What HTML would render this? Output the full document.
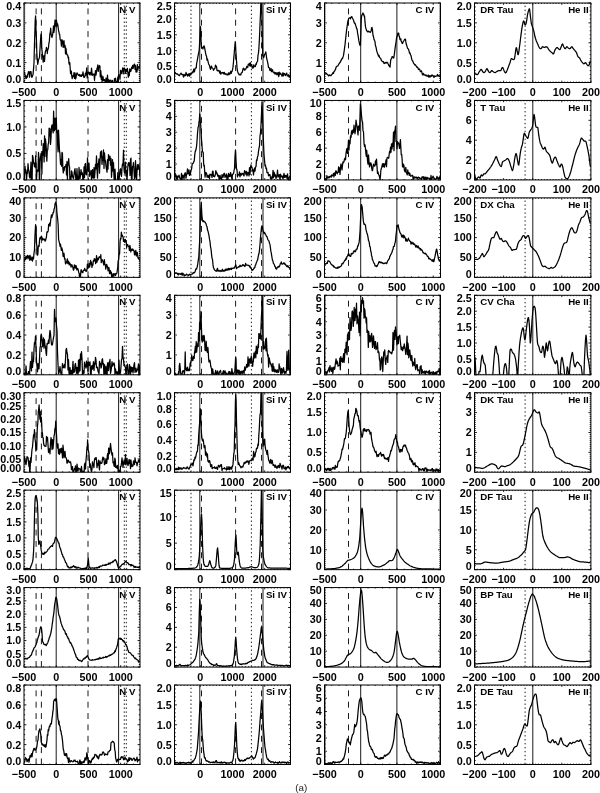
<!DOCTYPE html>
<html><head><meta charset="utf-8"><style>
html,body{margin:0;padding:0;background:#fff;width:600px;height:793px;overflow:hidden}
svg{display:block}
.t{font-family:"Liberation Sans",sans-serif;font-weight:bold;font-size:10.8px;fill:#000}
.n{font-family:"Liberation Sans",sans-serif;font-weight:bold;font-size:9.7px;fill:#000}
.a{font-family:"Liberation Sans",sans-serif;font-size:9.8px;fill:#222}
</style></head><body>
<svg width="600" height="793" viewBox="0 0 600 793">
<defs><filter id="bl" x="0" y="0" width="600" height="793" filterUnits="userSpaceOnUse"><feGaussianBlur stdDeviation="0.3"/></filter></defs>
<rect width="600" height="793" fill="#fff"/>
<g filter="url(#bl)">
<clipPath id="c00"><rect x="24.00" y="3.00" width="116.00" height="79.50"/></clipPath>
<line x1="36.10" y1="3.00" x2="36.10" y2="82.50" stroke="#000" stroke-width="0.9" stroke-dasharray="5.9 5.45" stroke-dashoffset="5.95"/>
<line x1="41.40" y1="3.00" x2="41.40" y2="82.50" stroke="#000" stroke-width="0.9" stroke-dasharray="5.9 5.45" stroke-dashoffset="5.95"/>
<line x1="88.00" y1="3.00" x2="88.00" y2="82.50" stroke="#000" stroke-width="0.9" stroke-dasharray="5.9 5.45" stroke-dashoffset="5.95"/>
<line x1="56.20" y1="3.00" x2="56.20" y2="82.50" stroke="#000" stroke-width="0.9"/>
<line x1="118.60" y1="3.00" x2="118.60" y2="82.50" stroke="#000" stroke-width="0.9"/>
<line x1="124.30" y1="3.00" x2="124.30" y2="82.50" stroke="#000" stroke-width="0.9" stroke-dasharray="1.4 2.55" stroke-dashoffset="1.25"/>
<line x1="126.30" y1="3.00" x2="126.30" y2="82.50" stroke="#000" stroke-width="0.9" stroke-dasharray="1.4 2.55" stroke-dashoffset="1.25"/>
<polyline clip-path="url(#c00)" fill="none" stroke="#000" stroke-width="1.25" stroke-linejoin="round" points="24.00,73.17 24.50,72.12 25.00,74.98 25.50,76.30 25.93,78.72 26.35,78.10 26.77,75.76 27.20,77.51 27.63,74.47 28.07,73.77 28.50,71.62 29.00,72.01 29.50,77.09 30.00,71.52 30.50,72.09 31.00,71.63 31.50,76.60 32.00,77.35 32.50,75.83 33.00,74.67 33.50,69.29 34.00,62.73 34.40,46.79 34.80,34.34 35.20,20.65 35.60,15.97 36.00,29.17 36.40,38.65 36.85,53.22 37.30,59.77 37.70,64.40 38.10,62.33 38.50,59.47 39.00,58.90 39.50,57.14 39.90,50.73 40.30,43.82 40.65,38.20 41.00,34.05 41.40,35.49 41.80,48.65 42.27,52.97 42.75,57.63 43.17,62.20 43.58,58.53 44.00,55.53 44.50,61.39 45.00,54.32 45.50,50.84 46.00,50.66 46.44,47.32 46.88,49.27 47.32,53.54 47.76,48.77 48.20,49.10 48.57,46.75 48.93,42.77 49.30,41.89 49.80,34.64 50.30,31.94 50.70,28.18 51.10,34.12 51.50,35.88 52.00,37.44 52.50,35.12 53.00,32.22 53.50,25.76 53.90,32.36 54.30,29.66 54.70,24.29 55.05,19.95 55.40,20.54 55.75,25.42 56.10,26.89 56.45,20.04 56.80,22.64 57.20,25.77 57.60,23.86 58.00,26.21 58.50,30.45 59.00,32.23 59.37,34.35 59.73,34.61 60.10,39.29 60.54,40.34 60.98,40.78 61.42,46.12 61.86,39.52 62.30,40.47 62.72,41.49 63.14,47.46 63.56,44.26 63.98,40.74 64.40,47.07 64.77,45.32 65.13,45.47 65.50,53.83 65.94,48.14 66.38,51.79 66.82,54.54 67.26,54.56 67.70,55.11 68.12,57.92 68.54,57.15 68.96,63.23 69.38,64.43 69.80,62.72 70.17,68.30 70.53,73.63 70.90,71.70 71.34,71.12 71.79,76.14 72.23,78.69 72.67,75.93 73.11,76.10 73.56,76.55 74.00,72.59 74.50,78.45 75.00,72.97 75.50,78.93 76.00,77.68 76.50,74.19 77.00,72.91 77.50,73.49 78.00,74.72 78.50,75.27 79.00,75.37 79.50,74.51 80.00,76.47 80.50,75.56 81.00,75.00 81.50,76.48 82.00,74.72 82.50,75.22 83.00,71.79 83.50,75.79 84.00,77.48 84.50,77.15 85.00,75.97 85.44,73.04 85.88,75.05 86.32,72.26 86.76,67.90 87.20,77.88 87.65,74.51 88.10,71.79 88.55,72.12 89.00,72.99 89.50,74.74 90.00,72.26 90.50,73.22 91.00,75.18 91.50,68.15 92.00,73.11 92.50,75.29 93.00,74.21 93.50,74.50 94.00,74.06 94.50,80.29 95.00,74.72 95.50,70.62 96.00,75.10 96.50,71.64 97.00,68.30 97.42,67.61 97.84,64.95 98.26,71.45 98.68,67.38 99.10,67.02 99.50,65.49 99.90,66.12 100.30,76.97 100.80,70.71 101.30,79.39 101.72,75.37 102.15,81.50 102.58,78.36 103.00,76.67 103.50,80.72 104.00,80.58 104.50,79.61 105.00,81.26 105.50,81.87 106.00,78.04 106.50,79.23 107.00,82.44 107.50,75.19 108.00,84.47 108.50,79.55 109.00,82.35 109.50,81.39 110.00,80.02 110.50,81.18 111.00,80.20 111.50,85.38 112.00,85.33 112.50,80.27 113.00,84.03 113.50,84.18 114.00,85.24 114.50,78.71 115.00,79.95 115.50,78.22 116.00,83.97 116.50,81.67 117.00,84.32 117.50,79.68 117.87,76.96 118.23,81.82 118.60,74.80 119.07,74.87 119.53,76.25 120.00,79.25 120.45,70.36 120.90,73.15 121.35,73.69 121.80,70.81 122.26,70.62 122.71,67.97 123.17,73.97 123.63,68.83 124.09,67.99 124.54,68.09 125.00,72.00 125.47,73.38 125.94,69.27 126.41,71.52 126.89,71.50 127.36,68.40 127.83,72.43 128.30,77.25 128.79,72.47 129.28,75.67 129.77,68.92 130.26,69.71 130.74,71.49 131.23,69.63 131.72,67.23 132.21,68.68 132.70,65.42 133.17,68.48 133.64,65.66 134.11,64.45 134.59,64.07 135.06,69.42 135.53,65.62 136.00,72.07 136.46,70.04 136.91,71.99 137.37,64.62 137.83,69.96 138.29,66.91 138.74,67.20 139.20,66.67 139.60,67.45 140.00,65.05"/>
<rect x="24.00" y="3.00" width="116.00" height="79.50" fill="none" stroke="#000" stroke-width="1.0"/>
<path d="M24.00,82.50h2.4M140.00,82.50h-2.4M24.00,62.62h2.4M140.00,62.62h-2.4M24.00,42.75h2.4M140.00,42.75h-2.4M24.00,22.87h2.4M140.00,22.87h-2.4M24.00,3.00h2.4M140.00,3.00h-2.4M24.00,80.51h1.2M140.00,80.51h-1.2M24.00,78.53h1.2M140.00,78.53h-1.2M24.00,76.54h1.2M140.00,76.54h-1.2M24.00,74.55h1.2M140.00,74.55h-1.2M24.00,72.56h1.2M140.00,72.56h-1.2M24.00,70.58h1.2M140.00,70.58h-1.2M24.00,68.59h1.2M140.00,68.59h-1.2M24.00,66.60h1.2M140.00,66.60h-1.2M24.00,64.61h1.2M140.00,64.61h-1.2M24.00,60.64h1.2M140.00,60.64h-1.2M24.00,58.65h1.2M140.00,58.65h-1.2M24.00,56.66h1.2M140.00,56.66h-1.2M24.00,54.67h1.2M140.00,54.67h-1.2M24.00,52.69h1.2M140.00,52.69h-1.2M24.00,50.70h1.2M140.00,50.70h-1.2M24.00,48.71h1.2M140.00,48.71h-1.2M24.00,46.73h1.2M140.00,46.73h-1.2M24.00,44.74h1.2M140.00,44.74h-1.2M24.00,40.76h1.2M140.00,40.76h-1.2M24.00,38.77h1.2M140.00,38.77h-1.2M24.00,36.79h1.2M140.00,36.79h-1.2M24.00,34.80h1.2M140.00,34.80h-1.2M24.00,32.81h1.2M140.00,32.81h-1.2M24.00,30.82h1.2M140.00,30.82h-1.2M24.00,28.84h1.2M140.00,28.84h-1.2M24.00,26.85h1.2M140.00,26.85h-1.2M24.00,24.86h1.2M140.00,24.86h-1.2M24.00,20.89h1.2M140.00,20.89h-1.2M24.00,18.90h1.2M140.00,18.90h-1.2M24.00,16.91h1.2M140.00,16.91h-1.2M24.00,14.92h1.2M140.00,14.92h-1.2M24.00,12.94h1.2M140.00,12.94h-1.2M24.00,10.95h1.2M140.00,10.95h-1.2M24.00,8.96h1.2M140.00,8.96h-1.2M24.00,6.98h1.2M140.00,6.98h-1.2M24.00,4.99h1.2M140.00,4.99h-1.2M24.00,82.50v-1.8M24.00,3.00v1.8M30.44,82.50v-0.9M30.44,3.00v0.9M36.89,82.50v-0.9M36.89,3.00v0.9M43.33,82.50v-0.9M43.33,3.00v0.9M49.78,82.50v-0.9M49.78,3.00v0.9M56.22,82.50v-1.8M56.22,3.00v1.8M62.67,82.50v-0.9M62.67,3.00v0.9M69.11,82.50v-0.9M69.11,3.00v0.9M75.56,82.50v-0.9M75.56,3.00v0.9M82.00,82.50v-0.9M82.00,3.00v0.9M88.44,82.50v-1.8M88.44,3.00v1.8M94.89,82.50v-0.9M94.89,3.00v0.9M101.33,82.50v-0.9M101.33,3.00v0.9M107.78,82.50v-0.9M107.78,3.00v0.9M114.22,82.50v-0.9M114.22,3.00v0.9M120.67,82.50v-1.8M120.67,3.00v1.8M127.11,82.50v-0.9M127.11,3.00v0.9M133.56,82.50v-0.9M133.56,3.00v0.9M140.00,82.50v-0.9M140.00,3.00v0.9" stroke="#000" stroke-width="0.9" fill="none"/>
<text x="21.15" y="82.70" text-anchor="end" class="t">0.0</text>
<text x="21.15" y="66.50" text-anchor="end" class="t">0.1</text>
<text x="21.15" y="46.63" text-anchor="end" class="t">0.2</text>
<text x="21.15" y="26.75" text-anchor="end" class="t">0.3</text>
<text x="21.15" y="9.80" text-anchor="end" class="t">0.4</text>
<text x="24.00" y="95.96" text-anchor="middle" class="t">−500</text>
<text x="56.22" y="95.96" text-anchor="middle" class="t">0</text>
<text x="88.44" y="95.96" text-anchor="middle" class="t">500</text>
<text x="120.67" y="95.96" text-anchor="middle" class="t">1000</text>
<text x="119.20" y="13.10" class="n">N V</text>
<clipPath id="c01"><rect x="174.50" y="3.00" width="116.00" height="79.50"/></clipPath>
<line x1="191.00" y1="3.00" x2="191.00" y2="82.50" stroke="#000" stroke-width="0.9" stroke-dasharray="1.4 2.55" stroke-dashoffset="1.25"/>
<line x1="251.40" y1="3.00" x2="251.40" y2="82.50" stroke="#000" stroke-width="0.9" stroke-dasharray="1.4 2.55" stroke-dashoffset="1.25"/>
<line x1="199.80" y1="3.00" x2="199.80" y2="82.50" stroke="#000" stroke-width="0.9"/>
<line x1="263.00" y1="3.00" x2="263.00" y2="82.50" stroke="#000" stroke-width="0.9"/>
<line x1="201.50" y1="3.00" x2="201.50" y2="82.50" stroke="#000" stroke-width="0.9" stroke-dasharray="5.9 5.45" stroke-dashoffset="5.95"/>
<line x1="235.60" y1="3.00" x2="235.60" y2="82.50" stroke="#000" stroke-width="0.9" stroke-dasharray="5.9 5.45" stroke-dashoffset="5.95"/>
<line x1="261.50" y1="3.00" x2="261.50" y2="82.50" stroke="#000" stroke-width="0.9" stroke-dasharray="5.9 5.45" stroke-dashoffset="5.95"/>
<polyline clip-path="url(#c01)" fill="none" stroke="#000" stroke-width="1.25" stroke-linejoin="round" points="174.50,74.19 175.00,72.13 175.50,73.51 176.00,73.49 176.50,73.93 177.00,74.18 177.50,73.90 178.00,74.55 178.50,75.21 179.00,75.37 179.50,75.62 180.00,74.23 180.50,73.98 181.00,73.03 181.50,74.24 182.00,74.58 182.50,74.34 183.00,75.12 183.50,77.05 184.00,74.29 184.50,75.82 185.00,75.18 185.50,75.64 186.00,72.49 186.50,74.13 187.00,74.75 187.50,76.15 188.00,74.05 188.50,75.67 189.00,73.53 189.50,76.04 190.00,74.53 190.42,73.25 190.83,74.74 191.25,73.38 191.75,73.00 192.25,71.88 192.75,72.87 193.25,71.20 193.75,69.21 194.25,71.96 194.75,70.46 195.25,68.17 195.75,68.23 196.25,67.82 196.67,63.12 197.08,61.46 197.50,59.02 197.92,56.63 198.33,54.39 198.75,52.98 199.25,49.35 199.75,40.53 200.12,33.16 200.50,26.67 200.88,33.89 201.25,45.46 201.62,48.12 202.00,47.25 202.50,47.82 203.00,49.00 203.50,46.40 204.00,45.80 204.50,47.12 205.00,49.83 205.50,52.70 206.00,55.10 206.50,56.06 207.00,60.06 207.50,59.04 208.00,61.37 208.50,63.47 209.00,64.87 209.50,65.28 210.00,67.94 210.50,69.33 211.00,66.98 211.50,66.15 212.00,67.97 212.50,68.04 213.00,68.66 213.50,70.25 214.00,69.34 214.50,68.89 215.00,68.20 215.50,65.16 216.00,65.95 216.50,66.67 217.00,70.45 217.44,70.82 217.88,70.44 218.31,70.82 218.75,70.46 219.25,71.00 219.75,73.19 220.25,71.10 220.75,74.24 221.25,73.01 221.75,72.62 222.25,73.00 222.75,72.44 223.25,72.90 223.75,73.90 224.22,72.29 224.69,73.36 225.16,74.47 225.62,73.78 226.09,74.13 226.56,74.00 227.03,75.06 227.50,74.37 227.97,74.71 228.44,72.92 228.91,74.75 229.38,73.00 229.84,74.12 230.31,72.66 230.78,71.14 231.25,73.33 231.69,71.71 232.12,71.36 232.56,69.44 233.00,67.14 233.42,62.71 233.83,57.40 234.25,53.01 234.75,46.76 235.25,41.65 235.62,47.71 236.00,53.31 236.50,60.83 237.00,67.65 237.50,71.18 238.00,72.40 238.42,73.86 238.83,73.81 239.25,74.98 239.75,74.26 240.25,74.29 240.75,75.02 241.25,73.12 241.75,72.53 242.25,72.39 242.75,70.25 243.25,68.26 243.75,68.40 244.25,69.35 244.75,70.23 245.25,69.04 245.75,69.20 246.25,68.04 246.75,66.45 247.25,66.93 247.75,67.51 248.25,64.15 248.75,64.95 249.25,63.69 249.75,65.86 250.25,62.59 250.75,66.20 251.25,64.88 251.75,64.49 252.25,68.19 252.75,66.88 253.25,68.01 253.75,64.94 254.17,65.65 254.58,66.63 255.00,66.70 255.44,66.27 255.88,63.99 256.31,64.38 256.75,62.43 257.17,61.71 257.58,60.86 258.00,55.30 258.38,53.65 258.75,50.42 259.25,42.29 259.75,31.30 260.12,21.68 260.50,13.75 261.00,-4.78 261.50,-2.76 262.00,21.20 262.38,41.12 262.75,55.80 263.25,55.85 263.75,57.59 264.25,55.56 264.75,54.12 265.25,53.95 265.75,51.84 266.17,54.42 266.58,57.98 267.00,59.57 267.50,61.63 268.00,64.09 268.50,67.35 269.00,67.35 269.50,68.49 270.00,70.54 270.50,70.32 271.00,68.45 271.50,71.64 272.00,70.61 272.50,69.72 273.00,72.03 273.50,72.02 274.00,73.09 274.50,72.20 275.00,74.15 275.47,72.64 275.94,73.98 276.41,72.93 276.88,74.98 277.34,74.44 277.81,72.54 278.28,72.94 278.75,76.55 279.22,72.24 279.69,74.64 280.16,73.12 280.62,73.12 281.09,74.41 281.56,74.74 282.03,76.34 282.50,74.10 282.97,72.75 283.44,75.77 283.91,73.46 284.38,73.83 284.84,73.63 285.31,75.59 285.78,74.66 286.25,74.31 286.75,73.03 287.25,75.79 287.75,75.62 288.25,76.07 288.75,74.68 289.19,77.24 289.62,76.09 290.06,77.31 290.50,76.48"/>
<rect x="174.50" y="3.00" width="116.00" height="79.50" fill="none" stroke="#000" stroke-width="1.0"/>
<path d="M174.50,82.50h2.4M290.50,82.50h-2.4M174.50,66.60h2.4M290.50,66.60h-2.4M174.50,50.70h2.4M290.50,50.70h-2.4M174.50,34.80h2.4M290.50,34.80h-2.4M174.50,18.90h2.4M290.50,18.90h-2.4M174.50,3.00h2.4M290.50,3.00h-2.4M174.50,79.32h1.2M290.50,79.32h-1.2M174.50,76.14h1.2M290.50,76.14h-1.2M174.50,72.96h1.2M290.50,72.96h-1.2M174.50,69.78h1.2M290.50,69.78h-1.2M174.50,63.42h1.2M290.50,63.42h-1.2M174.50,60.24h1.2M290.50,60.24h-1.2M174.50,57.06h1.2M290.50,57.06h-1.2M174.50,53.88h1.2M290.50,53.88h-1.2M174.50,47.52h1.2M290.50,47.52h-1.2M174.50,44.34h1.2M290.50,44.34h-1.2M174.50,41.16h1.2M290.50,41.16h-1.2M174.50,37.98h1.2M290.50,37.98h-1.2M174.50,31.62h1.2M290.50,31.62h-1.2M174.50,28.44h1.2M290.50,28.44h-1.2M174.50,25.26h1.2M290.50,25.26h-1.2M174.50,22.08h1.2M290.50,22.08h-1.2M174.50,15.72h1.2M290.50,15.72h-1.2M174.50,12.54h1.2M290.50,12.54h-1.2M174.50,9.36h1.2M290.50,9.36h-1.2M174.50,6.18h1.2M290.50,6.18h-1.2M174.50,82.50v-0.9M174.50,3.00v0.9M177.72,82.50v-0.9M177.72,3.00v0.9M180.94,82.50v-0.9M180.94,3.00v0.9M184.17,82.50v-0.9M184.17,3.00v0.9M187.39,82.50v-0.9M187.39,3.00v0.9M190.61,82.50v-0.9M190.61,3.00v0.9M193.83,82.50v-0.9M193.83,3.00v0.9M197.06,82.50v-0.9M197.06,3.00v0.9M200.28,82.50v-1.8M200.28,3.00v1.8M203.50,82.50v-0.9M203.50,3.00v0.9M206.72,82.50v-0.9M206.72,3.00v0.9M209.94,82.50v-0.9M209.94,3.00v0.9M213.17,82.50v-0.9M213.17,3.00v0.9M216.39,82.50v-0.9M216.39,3.00v0.9M219.61,82.50v-0.9M219.61,3.00v0.9M222.83,82.50v-0.9M222.83,3.00v0.9M226.06,82.50v-0.9M226.06,3.00v0.9M229.28,82.50v-0.9M229.28,3.00v0.9M232.50,82.50v-1.8M232.50,3.00v1.8M235.72,82.50v-0.9M235.72,3.00v0.9M238.94,82.50v-0.9M238.94,3.00v0.9M242.17,82.50v-0.9M242.17,3.00v0.9M245.39,82.50v-0.9M245.39,3.00v0.9M248.61,82.50v-0.9M248.61,3.00v0.9M251.83,82.50v-0.9M251.83,3.00v0.9M255.06,82.50v-0.9M255.06,3.00v0.9M258.28,82.50v-0.9M258.28,3.00v0.9M261.50,82.50v-0.9M261.50,3.00v0.9M264.72,82.50v-1.8M264.72,3.00v1.8M267.94,82.50v-0.9M267.94,3.00v0.9M271.17,82.50v-0.9M271.17,3.00v0.9M274.39,82.50v-0.9M274.39,3.00v0.9M277.61,82.50v-0.9M277.61,3.00v0.9M280.83,82.50v-0.9M280.83,3.00v0.9M284.06,82.50v-0.9M284.06,3.00v0.9M287.28,82.50v-0.9M287.28,3.00v0.9M290.50,82.50v-0.9M290.50,3.00v0.9" stroke="#000" stroke-width="0.9" fill="none"/>
<text x="171.65" y="82.70" text-anchor="end" class="t">0.0</text>
<text x="171.65" y="70.48" text-anchor="end" class="t">0.5</text>
<text x="171.65" y="54.58" text-anchor="end" class="t">1.0</text>
<text x="171.65" y="38.68" text-anchor="end" class="t">1.5</text>
<text x="171.65" y="22.78" text-anchor="end" class="t">2.0</text>
<text x="171.65" y="9.80" text-anchor="end" class="t">2.5</text>
<text x="200.28" y="95.96" text-anchor="middle" class="t">0</text>
<text x="232.50" y="95.96" text-anchor="middle" class="t">1000</text>
<text x="264.72" y="95.96" text-anchor="middle" class="t">2000</text>
<text x="286.90" y="13.10" text-anchor="end" class="n">Si IV</text>
<clipPath id="c02"><rect x="324.50" y="3.00" width="116.00" height="79.50"/></clipPath>
<line x1="360.70" y1="3.00" x2="360.70" y2="82.50" stroke="#000" stroke-width="0.9"/>
<line x1="396.90" y1="3.00" x2="396.90" y2="82.50" stroke="#000" stroke-width="0.9"/>
<line x1="348.50" y1="3.00" x2="348.50" y2="82.50" stroke="#000" stroke-width="0.9" stroke-dasharray="5.9 5.45" stroke-dashoffset="5.95"/>
<polyline clip-path="url(#c02)" fill="none" stroke="#000" stroke-width="1.25" stroke-linejoin="round" points="324.50,74.12 325.00,73.53 325.50,73.04 326.00,73.08 326.50,73.48 327.00,74.34 327.50,74.35 328.00,74.94 328.50,75.87 329.00,75.64 329.50,74.97 330.00,75.40 330.50,75.56 331.00,75.69 331.50,74.69 332.00,74.47 332.50,73.53 333.00,72.60 333.50,73.46 334.00,71.32 334.50,71.28 335.00,70.13 335.50,69.51 336.00,67.28 336.50,66.73 337.00,66.04 337.50,66.05 338.00,65.81 338.50,64.62 339.00,63.72 339.50,63.31 340.00,62.22 340.50,62.14 341.00,60.14 341.50,60.04 342.00,58.41 342.50,58.50 343.00,57.02 343.50,55.40 344.00,52.21 344.50,48.46 345.00,44.65 345.42,40.74 345.83,36.95 346.25,33.06 346.67,29.31 347.08,26.79 347.50,23.48 347.92,20.98 348.33,19.71 348.75,18.26 349.17,17.98 349.58,17.88 350.00,17.88 350.44,18.93 350.88,17.20 351.31,17.48 351.75,16.62 352.17,17.52 352.58,18.33 353.00,19.22 353.50,20.01 354.00,22.05 354.50,23.27 355.00,23.15 355.42,24.50 355.83,25.90 356.25,27.06 356.67,28.84 357.08,28.79 357.50,32.51 357.92,34.77 358.33,37.12 358.75,40.18 359.25,42.62 359.75,44.91 360.12,45.33 360.50,44.59 360.88,32.43 361.25,19.61 361.67,15.47 362.08,14.70 362.50,14.61 362.92,12.96 363.33,14.50 363.75,14.26 364.12,16.22 364.50,15.91 365.00,21.92 365.50,26.90 366.00,28.56 366.50,30.45 367.00,31.20 367.44,31.12 367.88,32.00 368.31,31.46 368.75,31.11 369.25,31.79 369.75,31.92 370.25,32.33 370.75,31.79 371.17,30.66 371.58,27.82 372.00,27.50 372.50,30.19 373.00,35.24 373.50,36.91 374.00,39.33 374.50,40.58 374.94,41.13 375.38,45.21 375.81,46.48 376.25,48.35 376.69,50.83 377.12,52.12 377.56,53.69 378.00,54.42 378.50,56.22 379.00,55.31 379.50,57.27 380.00,57.98 380.50,58.07 381.00,59.20 381.50,60.70 382.00,60.97 382.50,61.62 383.00,61.81 383.50,61.63 384.00,63.55 384.50,63.50 385.00,62.83 385.50,62.46 386.00,63.07 386.50,62.93 387.00,62.23 387.50,62.63 387.92,63.52 388.33,64.22 388.75,65.50 389.17,65.30 389.58,66.53 390.00,67.18 390.38,63.16 390.75,59.88 391.19,58.75 391.62,58.66 392.06,56.53 392.50,57.14 392.92,56.91 393.33,57.70 393.75,58.02 394.17,55.51 394.58,52.31 395.00,48.89 395.50,45.25 396.00,42.25 396.50,38.41 396.94,36.74 397.38,35.66 397.81,33.31 398.25,33.09 398.67,33.13 399.08,36.45 399.50,36.63 399.94,39.44 400.38,39.77 400.81,38.92 401.25,41.42 401.67,41.92 402.08,43.27 402.50,43.48 402.92,42.42 403.33,41.35 403.75,40.88 404.17,40.31 404.58,39.50 405.00,39.07 405.42,39.01 405.83,41.88 406.25,44.02 406.69,45.19 407.12,46.85 407.56,48.32 408.00,48.66 408.50,49.14 409.00,50.81 409.50,53.16 410.00,52.81 410.50,54.86 411.00,55.36 411.50,58.08 412.00,60.23 412.50,60.52 413.00,61.75 413.50,63.16 414.00,63.71 414.50,64.19 415.00,65.16 415.50,64.92 416.00,65.71 416.50,66.74 417.00,67.25 417.50,67.08 418.00,67.97 418.50,69.51 419.00,69.25 419.50,68.96 420.00,70.41 420.50,71.71 421.00,70.91 421.50,70.96 422.00,72.94 422.50,74.93 423.00,74.91 423.50,73.35 424.00,74.96 424.50,74.79 425.00,75.20 425.47,75.61 425.94,74.88 426.41,75.93 426.88,75.83 427.34,76.12 427.81,76.26 428.28,75.01 428.75,77.16 429.22,77.18 429.69,75.68 430.16,76.93 430.62,75.89 431.09,76.44 431.56,75.08 432.03,75.55 432.50,75.09 433.00,76.04 433.50,75.94 434.00,77.52 434.50,75.90 435.00,76.26 435.50,76.40 436.00,76.12 436.50,76.09 437.00,75.66 437.50,74.38 438.00,75.94 438.50,76.02 439.00,75.53 439.50,76.03 440.00,76.74 440.50,75.52"/>
<rect x="324.50" y="3.00" width="116.00" height="79.50" fill="none" stroke="#000" stroke-width="1.0"/>
<path d="M324.50,82.50h2.4M440.50,82.50h-2.4M324.50,62.62h2.4M440.50,62.62h-2.4M324.50,42.75h2.4M440.50,42.75h-2.4M324.50,22.88h2.4M440.50,22.88h-2.4M324.50,3.00h2.4M440.50,3.00h-2.4M324.50,80.51h1.2M440.50,80.51h-1.2M324.50,78.53h1.2M440.50,78.53h-1.2M324.50,76.54h1.2M440.50,76.54h-1.2M324.50,74.55h1.2M440.50,74.55h-1.2M324.50,72.56h1.2M440.50,72.56h-1.2M324.50,70.58h1.2M440.50,70.58h-1.2M324.50,68.59h1.2M440.50,68.59h-1.2M324.50,66.60h1.2M440.50,66.60h-1.2M324.50,64.61h1.2M440.50,64.61h-1.2M324.50,60.64h1.2M440.50,60.64h-1.2M324.50,58.65h1.2M440.50,58.65h-1.2M324.50,56.66h1.2M440.50,56.66h-1.2M324.50,54.67h1.2M440.50,54.67h-1.2M324.50,52.69h1.2M440.50,52.69h-1.2M324.50,50.70h1.2M440.50,50.70h-1.2M324.50,48.71h1.2M440.50,48.71h-1.2M324.50,46.73h1.2M440.50,46.73h-1.2M324.50,44.74h1.2M440.50,44.74h-1.2M324.50,40.76h1.2M440.50,40.76h-1.2M324.50,38.77h1.2M440.50,38.77h-1.2M324.50,36.79h1.2M440.50,36.79h-1.2M324.50,34.80h1.2M440.50,34.80h-1.2M324.50,32.81h1.2M440.50,32.81h-1.2M324.50,30.82h1.2M440.50,30.82h-1.2M324.50,28.84h1.2M440.50,28.84h-1.2M324.50,26.85h1.2M440.50,26.85h-1.2M324.50,24.86h1.2M440.50,24.86h-1.2M324.50,20.89h1.2M440.50,20.89h-1.2M324.50,18.90h1.2M440.50,18.90h-1.2M324.50,16.91h1.2M440.50,16.91h-1.2M324.50,14.92h1.2M440.50,14.92h-1.2M324.50,12.94h1.2M440.50,12.94h-1.2M324.50,10.95h1.2M440.50,10.95h-1.2M324.50,8.96h1.2M440.50,8.96h-1.2M324.50,6.98h1.2M440.50,6.98h-1.2M324.50,4.99h1.2M440.50,4.99h-1.2M324.50,82.50v-1.8M324.50,3.00v1.8M331.75,82.50v-0.9M331.75,3.00v0.9M339.00,82.50v-0.9M339.00,3.00v0.9M346.25,82.50v-0.9M346.25,3.00v0.9M353.50,82.50v-0.9M353.50,3.00v0.9M360.75,82.50v-1.8M360.75,3.00v1.8M368.00,82.50v-0.9M368.00,3.00v0.9M375.25,82.50v-0.9M375.25,3.00v0.9M382.50,82.50v-0.9M382.50,3.00v0.9M389.75,82.50v-0.9M389.75,3.00v0.9M397.00,82.50v-1.8M397.00,3.00v1.8M404.25,82.50v-0.9M404.25,3.00v0.9M411.50,82.50v-0.9M411.50,3.00v0.9M418.75,82.50v-0.9M418.75,3.00v0.9M426.00,82.50v-0.9M426.00,3.00v0.9M433.25,82.50v-1.8M433.25,3.00v1.8M440.50,82.50v-0.9M440.50,3.00v0.9" stroke="#000" stroke-width="0.9" fill="none"/>
<text x="321.65" y="82.70" text-anchor="end" class="t">0</text>
<text x="321.65" y="66.50" text-anchor="end" class="t">1</text>
<text x="321.65" y="46.63" text-anchor="end" class="t">2</text>
<text x="321.65" y="26.75" text-anchor="end" class="t">3</text>
<text x="321.65" y="9.80" text-anchor="end" class="t">4</text>
<text x="324.50" y="95.96" text-anchor="middle" class="t">−500</text>
<text x="360.75" y="95.96" text-anchor="middle" class="t">0</text>
<text x="397.00" y="95.96" text-anchor="middle" class="t">500</text>
<text x="433.25" y="95.96" text-anchor="middle" class="t">1000</text>
<text x="434.30" y="13.10" text-anchor="end" class="n">C IV</text>
<clipPath id="c03"><rect x="474.50" y="3.00" width="116.40" height="79.50"/></clipPath>
<line x1="532.80" y1="3.00" x2="532.80" y2="82.50" stroke="#000" stroke-width="0.9"/>
<line x1="525.10" y1="3.00" x2="525.10" y2="82.50" stroke="#000" stroke-width="0.9" stroke-dasharray="1.4 2.55" stroke-dashoffset="1.25"/>
<polyline clip-path="url(#c03)" fill="none" stroke="#000" stroke-width="1.25" stroke-linejoin="round" points="474.50,72.56 474.92,72.89 475.33,73.34 475.75,73.75 476.19,74.07 476.62,74.40 477.06,74.61 477.50,74.55 477.94,74.10 478.38,73.36 478.81,72.52 479.25,71.77 479.75,71.03 480.25,70.25 480.75,69.63 481.25,69.38 481.75,69.88 482.25,70.91 482.75,71.77 483.25,72.25 483.75,72.56 484.25,72.56 484.75,72.11 485.25,71.34 485.75,70.58 486.17,69.74 486.58,68.90 487.00,68.59 487.50,69.22 488.00,70.38 488.50,71.37 489.00,72.00 489.50,72.46 490.00,72.56 490.44,72.21 490.88,71.57 491.31,70.92 491.75,70.58 492.25,70.75 492.75,71.28 493.25,71.77 493.69,72.04 494.12,72.31 494.56,72.51 495.00,72.56 495.50,72.39 496.00,72.07 496.50,71.69 497.00,71.37 497.50,71.12 498.00,70.90 498.50,70.71 499.00,70.58 499.44,70.58 499.88,70.58 500.31,70.58 500.75,70.58 501.19,69.85 501.62,68.79 502.06,67.82 502.50,67.39 503.00,68.01 503.50,69.34 504.00,70.58 504.50,71.61 505.00,72.55 505.50,72.96 506.00,72.58 506.50,71.66 507.00,70.58 507.50,69.37 508.00,67.98 508.50,66.60 509.00,65.28 509.50,63.95 510.00,62.62 510.42,61.12 510.83,59.62 511.25,58.65 511.69,58.55 512.12,58.85 512.56,59.25 513.00,59.45 513.50,59.56 514.00,59.56 514.50,58.65 514.94,56.21 515.38,52.71 515.81,49.40 516.25,47.52 516.67,48.15 517.08,50.60 517.50,52.69 517.88,54.50 518.25,54.67 518.67,52.91 519.08,50.04 519.50,46.73 520.00,42.97 520.50,38.77 521.00,34.80 521.50,31.12 522.00,27.66 522.50,24.86 522.92,22.80 523.33,21.40 523.75,20.89 524.17,21.84 524.58,23.68 525.00,24.86 525.42,24.86 525.83,24.20 526.25,22.88 526.67,20.55 527.08,17.56 527.50,14.92 527.92,12.97 528.33,11.36 528.75,10.16 529.12,8.89 529.50,8.96 529.88,11.37 530.25,14.92 530.75,19.02 531.25,22.88 531.67,24.49 532.08,25.67 532.50,26.85 532.92,28.10 533.33,29.35 533.75,30.82 534.17,32.74 534.58,34.87 535.00,36.79 535.42,38.26 535.83,39.51 536.25,40.76 536.69,41.77 537.12,42.80 537.56,43.80 538.00,44.74 538.50,45.94 539.00,47.06 539.50,47.92 540.00,48.46 540.50,48.74 541.00,48.71 541.50,48.15 542.00,47.28 542.50,46.73 542.94,46.77 543.38,47.05 543.81,47.37 544.25,47.52 544.69,47.40 545.12,47.12 545.56,46.85 546.00,46.73 546.50,46.81 547.00,47.08 547.50,47.52 548.00,48.23 548.50,49.11 549.00,49.91 549.50,50.51 550.00,51.02 550.50,51.49 551.00,51.92 551.50,52.30 552.00,52.69 552.50,53.28 553.00,53.87 553.50,53.88 554.00,52.88 554.50,51.30 555.00,49.91 555.50,49.11 556.00,48.39 556.50,47.83 557.00,47.52 557.50,47.67 558.00,48.21 558.50,48.71 559.00,49.17 559.50,49.58 560.00,49.51 560.50,48.58 561.00,47.17 561.50,45.93 562.00,44.54 562.50,43.94 562.92,44.55 563.33,45.68 563.75,46.73 564.25,47.59 564.75,48.37 565.25,48.71 565.75,48.23 566.25,47.30 566.75,46.73 567.25,46.90 567.75,47.43 568.25,47.92 568.69,48.21 569.12,48.51 569.56,48.72 570.00,48.71 570.44,48.32 570.88,47.64 571.31,47.01 571.75,46.73 572.25,47.09 572.75,47.90 573.25,48.71 573.69,49.21 574.12,49.71 574.56,50.20 575.00,50.70 575.50,51.29 576.00,51.88 576.50,52.69 577.00,53.97 577.50,55.47 578.00,56.66 578.50,57.21 579.00,57.44 579.50,57.86 580.00,58.69 580.50,59.71 581.00,60.64 581.50,61.39 582.00,62.05 582.50,62.62 583.00,63.17 583.50,63.63 584.00,63.82 584.50,63.48 585.00,62.88 585.50,62.62 586.00,63.08 586.50,63.89 587.00,64.61 587.42,65.16 587.83,65.61 588.25,65.81 588.75,65.53 589.25,64.61 589.67,63.35 590.08,61.77 590.50,60.64"/>
<rect x="474.50" y="3.00" width="116.40" height="79.50" fill="none" stroke="#000" stroke-width="1.0"/>
<path d="M474.50,82.50h2.4M590.90,82.50h-2.4M474.50,62.62h2.4M590.90,62.62h-2.4M474.50,42.75h2.4M590.90,42.75h-2.4M474.50,22.88h2.4M590.90,22.88h-2.4M474.50,3.00h2.4M590.90,3.00h-2.4M474.50,78.53h1.2M590.90,78.53h-1.2M474.50,74.55h1.2M590.90,74.55h-1.2M474.50,70.58h1.2M590.90,70.58h-1.2M474.50,66.60h1.2M590.90,66.60h-1.2M474.50,58.65h1.2M590.90,58.65h-1.2M474.50,54.67h1.2M590.90,54.67h-1.2M474.50,50.70h1.2M590.90,50.70h-1.2M474.50,46.73h1.2M590.90,46.73h-1.2M474.50,38.77h1.2M590.90,38.77h-1.2M474.50,34.80h1.2M590.90,34.80h-1.2M474.50,30.82h1.2M590.90,30.82h-1.2M474.50,26.85h1.2M590.90,26.85h-1.2M474.50,18.90h1.2M590.90,18.90h-1.2M474.50,14.92h1.2M590.90,14.92h-1.2M474.50,10.95h1.2M590.90,10.95h-1.2M474.50,6.98h1.2M590.90,6.98h-1.2M474.50,82.50v-1.8M474.50,3.00v1.8M477.41,82.50v-0.9M477.41,3.00v0.9M480.32,82.50v-0.9M480.32,3.00v0.9M483.23,82.50v-0.9M483.23,3.00v0.9M486.14,82.50v-0.9M486.14,3.00v0.9M489.05,82.50v-0.9M489.05,3.00v0.9M491.96,82.50v-0.9M491.96,3.00v0.9M494.87,82.50v-0.9M494.87,3.00v0.9M497.78,82.50v-0.9M497.78,3.00v0.9M500.69,82.50v-0.9M500.69,3.00v0.9M503.60,82.50v-1.8M503.60,3.00v1.8M506.51,82.50v-0.9M506.51,3.00v0.9M509.42,82.50v-0.9M509.42,3.00v0.9M512.33,82.50v-0.9M512.33,3.00v0.9M515.24,82.50v-0.9M515.24,3.00v0.9M518.15,82.50v-0.9M518.15,3.00v0.9M521.06,82.50v-0.9M521.06,3.00v0.9M523.97,82.50v-0.9M523.97,3.00v0.9M526.88,82.50v-0.9M526.88,3.00v0.9M529.79,82.50v-0.9M529.79,3.00v0.9M532.70,82.50v-1.8M532.70,3.00v1.8M535.61,82.50v-0.9M535.61,3.00v0.9M538.52,82.50v-0.9M538.52,3.00v0.9M541.43,82.50v-0.9M541.43,3.00v0.9M544.34,82.50v-0.9M544.34,3.00v0.9M547.25,82.50v-0.9M547.25,3.00v0.9M550.16,82.50v-0.9M550.16,3.00v0.9M553.07,82.50v-0.9M553.07,3.00v0.9M555.98,82.50v-0.9M555.98,3.00v0.9M558.89,82.50v-0.9M558.89,3.00v0.9M561.80,82.50v-1.8M561.80,3.00v1.8M564.71,82.50v-0.9M564.71,3.00v0.9M567.62,82.50v-0.9M567.62,3.00v0.9M570.53,82.50v-0.9M570.53,3.00v0.9M573.44,82.50v-0.9M573.44,3.00v0.9M576.35,82.50v-0.9M576.35,3.00v0.9M579.26,82.50v-0.9M579.26,3.00v0.9M582.17,82.50v-0.9M582.17,3.00v0.9M585.08,82.50v-0.9M585.08,3.00v0.9M587.99,82.50v-0.9M587.99,3.00v0.9M590.90,82.50v-1.8M590.90,3.00v1.8" stroke="#000" stroke-width="0.9" fill="none"/>
<text x="471.65" y="82.70" text-anchor="end" class="t">0.0</text>
<text x="471.65" y="66.50" text-anchor="end" class="t">0.5</text>
<text x="471.65" y="46.63" text-anchor="end" class="t">1.0</text>
<text x="471.65" y="26.75" text-anchor="end" class="t">1.5</text>
<text x="471.65" y="9.80" text-anchor="end" class="t">2.0</text>
<text x="474.50" y="95.96" text-anchor="middle" class="t">−200</text>
<text x="503.60" y="95.96" text-anchor="middle" class="t">−100</text>
<text x="532.70" y="95.96" text-anchor="middle" class="t">0</text>
<text x="561.80" y="95.96" text-anchor="middle" class="t">100</text>
<text x="590.90" y="95.96" text-anchor="middle" class="t">200</text>
<text x="480.30" y="13.10" class="n">DR Tau</text>
<text x="588.60" y="13.10" text-anchor="end" class="n">He II</text>
<clipPath id="c10"><rect x="24.00" y="100.43" width="116.00" height="79.50"/></clipPath>
<line x1="36.10" y1="100.43" x2="36.10" y2="179.93" stroke="#000" stroke-width="0.9" stroke-dasharray="5.9 5.45" stroke-dashoffset="5.95"/>
<line x1="41.40" y1="100.43" x2="41.40" y2="179.93" stroke="#000" stroke-width="0.9" stroke-dasharray="5.9 5.45" stroke-dashoffset="5.95"/>
<line x1="88.00" y1="100.43" x2="88.00" y2="179.93" stroke="#000" stroke-width="0.9" stroke-dasharray="5.9 5.45" stroke-dashoffset="5.95"/>
<line x1="56.20" y1="100.43" x2="56.20" y2="179.93" stroke="#000" stroke-width="0.9"/>
<line x1="118.60" y1="100.43" x2="118.60" y2="179.93" stroke="#000" stroke-width="0.9"/>
<line x1="124.30" y1="100.43" x2="124.30" y2="179.93" stroke="#000" stroke-width="0.9" stroke-dasharray="1.4 2.55" stroke-dashoffset="1.25"/>
<line x1="126.30" y1="100.43" x2="126.30" y2="179.93" stroke="#000" stroke-width="0.9" stroke-dasharray="1.4 2.55" stroke-dashoffset="1.25"/>
<polyline clip-path="url(#c10)" fill="none" stroke="#000" stroke-width="1.25" stroke-linejoin="round" points="24.00,184.35 24.50,173.56 25.00,166.10 25.50,172.76 26.00,170.00 26.50,181.52 27.00,172.36 27.50,173.27 28.00,163.70 28.50,169.50 29.00,171.30 29.50,176.99 30.00,178.00 30.50,171.92 31.00,162.07 31.50,184.67 32.00,190.58 32.50,155.35 33.00,157.27 33.50,163.15 34.00,163.89 34.40,166.54 34.80,162.79 35.20,167.20 35.63,155.95 36.07,165.34 36.50,180.49 37.00,170.22 37.50,170.49 38.00,171.22 38.50,152.46 39.00,158.64 39.50,189.45 40.00,162.94 40.50,157.37 41.00,153.55 41.50,155.38 41.92,173.98 42.33,151.44 42.75,155.34 43.20,143.71 43.65,149.29 44.10,161.91 44.55,135.78 45.00,156.53 45.46,138.82 45.91,142.99 46.37,149.43 46.83,161.18 47.29,150.32 47.74,149.98 48.20,143.93 48.65,142.81 49.10,128.14 49.55,135.55 50.00,128.75 50.50,144.49 51.00,138.04 51.50,126.80 52.00,124.89 52.40,124.89 52.80,130.62 53.20,132.84 53.60,111.16 54.07,130.30 54.53,130.71 55.00,118.07 55.43,127.11 55.87,129.33 56.30,117.97 56.75,132.78 57.20,130.52 57.63,144.30 58.07,151.85 58.50,130.07 59.00,140.89 59.50,150.57 60.00,154.18 60.50,164.28 61.00,159.86 61.50,166.20 62.00,152.33 62.43,153.31 62.87,168.61 63.30,172.86 63.72,167.51 64.15,170.58 64.58,166.61 65.00,166.73 65.50,166.79 66.00,164.26 66.50,174.99 67.00,161.44 67.42,179.67 67.85,162.32 68.28,163.66 68.70,158.66 69.13,165.43 69.57,166.80 70.00,185.03 70.50,176.90 71.00,179.29 71.50,170.91 72.00,172.25 72.50,176.92 73.00,177.45 73.50,178.87 74.00,174.66 74.50,170.59 75.00,168.64 75.50,174.82 76.00,181.43 76.50,179.79 77.00,168.61 77.50,181.39 78.00,176.33 78.50,190.53 79.00,167.47 79.50,173.52 80.00,178.54 80.50,175.42 81.00,169.52 81.50,174.66 82.00,172.32 82.50,173.88 83.00,182.49 83.50,186.46 84.00,166.76 84.50,177.36 85.00,164.34 85.50,163.51 86.00,174.34 86.50,174.85 87.00,173.63 87.50,157.78 88.00,169.47 88.50,171.45 89.00,163.23 89.50,176.32 90.00,173.86 90.50,173.92 91.00,170.34 91.50,179.48 92.00,175.08 92.50,169.62 93.00,177.88 93.50,178.07 94.00,167.61 94.50,177.88 95.00,171.84 95.50,164.40 96.00,168.92 96.50,155.84 97.00,168.86 97.50,178.21 98.00,163.61 98.50,163.65 99.00,158.76 99.50,173.13 100.00,162.06 100.50,151.83 101.00,157.39 101.50,150.86 102.00,164.40 102.50,156.59 103.00,160.53 103.50,149.97 104.00,168.51 104.50,152.95 105.00,159.98 105.50,161.10 106.00,166.25 106.50,169.32 107.00,172.21 107.50,159.68 108.00,169.08 108.50,154.53 109.00,159.97 109.50,160.31 110.00,156.10 110.50,165.21 111.00,158.39 111.50,177.32 112.00,169.10 112.50,159.74 113.00,171.00 113.50,162.58 114.00,176.74 114.50,184.43 115.00,169.18 115.50,178.66 116.00,181.43 116.50,180.66 117.00,185.53 117.40,182.08 117.80,172.71 118.20,181.98 118.60,176.92 119.09,180.57 119.57,173.93 120.06,169.57 120.54,168.73 121.03,174.12 121.51,176.32 122.00,168.37 122.50,163.79 123.00,165.27 123.50,150.22 124.00,168.55 124.50,173.23 125.00,171.35 125.50,162.24 126.00,176.06 126.50,170.56 127.00,180.95 127.50,171.25 128.00,164.70 128.50,162.59 129.00,165.67 129.50,162.90 130.00,175.47 130.50,159.26 131.00,158.19 131.50,182.87 132.00,179.38 132.50,166.41 133.00,166.55 133.50,162.50 134.00,170.71 134.50,178.99 135.00,176.61 135.50,160.73 136.00,170.73 136.50,182.66 137.00,171.14 137.50,164.58 138.00,169.35 138.50,164.84 139.00,165.81 139.50,169.17 140.00,176.63"/>
<rect x="24.00" y="100.43" width="116.00" height="79.50" fill="none" stroke="#000" stroke-width="1.0"/>
<path d="M24.00,179.93h2.4M140.00,179.93h-2.4M24.00,153.43h2.4M140.00,153.43h-2.4M24.00,126.93h2.4M140.00,126.93h-2.4M24.00,100.43h2.4M140.00,100.43h-2.4M24.00,174.63h1.2M140.00,174.63h-1.2M24.00,169.33h1.2M140.00,169.33h-1.2M24.00,164.03h1.2M140.00,164.03h-1.2M24.00,158.73h1.2M140.00,158.73h-1.2M24.00,148.13h1.2M140.00,148.13h-1.2M24.00,142.83h1.2M140.00,142.83h-1.2M24.00,137.53h1.2M140.00,137.53h-1.2M24.00,132.23h1.2M140.00,132.23h-1.2M24.00,121.63h1.2M140.00,121.63h-1.2M24.00,116.33h1.2M140.00,116.33h-1.2M24.00,111.03h1.2M140.00,111.03h-1.2M24.00,105.73h1.2M140.00,105.73h-1.2M24.00,179.93v-1.8M24.00,100.43v1.8M30.44,179.93v-0.9M30.44,100.43v0.9M36.89,179.93v-0.9M36.89,100.43v0.9M43.33,179.93v-0.9M43.33,100.43v0.9M49.78,179.93v-0.9M49.78,100.43v0.9M56.22,179.93v-1.8M56.22,100.43v1.8M62.67,179.93v-0.9M62.67,100.43v0.9M69.11,179.93v-0.9M69.11,100.43v0.9M75.56,179.93v-0.9M75.56,100.43v0.9M82.00,179.93v-0.9M82.00,100.43v0.9M88.44,179.93v-1.8M88.44,100.43v1.8M94.89,179.93v-0.9M94.89,100.43v0.9M101.33,179.93v-0.9M101.33,100.43v0.9M107.78,179.93v-0.9M107.78,100.43v0.9M114.22,179.93v-0.9M114.22,100.43v0.9M120.67,179.93v-1.8M120.67,100.43v1.8M127.11,179.93v-0.9M127.11,100.43v0.9M133.56,179.93v-0.9M133.56,100.43v0.9M140.00,179.93v-0.9M140.00,100.43v0.9" stroke="#000" stroke-width="0.9" fill="none"/>
<text x="21.15" y="180.13" text-anchor="end" class="t">0.0</text>
<text x="21.15" y="157.31" text-anchor="end" class="t">0.5</text>
<text x="21.15" y="130.81" text-anchor="end" class="t">1.0</text>
<text x="21.15" y="107.23" text-anchor="end" class="t">1.5</text>
<text x="24.00" y="193.39" text-anchor="middle" class="t">−500</text>
<text x="56.22" y="193.39" text-anchor="middle" class="t">0</text>
<text x="88.44" y="193.39" text-anchor="middle" class="t">500</text>
<text x="120.67" y="193.39" text-anchor="middle" class="t">1000</text>
<text x="119.20" y="110.53" class="n">N V</text>
<clipPath id="c11"><rect x="174.50" y="100.43" width="116.00" height="79.50"/></clipPath>
<line x1="191.00" y1="100.43" x2="191.00" y2="179.93" stroke="#000" stroke-width="0.9" stroke-dasharray="1.4 2.55" stroke-dashoffset="1.25"/>
<line x1="251.40" y1="100.43" x2="251.40" y2="179.93" stroke="#000" stroke-width="0.9" stroke-dasharray="1.4 2.55" stroke-dashoffset="1.25"/>
<line x1="199.80" y1="100.43" x2="199.80" y2="179.93" stroke="#000" stroke-width="0.9"/>
<line x1="263.00" y1="100.43" x2="263.00" y2="179.93" stroke="#000" stroke-width="0.9"/>
<line x1="201.50" y1="100.43" x2="201.50" y2="179.93" stroke="#000" stroke-width="0.9" stroke-dasharray="5.9 5.45" stroke-dashoffset="5.95"/>
<line x1="235.60" y1="100.43" x2="235.60" y2="179.93" stroke="#000" stroke-width="0.9" stroke-dasharray="5.9 5.45" stroke-dashoffset="5.95"/>
<line x1="261.50" y1="100.43" x2="261.50" y2="179.93" stroke="#000" stroke-width="0.9" stroke-dasharray="5.9 5.45" stroke-dashoffset="5.95"/>
<polyline clip-path="url(#c11)" fill="none" stroke="#000" stroke-width="1.25" stroke-linejoin="round" points="174.50,174.68 175.00,173.24 175.50,176.77 176.00,174.97 176.50,178.66 177.00,176.19 177.50,178.72 178.00,176.25 178.50,176.77 179.00,175.12 179.50,177.39 180.00,178.46 180.50,178.40 181.00,179.97 181.50,173.40 182.00,180.36 182.50,176.45 183.00,175.01 183.50,176.68 184.00,178.99 184.50,175.21 185.00,172.99 185.50,172.97 186.00,178.26 186.50,174.79 187.00,173.13 187.50,168.85 188.00,173.86 188.50,173.07 189.00,169.97 189.50,175.47 189.94,172.49 190.38,174.59 190.82,170.29 191.26,169.86 191.70,168.24 192.12,164.36 192.54,163.61 192.96,163.05 193.38,163.10 193.80,161.55 194.27,160.91 194.74,154.92 195.21,151.61 195.69,150.62 196.16,148.73 196.63,145.69 197.10,139.67 197.60,132.26 198.10,127.12 198.60,126.45 198.97,122.18 199.33,120.47 199.70,113.93 200.00,115.60 200.30,121.83 200.67,123.94 201.03,131.58 201.40,138.11 201.77,142.22 202.13,147.88 202.50,151.80 202.87,152.08 203.23,152.63 203.60,162.88 203.97,166.22 204.33,165.22 204.70,171.96 205.05,177.21 205.40,174.14 205.75,172.40 206.20,172.74 206.65,173.69 207.10,177.24 207.55,175.29 208.00,177.15 208.50,177.38 209.00,175.13 209.50,178.52 210.00,174.02 210.50,174.79 211.00,174.48 211.50,174.96 212.00,177.40 212.50,171.25 213.00,171.17 213.50,176.26 214.00,175.92 214.50,176.75 215.00,175.99 215.50,173.40 215.87,170.62 216.23,172.68 216.60,172.17 216.97,174.02 217.33,173.69 217.70,176.08 218.18,175.25 218.66,175.36 219.13,179.54 219.61,178.07 220.09,175.39 220.57,178.31 221.04,178.11 221.52,180.34 222.00,174.61 222.50,175.79 223.00,177.42 223.50,175.02 224.00,173.46 224.50,173.36 225.00,177.38 225.50,176.62 226.00,175.62 226.50,173.98 227.00,180.33 227.50,175.85 228.00,179.32 228.50,173.43 229.00,176.34 229.50,174.48 230.00,176.67 230.50,172.50 231.00,174.17 231.50,177.09 232.00,179.27 232.50,174.34 233.00,173.88 233.50,173.92 234.00,170.99 234.50,168.54 235.00,156.19 235.50,149.86 236.00,160.04 236.50,168.89 237.00,169.90 237.50,176.96 238.00,174.82 238.50,174.68 239.00,175.17 239.50,171.86 240.00,176.83 240.50,173.55 241.00,174.51 241.50,175.04 242.00,173.25 242.50,173.93 243.00,173.41 243.50,175.20 244.00,176.01 244.50,170.71 245.00,171.14 245.50,172.59 246.00,174.57 246.50,171.26 247.00,175.91 247.50,173.40 248.00,172.47 248.50,173.15 249.00,175.91 249.50,167.71 250.00,174.48 250.50,167.61 251.00,164.95 251.50,167.32 252.00,167.22 252.50,170.87 253.00,169.91 253.50,174.82 254.00,170.69 254.50,168.08 255.00,171.25 255.50,167.01 256.00,166.67 256.50,160.00 257.00,160.46 257.50,156.96 258.00,155.62 258.50,151.29 259.00,148.14 259.50,145.93 260.00,135.81 260.50,132.85 261.00,124.93 261.50,113.45 262.00,102.08 262.50,114.04 263.00,129.94 263.50,143.27 264.00,154.37 264.50,160.13 265.00,165.99 265.50,165.05 266.00,168.72 266.50,168.20 267.00,172.74 267.50,172.78 268.00,172.46 268.50,175.76 269.00,174.71 269.50,175.22 270.00,174.70 270.50,178.58 271.00,178.23 271.50,178.98 272.00,176.40 272.50,178.10 273.00,170.28 273.50,177.64 274.00,172.15 274.50,173.67 275.00,176.48 275.50,174.91 276.00,178.70 276.50,176.48 277.00,175.53 277.50,170.22 278.00,177.22 278.50,176.56 279.00,174.63 279.50,174.79 280.00,180.41 280.50,174.20 281.00,176.28 281.50,176.75 282.00,175.89 282.50,177.59 283.00,178.98 283.50,175.85 284.00,173.38 284.50,177.46 285.00,175.30 285.50,177.16 286.00,175.45 286.50,175.73 287.00,178.29 287.50,173.88 288.00,178.05 288.50,181.01 289.00,177.81 289.50,177.14 290.00,176.35 290.50,177.17"/>
<rect x="174.50" y="100.43" width="116.00" height="79.50" fill="none" stroke="#000" stroke-width="1.0"/>
<path d="M174.50,179.93h2.4M290.50,179.93h-2.4M174.50,164.03h2.4M290.50,164.03h-2.4M174.50,148.13h2.4M290.50,148.13h-2.4M174.50,132.23h2.4M290.50,132.23h-2.4M174.50,116.33h2.4M290.50,116.33h-2.4M174.50,100.43h2.4M290.50,100.43h-2.4M174.50,178.34h1.2M290.50,178.34h-1.2M174.50,176.75h1.2M290.50,176.75h-1.2M174.50,175.16h1.2M290.50,175.16h-1.2M174.50,173.57h1.2M290.50,173.57h-1.2M174.50,171.98h1.2M290.50,171.98h-1.2M174.50,170.39h1.2M290.50,170.39h-1.2M174.50,168.80h1.2M290.50,168.80h-1.2M174.50,167.21h1.2M290.50,167.21h-1.2M174.50,165.62h1.2M290.50,165.62h-1.2M174.50,162.44h1.2M290.50,162.44h-1.2M174.50,160.85h1.2M290.50,160.85h-1.2M174.50,159.26h1.2M290.50,159.26h-1.2M174.50,157.67h1.2M290.50,157.67h-1.2M174.50,156.08h1.2M290.50,156.08h-1.2M174.50,154.49h1.2M290.50,154.49h-1.2M174.50,152.90h1.2M290.50,152.90h-1.2M174.50,151.31h1.2M290.50,151.31h-1.2M174.50,149.72h1.2M290.50,149.72h-1.2M174.50,146.54h1.2M290.50,146.54h-1.2M174.50,144.95h1.2M290.50,144.95h-1.2M174.50,143.36h1.2M290.50,143.36h-1.2M174.50,141.77h1.2M290.50,141.77h-1.2M174.50,140.18h1.2M290.50,140.18h-1.2M174.50,138.59h1.2M290.50,138.59h-1.2M174.50,137.00h1.2M290.50,137.00h-1.2M174.50,135.41h1.2M290.50,135.41h-1.2M174.50,133.82h1.2M290.50,133.82h-1.2M174.50,130.64h1.2M290.50,130.64h-1.2M174.50,129.05h1.2M290.50,129.05h-1.2M174.50,127.46h1.2M290.50,127.46h-1.2M174.50,125.87h1.2M290.50,125.87h-1.2M174.50,124.28h1.2M290.50,124.28h-1.2M174.50,122.69h1.2M290.50,122.69h-1.2M174.50,121.10h1.2M290.50,121.10h-1.2M174.50,119.51h1.2M290.50,119.51h-1.2M174.50,117.92h1.2M290.50,117.92h-1.2M174.50,114.74h1.2M290.50,114.74h-1.2M174.50,113.15h1.2M290.50,113.15h-1.2M174.50,111.56h1.2M290.50,111.56h-1.2M174.50,109.97h1.2M290.50,109.97h-1.2M174.50,108.38h1.2M290.50,108.38h-1.2M174.50,106.79h1.2M290.50,106.79h-1.2M174.50,105.20h1.2M290.50,105.20h-1.2M174.50,103.61h1.2M290.50,103.61h-1.2M174.50,102.02h1.2M290.50,102.02h-1.2M174.50,179.93v-0.9M174.50,100.43v0.9M177.72,179.93v-0.9M177.72,100.43v0.9M180.94,179.93v-0.9M180.94,100.43v0.9M184.17,179.93v-0.9M184.17,100.43v0.9M187.39,179.93v-0.9M187.39,100.43v0.9M190.61,179.93v-0.9M190.61,100.43v0.9M193.83,179.93v-0.9M193.83,100.43v0.9M197.06,179.93v-0.9M197.06,100.43v0.9M200.28,179.93v-1.8M200.28,100.43v1.8M203.50,179.93v-0.9M203.50,100.43v0.9M206.72,179.93v-0.9M206.72,100.43v0.9M209.94,179.93v-0.9M209.94,100.43v0.9M213.17,179.93v-0.9M213.17,100.43v0.9M216.39,179.93v-0.9M216.39,100.43v0.9M219.61,179.93v-0.9M219.61,100.43v0.9M222.83,179.93v-0.9M222.83,100.43v0.9M226.06,179.93v-0.9M226.06,100.43v0.9M229.28,179.93v-0.9M229.28,100.43v0.9M232.50,179.93v-1.8M232.50,100.43v1.8M235.72,179.93v-0.9M235.72,100.43v0.9M238.94,179.93v-0.9M238.94,100.43v0.9M242.17,179.93v-0.9M242.17,100.43v0.9M245.39,179.93v-0.9M245.39,100.43v0.9M248.61,179.93v-0.9M248.61,100.43v0.9M251.83,179.93v-0.9M251.83,100.43v0.9M255.06,179.93v-0.9M255.06,100.43v0.9M258.28,179.93v-0.9M258.28,100.43v0.9M261.50,179.93v-0.9M261.50,100.43v0.9M264.72,179.93v-1.8M264.72,100.43v1.8M267.94,179.93v-0.9M267.94,100.43v0.9M271.17,179.93v-0.9M271.17,100.43v0.9M274.39,179.93v-0.9M274.39,100.43v0.9M277.61,179.93v-0.9M277.61,100.43v0.9M280.83,179.93v-0.9M280.83,100.43v0.9M284.06,179.93v-0.9M284.06,100.43v0.9M287.28,179.93v-0.9M287.28,100.43v0.9M290.50,179.93v-0.9M290.50,100.43v0.9" stroke="#000" stroke-width="0.9" fill="none"/>
<text x="171.65" y="180.13" text-anchor="end" class="t">0</text>
<text x="171.65" y="167.91" text-anchor="end" class="t">1</text>
<text x="171.65" y="152.01" text-anchor="end" class="t">2</text>
<text x="171.65" y="136.11" text-anchor="end" class="t">3</text>
<text x="171.65" y="120.21" text-anchor="end" class="t">4</text>
<text x="171.65" y="107.23" text-anchor="end" class="t">5</text>
<text x="200.28" y="193.39" text-anchor="middle" class="t">0</text>
<text x="232.50" y="193.39" text-anchor="middle" class="t">1000</text>
<text x="264.72" y="193.39" text-anchor="middle" class="t">2000</text>
<text x="286.90" y="110.53" text-anchor="end" class="n">Si IV</text>
<clipPath id="c12"><rect x="324.50" y="100.43" width="116.00" height="79.50"/></clipPath>
<line x1="360.70" y1="100.43" x2="360.70" y2="179.93" stroke="#000" stroke-width="0.9"/>
<line x1="396.90" y1="100.43" x2="396.90" y2="179.93" stroke="#000" stroke-width="0.9"/>
<line x1="348.50" y1="100.43" x2="348.50" y2="179.93" stroke="#000" stroke-width="0.9" stroke-dasharray="5.9 5.45" stroke-dashoffset="5.95"/>
<polyline clip-path="url(#c12)" fill="none" stroke="#000" stroke-width="1.25" stroke-linejoin="round" points="324.50,179.17 324.97,179.98 325.44,179.50 325.92,178.33 326.39,180.93 326.86,175.74 327.33,178.05 327.81,177.20 328.28,177.73 328.75,176.72 329.22,177.80 329.69,176.45 330.16,176.27 330.62,176.23 331.09,177.31 331.56,174.93 332.03,176.08 332.50,175.45 332.97,175.11 333.44,173.50 333.91,176.85 334.38,172.82 334.84,173.53 335.31,175.36 335.78,170.87 336.25,171.03 336.72,172.25 337.19,173.83 337.66,172.31 338.12,172.36 338.59,166.89 339.06,171.99 339.53,167.88 340.00,174.34 340.50,167.60 341.00,163.92 341.50,166.63 342.00,169.87 342.50,165.20 343.00,161.89 343.50,162.65 344.00,161.43 344.50,159.17 345.00,158.04 345.50,159.89 346.00,153.48 346.50,149.97 347.00,148.44 347.50,153.38 348.00,148.13 348.50,140.15 349.00,149.94 349.50,140.93 350.00,143.81 350.50,135.94 351.00,137.77 351.50,131.45 352.00,130.51 352.50,134.02 353.00,129.99 353.50,132.27 354.00,125.21 354.50,129.58 355.00,133.77 355.50,130.03 356.00,120.03 356.50,123.62 357.00,125.79 357.50,129.90 358.00,134.96 358.50,126.08 359.00,126.35 359.50,130.22 360.00,116.62 360.38,103.84 360.75,106.15 361.25,112.83 361.75,118.07 362.17,121.33 362.58,122.13 363.00,130.64 363.50,131.75 364.00,143.06 364.50,146.34 365.00,144.78 365.42,148.26 365.83,152.85 366.25,156.27 366.69,150.21 367.12,154.95 367.56,161.18 368.00,164.23 368.50,154.94 369.00,161.27 369.50,166.96 370.00,165.61 370.44,162.76 370.88,162.97 371.31,164.39 371.75,168.14 372.17,170.70 372.58,170.36 373.00,167.05 373.50,164.18 374.00,165.80 374.50,166.15 375.00,165.51 375.50,160.94 376.00,164.58 376.50,159.16 377.00,166.64 377.50,173.41 378.00,171.75 378.50,174.27 379.00,175.30 379.50,176.66 380.00,180.24 380.42,176.69 380.83,170.46 381.25,168.79 381.69,167.40 382.12,165.33 382.56,163.74 383.00,166.96 383.50,163.65 384.00,166.32 384.50,167.12 385.00,163.47 385.50,164.47 386.00,159.79 386.50,166.64 387.00,158.05 387.44,157.36 387.88,157.59 388.31,157.93 388.75,158.22 389.19,154.11 389.62,151.46 390.06,152.95 390.50,147.18 391.00,152.16 391.50,143.77 392.00,148.97 392.50,143.23 393.00,146.35 393.50,132.13 394.00,150.72 394.50,130.87 395.00,130.95 395.50,126.13 396.00,141.53 396.50,140.94 397.00,148.81 397.50,141.68 398.00,142.90 398.50,142.98 399.00,145.06 399.50,148.47 400.00,143.96 400.42,139.73 400.83,147.36 401.25,154.64 401.67,154.41 402.08,158.47 402.50,166.57 403.00,167.12 403.50,164.07 404.00,166.07 404.50,171.02 404.94,169.74 405.38,172.01 405.81,167.43 406.25,171.89 406.75,173.21 407.25,174.98 407.75,169.84 408.25,173.49 408.75,172.61 409.25,175.48 409.75,173.22 410.25,175.18 410.75,176.37 411.25,175.77 411.72,175.70 412.19,175.26 412.66,175.49 413.12,179.75 413.59,176.81 414.06,178.54 414.53,176.99 415.00,176.79 415.50,177.53 416.00,178.06 416.50,177.12 417.00,177.69 417.50,179.12 418.00,177.25 418.50,177.18 419.00,177.86 419.50,177.72 420.00,178.69 420.50,178.63 421.00,178.29 421.50,179.49 422.00,176.87 422.50,177.71 423.00,176.64 423.50,178.76 424.00,176.96 424.50,180.47 425.00,178.51 425.50,177.12 426.00,178.40 426.50,179.42 427.00,177.24 427.50,178.57 428.00,177.87 428.50,178.27 429.00,178.53 429.50,178.25 430.00,181.00 430.50,180.54 431.00,175.47 431.50,179.63 432.00,178.34 432.50,177.66 433.00,176.10 433.50,177.28 434.00,177.93 434.50,178.27 435.00,179.63 435.50,180.60 436.00,178.72 436.50,178.42 437.00,176.41 437.50,177.90 438.00,178.69 438.50,179.19 439.00,177.47 439.50,178.43 440.00,176.68 440.50,176.10"/>
<rect x="324.50" y="100.43" width="116.00" height="79.50" fill="none" stroke="#000" stroke-width="1.0"/>
<path d="M324.50,179.93h2.4M440.50,179.93h-2.4M324.50,164.03h2.4M440.50,164.03h-2.4M324.50,148.13h2.4M440.50,148.13h-2.4M324.50,132.23h2.4M440.50,132.23h-2.4M324.50,116.33h2.4M440.50,116.33h-2.4M324.50,100.43h2.4M440.50,100.43h-2.4M324.50,175.96h1.2M440.50,175.96h-1.2M324.50,171.98h1.2M440.50,171.98h-1.2M324.50,168.00h1.2M440.50,168.00h-1.2M324.50,160.06h1.2M440.50,160.06h-1.2M324.50,156.08h1.2M440.50,156.08h-1.2M324.50,152.11h1.2M440.50,152.11h-1.2M324.50,144.16h1.2M440.50,144.16h-1.2M324.50,140.18h1.2M440.50,140.18h-1.2M324.50,136.21h1.2M440.50,136.21h-1.2M324.50,128.25h1.2M440.50,128.25h-1.2M324.50,124.28h1.2M440.50,124.28h-1.2M324.50,120.31h1.2M440.50,120.31h-1.2M324.50,112.36h1.2M440.50,112.36h-1.2M324.50,108.38h1.2M440.50,108.38h-1.2M324.50,104.41h1.2M440.50,104.41h-1.2M324.50,179.93v-1.8M324.50,100.43v1.8M331.75,179.93v-0.9M331.75,100.43v0.9M339.00,179.93v-0.9M339.00,100.43v0.9M346.25,179.93v-0.9M346.25,100.43v0.9M353.50,179.93v-0.9M353.50,100.43v0.9M360.75,179.93v-1.8M360.75,100.43v1.8M368.00,179.93v-0.9M368.00,100.43v0.9M375.25,179.93v-0.9M375.25,100.43v0.9M382.50,179.93v-0.9M382.50,100.43v0.9M389.75,179.93v-0.9M389.75,100.43v0.9M397.00,179.93v-1.8M397.00,100.43v1.8M404.25,179.93v-0.9M404.25,100.43v0.9M411.50,179.93v-0.9M411.50,100.43v0.9M418.75,179.93v-0.9M418.75,100.43v0.9M426.00,179.93v-0.9M426.00,100.43v0.9M433.25,179.93v-1.8M433.25,100.43v1.8M440.50,179.93v-0.9M440.50,100.43v0.9" stroke="#000" stroke-width="0.9" fill="none"/>
<text x="321.65" y="180.13" text-anchor="end" class="t">0</text>
<text x="321.65" y="167.91" text-anchor="end" class="t">2</text>
<text x="321.65" y="152.01" text-anchor="end" class="t">4</text>
<text x="321.65" y="136.11" text-anchor="end" class="t">6</text>
<text x="321.65" y="120.21" text-anchor="end" class="t">8</text>
<text x="321.65" y="107.23" text-anchor="end" class="t">10</text>
<text x="324.50" y="193.39" text-anchor="middle" class="t">−500</text>
<text x="360.75" y="193.39" text-anchor="middle" class="t">0</text>
<text x="397.00" y="193.39" text-anchor="middle" class="t">500</text>
<text x="433.25" y="193.39" text-anchor="middle" class="t">1000</text>
<text x="434.30" y="110.53" text-anchor="end" class="n">C IV</text>
<clipPath id="c13"><rect x="474.50" y="100.43" width="116.40" height="79.50"/></clipPath>
<line x1="532.80" y1="100.43" x2="532.80" y2="179.93" stroke="#000" stroke-width="0.9"/>
<line x1="525.10" y1="100.43" x2="525.10" y2="179.93" stroke="#000" stroke-width="0.9" stroke-dasharray="1.4 2.55" stroke-dashoffset="1.25"/>
<polyline clip-path="url(#c13)" fill="none" stroke="#000" stroke-width="1.25" stroke-linejoin="round" points="474.50,174.96 475.00,176.33 475.50,177.94 475.88,179.25 476.25,179.93 476.67,179.53 477.08,178.68 477.50,177.94 477.92,177.46 478.33,177.10 478.75,176.95 479.17,177.28 479.58,177.83 480.00,177.94 480.42,177.10 480.83,175.81 481.25,174.96 481.67,175.11 482.08,175.70 482.50,175.96 482.92,175.44 483.33,174.59 483.75,173.97 484.17,173.97 484.58,173.97 485.00,173.97 485.50,173.56 486.00,172.99 486.50,172.32 487.00,171.63 487.50,170.99 488.00,170.41 488.50,169.84 489.00,169.27 489.50,168.66 490.00,168.00 490.50,167.27 491.00,166.49 491.50,165.67 492.00,164.84 492.50,164.03 493.00,163.02 493.50,162.01 494.00,161.01 494.50,160.06 494.94,158.99 495.38,157.85 495.81,156.95 496.25,156.58 496.67,157.20 497.08,158.60 497.50,160.06 497.94,161.05 498.38,162.10 498.81,163.13 499.25,164.03 499.75,164.92 500.25,165.80 500.75,166.42 501.25,166.51 501.67,165.41 502.08,163.53 502.50,162.04 502.92,161.45 503.33,161.25 503.75,161.05 504.19,160.81 504.62,160.58 505.06,160.34 505.50,160.06 506.00,159.62 506.50,159.09 507.00,158.67 507.50,158.56 507.94,158.85 508.38,159.40 508.81,160.16 509.25,161.05 509.75,162.54 510.25,164.31 510.75,166.02 511.19,167.40 511.62,168.91 512.06,170.08 512.50,170.49 512.92,169.50 513.33,167.40 513.75,165.02 514.17,162.39 514.58,159.48 515.00,157.07 515.42,155.22 515.83,153.85 516.25,153.60 516.67,155.07 517.08,157.64 517.50,160.06 517.92,162.37 518.33,164.53 518.75,165.02 519.17,162.71 519.58,158.73 520.00,155.09 520.42,152.44 520.83,150.12 521.25,148.13 521.67,146.69 522.08,145.59 522.50,144.16 523.00,140.68 523.50,137.20 523.88,134.65 524.25,133.22 524.67,133.44 525.08,134.33 525.50,135.21 525.92,135.91 526.33,136.61 526.75,137.20 527.17,137.86 527.58,138.34 528.00,138.19 528.42,136.57 528.83,134.18 529.25,132.23 529.67,131.27 530.08,130.76 530.50,130.24 530.92,129.62 531.33,128.99 531.75,128.25 532.25,127.32 532.75,125.27 533.17,121.59 533.58,117.03 534.00,114.34 534.50,116.27 535.00,120.31 535.38,123.60 535.75,126.27 536.25,127.14 536.75,127.26 537.25,127.26 537.75,127.26 538.25,130.80 538.75,135.21 539.17,137.75 539.58,140.18 540.00,142.17 540.42,143.46 540.83,144.30 541.25,145.15 541.67,146.22 542.08,147.28 542.50,148.13 542.92,148.72 543.33,149.09 543.75,149.12 544.17,148.46 544.58,147.47 545.00,147.14 545.42,148.09 545.83,149.71 546.25,151.11 546.69,151.72 547.12,152.17 547.56,152.58 548.00,153.10 548.50,153.73 549.00,154.40 549.50,155.17 550.00,156.08 550.42,157.70 550.83,159.54 551.25,161.05 551.67,162.15 552.08,162.93 552.50,163.04 552.92,162.08 553.33,160.46 553.75,159.06 554.19,158.28 554.62,157.57 555.06,157.10 555.50,157.07 556.00,157.96 556.50,159.50 557.00,161.05 557.44,162.09 557.88,163.16 558.31,164.17 558.75,165.02 559.17,166.02 559.58,166.79 560.00,167.01 560.42,166.20 560.83,164.84 561.25,164.03 561.67,164.18 562.08,164.88 562.50,166.02 562.92,167.75 563.33,169.92 563.75,171.98 564.17,173.84 564.58,175.59 565.00,176.95 565.42,177.74 565.83,178.14 566.25,178.44 566.67,178.77 567.08,178.99 567.50,178.94 567.92,178.49 568.33,177.78 568.75,176.95 569.17,176.25 569.58,175.44 570.00,173.97 570.50,172.58 571.00,170.87 571.50,168.96 572.00,166.97 572.50,165.02 573.00,163.05 573.50,160.98 574.00,158.89 574.50,156.90 575.00,155.09 575.50,153.46 576.00,151.95 576.50,150.55 577.00,149.28 577.50,148.13 578.00,146.97 578.50,146.08 579.00,145.22 579.50,144.16 579.94,142.64 580.38,140.86 580.81,139.24 581.25,138.19 581.67,138.04 582.08,138.52 582.50,139.19 582.94,139.66 583.38,140.24 583.81,140.79 584.25,141.17 584.75,141.17 585.25,141.17 585.75,141.17 586.19,142.40 586.62,144.16 587.06,146.16 587.50,148.13 588.00,150.60 588.50,153.17 589.00,156.08 589.50,159.91 590.00,164.07 590.50,167.01"/>
<rect x="474.50" y="100.43" width="116.40" height="79.50" fill="none" stroke="#000" stroke-width="1.0"/>
<path d="M474.50,179.93h2.4M590.90,179.93h-2.4M474.50,160.06h2.4M590.90,160.06h-2.4M474.50,140.18h2.4M590.90,140.18h-2.4M474.50,120.31h2.4M590.90,120.31h-2.4M474.50,100.43h2.4M590.90,100.43h-2.4M474.50,174.96h1.2M590.90,174.96h-1.2M474.50,169.99h1.2M590.90,169.99h-1.2M474.50,165.02h1.2M590.90,165.02h-1.2M474.50,155.09h1.2M590.90,155.09h-1.2M474.50,150.12h1.2M590.90,150.12h-1.2M474.50,145.15h1.2M590.90,145.15h-1.2M474.50,135.21h1.2M590.90,135.21h-1.2M474.50,130.24h1.2M590.90,130.24h-1.2M474.50,125.27h1.2M590.90,125.27h-1.2M474.50,115.34h1.2M590.90,115.34h-1.2M474.50,110.37h1.2M590.90,110.37h-1.2M474.50,105.40h1.2M590.90,105.40h-1.2M474.50,179.93v-1.8M474.50,100.43v1.8M477.41,179.93v-0.9M477.41,100.43v0.9M480.32,179.93v-0.9M480.32,100.43v0.9M483.23,179.93v-0.9M483.23,100.43v0.9M486.14,179.93v-0.9M486.14,100.43v0.9M489.05,179.93v-0.9M489.05,100.43v0.9M491.96,179.93v-0.9M491.96,100.43v0.9M494.87,179.93v-0.9M494.87,100.43v0.9M497.78,179.93v-0.9M497.78,100.43v0.9M500.69,179.93v-0.9M500.69,100.43v0.9M503.60,179.93v-1.8M503.60,100.43v1.8M506.51,179.93v-0.9M506.51,100.43v0.9M509.42,179.93v-0.9M509.42,100.43v0.9M512.33,179.93v-0.9M512.33,100.43v0.9M515.24,179.93v-0.9M515.24,100.43v0.9M518.15,179.93v-0.9M518.15,100.43v0.9M521.06,179.93v-0.9M521.06,100.43v0.9M523.97,179.93v-0.9M523.97,100.43v0.9M526.88,179.93v-0.9M526.88,100.43v0.9M529.79,179.93v-0.9M529.79,100.43v0.9M532.70,179.93v-1.8M532.70,100.43v1.8M535.61,179.93v-0.9M535.61,100.43v0.9M538.52,179.93v-0.9M538.52,100.43v0.9M541.43,179.93v-0.9M541.43,100.43v0.9M544.34,179.93v-0.9M544.34,100.43v0.9M547.25,179.93v-0.9M547.25,100.43v0.9M550.16,179.93v-0.9M550.16,100.43v0.9M553.07,179.93v-0.9M553.07,100.43v0.9M555.98,179.93v-0.9M555.98,100.43v0.9M558.89,179.93v-0.9M558.89,100.43v0.9M561.80,179.93v-1.8M561.80,100.43v1.8M564.71,179.93v-0.9M564.71,100.43v0.9M567.62,179.93v-0.9M567.62,100.43v0.9M570.53,179.93v-0.9M570.53,100.43v0.9M573.44,179.93v-0.9M573.44,100.43v0.9M576.35,179.93v-0.9M576.35,100.43v0.9M579.26,179.93v-0.9M579.26,100.43v0.9M582.17,179.93v-0.9M582.17,100.43v0.9M585.08,179.93v-0.9M585.08,100.43v0.9M587.99,179.93v-0.9M587.99,100.43v0.9M590.90,179.93v-1.8M590.90,100.43v1.8" stroke="#000" stroke-width="0.9" fill="none"/>
<text x="471.65" y="180.13" text-anchor="end" class="t">0</text>
<text x="471.65" y="163.94" text-anchor="end" class="t">2</text>
<text x="471.65" y="144.06" text-anchor="end" class="t">4</text>
<text x="471.65" y="124.19" text-anchor="end" class="t">6</text>
<text x="471.65" y="107.23" text-anchor="end" class="t">8</text>
<text x="474.50" y="193.39" text-anchor="middle" class="t">−200</text>
<text x="503.60" y="193.39" text-anchor="middle" class="t">−100</text>
<text x="532.70" y="193.39" text-anchor="middle" class="t">0</text>
<text x="561.80" y="193.39" text-anchor="middle" class="t">100</text>
<text x="590.90" y="193.39" text-anchor="middle" class="t">200</text>
<text x="480.30" y="110.53" class="n">T Tau</text>
<text x="588.60" y="110.53" text-anchor="end" class="n">He II</text>
<clipPath id="c20"><rect x="24.00" y="197.86" width="116.00" height="79.50"/></clipPath>
<line x1="36.10" y1="197.86" x2="36.10" y2="277.36" stroke="#000" stroke-width="0.9" stroke-dasharray="5.9 5.45" stroke-dashoffset="5.95"/>
<line x1="41.40" y1="197.86" x2="41.40" y2="277.36" stroke="#000" stroke-width="0.9" stroke-dasharray="5.9 5.45" stroke-dashoffset="5.95"/>
<line x1="88.00" y1="197.86" x2="88.00" y2="277.36" stroke="#000" stroke-width="0.9" stroke-dasharray="5.9 5.45" stroke-dashoffset="5.95"/>
<line x1="56.20" y1="197.86" x2="56.20" y2="277.36" stroke="#000" stroke-width="0.9"/>
<line x1="118.60" y1="197.86" x2="118.60" y2="277.36" stroke="#000" stroke-width="0.9"/>
<line x1="124.30" y1="197.86" x2="124.30" y2="277.36" stroke="#000" stroke-width="0.9" stroke-dasharray="1.4 2.55" stroke-dashoffset="1.25"/>
<line x1="126.30" y1="197.86" x2="126.30" y2="277.36" stroke="#000" stroke-width="0.9" stroke-dasharray="1.4 2.55" stroke-dashoffset="1.25"/>
<polyline clip-path="url(#c20)" fill="none" stroke="#000" stroke-width="1.25" stroke-linejoin="round" points="24.00,259.32 24.50,260.44 25.00,257.40 25.50,259.63 26.00,256.07 26.50,257.46 27.00,258.88 27.50,255.27 28.00,255.99 28.50,258.10 29.00,255.97 29.50,260.18 30.00,255.47 30.50,257.57 31.00,260.12 31.50,259.52 32.00,256.96 32.50,261.13 33.00,257.66 33.50,258.81 34.00,253.36 34.50,249.55 34.87,238.08 35.23,230.81 35.60,224.54 36.05,227.93 36.50,243.10 36.90,247.06 37.30,255.19 37.80,254.74 38.30,246.53 38.70,245.46 39.10,246.34 39.50,240.44 40.00,237.61 40.50,238.95 41.00,236.81 41.44,236.10 41.88,237.52 42.31,240.11 42.75,238.37 43.19,239.62 43.62,239.26 44.06,239.67 44.50,239.26 45.00,241.14 45.50,240.70 46.00,238.53 46.44,236.96 46.88,232.35 47.32,231.55 47.76,232.01 48.20,230.89 48.65,224.51 49.10,225.16 49.55,223.22 50.00,226.08 50.47,222.10 50.93,218.28 51.40,214.97 51.84,217.59 52.28,215.43 52.72,214.60 53.16,212.42 53.60,212.32 54.10,208.93 54.60,207.80 55.10,203.28 55.42,203.15 55.75,202.20 56.12,204.73 56.50,205.27 56.90,212.46 57.30,215.98 57.73,219.72 58.17,225.31 58.60,239.60 59.10,241.57 59.60,243.52 60.10,246.32 60.53,244.23 60.96,247.39 61.39,250.37 61.82,247.87 62.25,249.43 62.69,251.56 63.12,256.47 63.56,254.96 64.00,253.26 64.50,258.88 65.00,258.39 65.50,263.98 65.96,262.66 66.43,262.90 66.89,260.81 67.36,258.85 67.82,263.57 68.29,261.19 68.75,261.92 69.21,264.93 69.68,262.92 70.14,264.78 70.61,264.28 71.07,267.13 71.54,264.82 72.00,264.95 72.48,266.41 72.96,267.76 73.43,270.24 73.91,269.23 74.39,264.80 74.87,266.68 75.34,268.06 75.82,265.30 76.30,266.58 76.77,269.99 77.24,269.27 77.71,268.36 78.19,269.97 78.66,272.22 79.13,273.21 79.60,278.59 80.06,273.86 80.51,276.25 80.97,270.13 81.43,269.85 81.89,272.13 82.34,271.79 82.80,272.75 83.27,270.62 83.74,270.15 84.21,270.45 84.69,268.37 85.16,270.02 85.63,271.08 86.10,270.04 86.53,271.38 86.96,270.24 87.39,264.06 87.82,268.32 88.25,267.75 88.71,266.39 89.18,263.42 89.64,267.12 90.11,264.13 90.57,260.42 91.04,264.11 91.50,262.21 91.96,267.51 92.43,264.77 92.89,265.15 93.36,260.61 93.82,261.39 94.29,258.72 94.75,260.29 95.20,259.25 95.65,263.64 96.10,260.59 96.55,255.57 97.00,262.25 97.42,259.67 97.84,258.19 98.26,259.87 98.68,258.66 99.10,256.95 99.53,257.44 99.96,256.62 100.39,258.15 100.82,254.73 101.25,262.74 101.68,260.47 102.11,259.61 102.54,260.30 102.97,261.38 103.40,263.37 103.87,265.05 104.34,259.51 104.81,264.13 105.29,264.50 105.76,269.14 106.23,266.16 106.70,264.42 107.17,265.87 107.64,267.75 108.11,270.78 108.59,267.45 109.06,268.00 109.53,273.62 110.00,271.84 110.46,270.52 110.91,273.86 111.37,272.27 111.83,279.24 112.29,278.88 112.74,274.96 113.20,273.56 113.66,276.10 114.11,273.97 114.57,274.49 115.03,273.78 115.49,275.68 115.94,273.64 116.40,273.90 116.84,273.43 117.28,270.76 117.72,267.25 118.16,260.73 118.60,259.91 119.10,254.55 119.60,253.80 120.10,241.33 120.52,238.46 120.95,238.78 121.38,232.15 121.80,236.17 122.24,235.08 122.68,236.15 123.12,237.31 123.56,241.31 124.00,239.44 124.44,241.33 124.88,242.48 125.32,239.41 125.76,241.24 126.20,241.02 126.66,247.43 127.11,244.96 127.57,244.48 128.03,245.50 128.49,246.43 128.94,246.31 129.40,250.42 129.87,245.33 130.34,247.92 130.81,252.02 131.29,249.14 131.76,250.46 132.23,249.75 132.70,248.93 133.16,250.67 133.61,250.18 134.07,250.79 134.53,254.93 134.99,254.72 135.44,251.22 135.90,250.43 136.34,256.07 136.78,253.46 137.22,252.41 137.66,255.46 138.10,257.88 138.57,258.85 139.05,258.58 139.53,260.18 140.00,260.26"/>
<rect x="24.00" y="197.86" width="116.00" height="79.50" fill="none" stroke="#000" stroke-width="1.0"/>
<path d="M24.00,277.36h2.4M140.00,277.36h-2.4M24.00,257.49h2.4M140.00,257.49h-2.4M24.00,237.61h2.4M140.00,237.61h-2.4M24.00,217.74h2.4M140.00,217.74h-2.4M24.00,197.86h2.4M140.00,197.86h-2.4M24.00,275.37h1.2M140.00,275.37h-1.2M24.00,273.38h1.2M140.00,273.38h-1.2M24.00,271.40h1.2M140.00,271.40h-1.2M24.00,269.41h1.2M140.00,269.41h-1.2M24.00,267.42h1.2M140.00,267.42h-1.2M24.00,265.44h1.2M140.00,265.44h-1.2M24.00,263.45h1.2M140.00,263.45h-1.2M24.00,261.46h1.2M140.00,261.46h-1.2M24.00,259.47h1.2M140.00,259.47h-1.2M24.00,255.50h1.2M140.00,255.50h-1.2M24.00,253.51h1.2M140.00,253.51h-1.2M24.00,251.52h1.2M140.00,251.52h-1.2M24.00,249.54h1.2M140.00,249.54h-1.2M24.00,247.55h1.2M140.00,247.55h-1.2M24.00,245.56h1.2M140.00,245.56h-1.2M24.00,243.57h1.2M140.00,243.57h-1.2M24.00,241.59h1.2M140.00,241.59h-1.2M24.00,239.60h1.2M140.00,239.60h-1.2M24.00,235.62h1.2M140.00,235.62h-1.2M24.00,233.64h1.2M140.00,233.64h-1.2M24.00,231.65h1.2M140.00,231.65h-1.2M24.00,229.66h1.2M140.00,229.66h-1.2M24.00,227.67h1.2M140.00,227.67h-1.2M24.00,225.69h1.2M140.00,225.69h-1.2M24.00,223.70h1.2M140.00,223.70h-1.2M24.00,221.71h1.2M140.00,221.71h-1.2M24.00,219.72h1.2M140.00,219.72h-1.2M24.00,215.75h1.2M140.00,215.75h-1.2M24.00,213.76h1.2M140.00,213.76h-1.2M24.00,211.77h1.2M140.00,211.77h-1.2M24.00,209.79h1.2M140.00,209.79h-1.2M24.00,207.80h1.2M140.00,207.80h-1.2M24.00,205.81h1.2M140.00,205.81h-1.2M24.00,203.82h1.2M140.00,203.82h-1.2M24.00,201.84h1.2M140.00,201.84h-1.2M24.00,199.85h1.2M140.00,199.85h-1.2M24.00,277.36v-1.8M24.00,197.86v1.8M30.44,277.36v-0.9M30.44,197.86v0.9M36.89,277.36v-0.9M36.89,197.86v0.9M43.33,277.36v-0.9M43.33,197.86v0.9M49.78,277.36v-0.9M49.78,197.86v0.9M56.22,277.36v-1.8M56.22,197.86v1.8M62.67,277.36v-0.9M62.67,197.86v0.9M69.11,277.36v-0.9M69.11,197.86v0.9M75.56,277.36v-0.9M75.56,197.86v0.9M82.00,277.36v-0.9M82.00,197.86v0.9M88.44,277.36v-1.8M88.44,197.86v1.8M94.89,277.36v-0.9M94.89,197.86v0.9M101.33,277.36v-0.9M101.33,197.86v0.9M107.78,277.36v-0.9M107.78,197.86v0.9M114.22,277.36v-0.9M114.22,197.86v0.9M120.67,277.36v-1.8M120.67,197.86v1.8M127.11,277.36v-0.9M127.11,197.86v0.9M133.56,277.36v-0.9M133.56,197.86v0.9M140.00,277.36v-0.9M140.00,197.86v0.9" stroke="#000" stroke-width="0.9" fill="none"/>
<text x="21.15" y="277.56" text-anchor="end" class="t">0</text>
<text x="21.15" y="261.37" text-anchor="end" class="t">10</text>
<text x="21.15" y="241.49" text-anchor="end" class="t">20</text>
<text x="21.15" y="221.62" text-anchor="end" class="t">30</text>
<text x="21.15" y="204.66" text-anchor="end" class="t">40</text>
<text x="24.00" y="290.82" text-anchor="middle" class="t">−500</text>
<text x="56.22" y="290.82" text-anchor="middle" class="t">0</text>
<text x="88.44" y="290.82" text-anchor="middle" class="t">500</text>
<text x="120.67" y="290.82" text-anchor="middle" class="t">1000</text>
<text x="119.20" y="207.96" class="n">N V</text>
<clipPath id="c21"><rect x="174.50" y="197.86" width="116.00" height="79.50"/></clipPath>
<line x1="191.00" y1="197.86" x2="191.00" y2="277.36" stroke="#000" stroke-width="0.9" stroke-dasharray="1.4 2.55" stroke-dashoffset="1.25"/>
<line x1="251.40" y1="197.86" x2="251.40" y2="277.36" stroke="#000" stroke-width="0.9" stroke-dasharray="1.4 2.55" stroke-dashoffset="1.25"/>
<line x1="199.80" y1="197.86" x2="199.80" y2="277.36" stroke="#000" stroke-width="0.9"/>
<line x1="263.00" y1="197.86" x2="263.00" y2="277.36" stroke="#000" stroke-width="0.9"/>
<line x1="201.50" y1="197.86" x2="201.50" y2="277.36" stroke="#000" stroke-width="0.9" stroke-dasharray="5.9 5.45" stroke-dashoffset="5.95"/>
<line x1="235.60" y1="197.86" x2="235.60" y2="277.36" stroke="#000" stroke-width="0.9" stroke-dasharray="5.9 5.45" stroke-dashoffset="5.95"/>
<line x1="261.50" y1="197.86" x2="261.50" y2="277.36" stroke="#000" stroke-width="0.9" stroke-dasharray="5.9 5.45" stroke-dashoffset="5.95"/>
<polyline clip-path="url(#c21)" fill="none" stroke="#000" stroke-width="1.25" stroke-linejoin="round" points="174.50,272.35 175.00,272.52 175.50,273.22 176.00,273.35 176.50,272.92 177.00,273.10 177.50,274.14 177.97,273.70 178.44,274.91 178.91,273.41 179.38,273.97 179.84,274.04 180.31,273.98 180.78,274.42 181.25,273.15 181.72,273.68 182.19,275.42 182.66,273.13 183.12,273.94 183.59,273.93 184.06,275.83 184.53,274.98 185.00,275.22 185.50,275.38 186.00,274.88 186.50,274.08 187.00,274.91 187.50,274.90 188.00,274.86 188.50,275.81 189.00,275.02 189.50,274.25 190.00,274.57 190.50,275.16 191.00,274.37 191.50,274.24 192.00,274.20 192.50,273.68 193.00,272.78 193.50,273.06 194.00,272.49 194.50,272.60 195.00,271.73 195.50,270.31 196.00,268.69 196.50,269.21 197.00,267.62 197.44,266.00 197.88,263.22 198.31,260.19 198.75,257.15 199.17,249.72 199.58,242.23 200.00,233.56 200.38,220.29 200.75,208.54 201.25,202.23 201.75,212.96 202.12,217.37 202.50,220.32 202.92,221.64 203.33,220.66 203.75,221.02 204.19,221.87 204.62,221.96 205.06,221.89 205.50,223.30 206.00,223.53 206.50,225.76 207.00,226.63 207.50,229.78 208.00,231.17 208.50,233.28 209.00,235.65 209.50,239.20 210.00,241.54 210.50,246.60 211.00,249.05 211.50,253.91 212.00,258.11 212.50,259.47 213.00,264.65 213.50,267.80 214.00,268.66 214.50,269.92 215.00,270.22 215.50,270.81 216.00,270.87 216.50,271.23 217.00,269.45 217.50,268.29 218.00,271.06 218.50,270.45 219.00,271.02 219.50,271.09 220.00,270.39 220.50,270.81 221.00,271.57 221.50,271.25 222.00,270.11 222.50,269.26 223.00,271.48 223.50,270.56 224.00,270.96 224.50,271.05 225.00,269.66 225.50,270.58 226.00,268.99 226.50,270.17 227.00,268.92 227.50,270.13 228.00,269.34 228.50,268.39 229.00,269.96 229.50,268.58 230.00,269.46 230.50,268.99 231.00,268.09 231.50,269.51 232.00,268.03 232.50,268.24 233.00,268.38 233.50,268.02 234.00,267.69 234.50,268.09 235.00,266.37 235.38,265.87 235.75,264.73 236.12,266.15 236.50,268.65 237.00,267.98 237.50,267.67 238.00,267.20 238.50,267.08 239.00,266.33 239.50,266.89 240.00,265.21 240.47,265.70 240.94,266.50 241.41,265.78 241.88,266.05 242.34,265.39 242.81,264.53 243.28,265.26 243.75,265.02 244.22,265.81 244.69,266.50 245.16,265.99 245.62,263.31 246.09,265.11 246.56,265.00 247.03,265.05 247.50,265.07 248.00,265.36 248.50,265.37 249.00,265.37 249.50,266.77 250.00,265.98 250.42,267.91 250.83,267.80 251.25,268.22 251.67,269.51 252.08,270.53 252.50,269.59 253.00,269.80 253.50,269.00 254.00,267.96 254.50,268.05 254.94,267.14 255.38,264.97 255.81,264.65 256.25,262.88 256.69,261.95 257.12,260.65 257.56,260.16 258.00,257.59 258.50,255.01 259.00,253.56 259.50,249.96 260.00,244.32 260.50,237.38 261.00,232.29 261.50,227.34 262.00,225.79 262.50,227.24 263.00,230.93 263.50,231.81 264.00,233.67 264.50,232.31 265.00,233.52 265.50,234.23 266.00,235.26 266.50,236.66 267.00,236.73 267.44,238.18 267.88,239.54 268.31,240.15 268.75,240.63 269.17,241.84 269.58,243.50 270.00,244.51 270.42,247.60 270.83,251.13 271.25,252.64 271.67,255.60 272.08,258.00 272.50,260.28 272.94,260.80 273.38,263.42 273.81,263.90 274.25,264.39 274.75,266.31 275.25,266.44 275.75,268.69 276.19,268.41 276.62,269.11 277.06,267.82 277.50,267.15 278.00,267.35 278.50,266.33 279.00,266.99 279.50,266.35 279.94,265.00 280.38,263.53 280.81,263.56 281.25,261.91 281.75,263.92 282.25,264.10 282.75,263.88 283.25,263.48 283.75,262.81 284.25,263.97 284.75,263.11 285.25,264.81 285.75,264.60 286.25,265.77 286.75,266.33 287.25,266.86 287.75,265.57 288.25,266.53 288.75,267.60 289.19,267.37 289.62,267.96 290.06,269.01 290.50,269.02"/>
<rect x="174.50" y="197.86" width="116.00" height="79.50" fill="none" stroke="#000" stroke-width="1.0"/>
<path d="M174.50,277.36h2.4M290.50,277.36h-2.4M174.50,257.49h2.4M290.50,257.49h-2.4M174.50,237.61h2.4M290.50,237.61h-2.4M174.50,217.74h2.4M290.50,217.74h-2.4M174.50,197.86h2.4M290.50,197.86h-2.4M174.50,273.38h1.2M290.50,273.38h-1.2M174.50,269.41h1.2M290.50,269.41h-1.2M174.50,265.44h1.2M290.50,265.44h-1.2M174.50,261.46h1.2M290.50,261.46h-1.2M174.50,253.51h1.2M290.50,253.51h-1.2M174.50,249.54h1.2M290.50,249.54h-1.2M174.50,245.56h1.2M290.50,245.56h-1.2M174.50,241.59h1.2M290.50,241.59h-1.2M174.50,233.64h1.2M290.50,233.64h-1.2M174.50,229.66h1.2M290.50,229.66h-1.2M174.50,225.69h1.2M290.50,225.69h-1.2M174.50,221.71h1.2M290.50,221.71h-1.2M174.50,213.76h1.2M290.50,213.76h-1.2M174.50,209.79h1.2M290.50,209.79h-1.2M174.50,205.81h1.2M290.50,205.81h-1.2M174.50,201.84h1.2M290.50,201.84h-1.2M174.50,277.36v-0.9M174.50,197.86v0.9M177.72,277.36v-0.9M177.72,197.86v0.9M180.94,277.36v-0.9M180.94,197.86v0.9M184.17,277.36v-0.9M184.17,197.86v0.9M187.39,277.36v-0.9M187.39,197.86v0.9M190.61,277.36v-0.9M190.61,197.86v0.9M193.83,277.36v-0.9M193.83,197.86v0.9M197.06,277.36v-0.9M197.06,197.86v0.9M200.28,277.36v-1.8M200.28,197.86v1.8M203.50,277.36v-0.9M203.50,197.86v0.9M206.72,277.36v-0.9M206.72,197.86v0.9M209.94,277.36v-0.9M209.94,197.86v0.9M213.17,277.36v-0.9M213.17,197.86v0.9M216.39,277.36v-0.9M216.39,197.86v0.9M219.61,277.36v-0.9M219.61,197.86v0.9M222.83,277.36v-0.9M222.83,197.86v0.9M226.06,277.36v-0.9M226.06,197.86v0.9M229.28,277.36v-0.9M229.28,197.86v0.9M232.50,277.36v-1.8M232.50,197.86v1.8M235.72,277.36v-0.9M235.72,197.86v0.9M238.94,277.36v-0.9M238.94,197.86v0.9M242.17,277.36v-0.9M242.17,197.86v0.9M245.39,277.36v-0.9M245.39,197.86v0.9M248.61,277.36v-0.9M248.61,197.86v0.9M251.83,277.36v-0.9M251.83,197.86v0.9M255.06,277.36v-0.9M255.06,197.86v0.9M258.28,277.36v-0.9M258.28,197.86v0.9M261.50,277.36v-0.9M261.50,197.86v0.9M264.72,277.36v-1.8M264.72,197.86v1.8M267.94,277.36v-0.9M267.94,197.86v0.9M271.17,277.36v-0.9M271.17,197.86v0.9M274.39,277.36v-0.9M274.39,197.86v0.9M277.61,277.36v-0.9M277.61,197.86v0.9M280.83,277.36v-0.9M280.83,197.86v0.9M284.06,277.36v-0.9M284.06,197.86v0.9M287.28,277.36v-0.9M287.28,197.86v0.9M290.50,277.36v-0.9M290.50,197.86v0.9" stroke="#000" stroke-width="0.9" fill="none"/>
<text x="171.65" y="277.56" text-anchor="end" class="t">0</text>
<text x="171.65" y="261.37" text-anchor="end" class="t">50</text>
<text x="171.65" y="241.49" text-anchor="end" class="t">100</text>
<text x="171.65" y="221.62" text-anchor="end" class="t">150</text>
<text x="171.65" y="204.66" text-anchor="end" class="t">200</text>
<text x="200.28" y="290.82" text-anchor="middle" class="t">0</text>
<text x="232.50" y="290.82" text-anchor="middle" class="t">1000</text>
<text x="264.72" y="290.82" text-anchor="middle" class="t">2000</text>
<text x="286.90" y="207.96" text-anchor="end" class="n">Si IV</text>
<clipPath id="c22"><rect x="324.50" y="197.86" width="116.00" height="79.50"/></clipPath>
<line x1="360.70" y1="197.86" x2="360.70" y2="277.36" stroke="#000" stroke-width="0.9"/>
<line x1="396.90" y1="197.86" x2="396.90" y2="277.36" stroke="#000" stroke-width="0.9"/>
<line x1="348.50" y1="197.86" x2="348.50" y2="277.36" stroke="#000" stroke-width="0.9" stroke-dasharray="5.9 5.45" stroke-dashoffset="5.95"/>
<polyline clip-path="url(#c22)" fill="none" stroke="#000" stroke-width="1.25" stroke-linejoin="round" points="324.50,265.08 325.00,264.50 325.50,263.72 326.00,263.85 326.50,263.53 326.94,262.68 327.38,263.44 327.82,260.98 328.26,260.92 328.70,260.90 329.15,261.38 329.60,261.45 330.05,262.06 330.50,263.05 330.97,264.00 331.43,264.42 331.90,264.71 332.32,265.55 332.74,265.20 333.16,265.43 333.58,266.96 334.00,266.19 334.45,267.23 334.90,267.38 335.35,267.72 335.80,268.06 336.25,268.12 336.71,267.81 337.18,268.33 337.64,267.13 338.11,268.07 338.57,267.21 339.04,266.89 339.50,267.31 340.00,266.64 340.50,266.34 341.00,266.15 341.50,265.61 341.96,263.64 342.42,263.40 342.88,263.75 343.34,262.78 343.80,262.09 344.24,261.30 344.68,260.47 345.12,259.98 345.56,260.19 346.00,258.23 346.44,259.22 346.88,256.55 347.32,256.24 347.76,255.67 348.20,254.02 348.62,255.49 349.04,254.12 349.46,255.92 349.88,255.74 350.30,256.38 350.74,256.34 351.18,253.83 351.62,253.44 352.06,254.06 352.50,253.40 352.94,253.46 353.38,251.96 353.82,251.20 354.26,250.65 354.70,251.88 355.12,251.18 355.54,251.63 355.96,249.85 356.38,249.05 356.80,249.42 357.24,248.64 357.68,245.80 358.12,246.00 358.56,244.02 359.00,242.95 359.37,240.24 359.73,235.40 360.10,230.36 360.45,222.05 360.80,214.34 361.20,205.01 361.55,204.73 361.90,206.52 362.25,207.43 362.60,212.24 362.95,216.13 363.30,220.65 363.74,223.08 364.18,224.51 364.62,224.08 365.06,224.41 365.50,225.45 365.94,229.34 366.38,231.07 366.82,232.69 367.26,234.05 367.70,235.57 368.12,237.87 368.54,240.80 368.96,240.98 369.38,243.69 369.80,246.60 370.24,246.92 370.68,251.00 371.12,252.05 371.56,255.78 372.00,256.85 372.44,259.97 372.88,260.11 373.32,261.65 373.76,262.89 374.20,263.17 374.62,264.02 375.04,265.93 375.46,265.84 375.88,266.07 376.30,266.71 376.73,265.54 377.15,266.18 377.57,265.28 378.00,264.12 378.40,263.55 378.80,261.91 379.20,262.27 379.60,261.69 380.06,262.57 380.51,262.76 380.97,261.94 381.43,262.76 381.89,262.51 382.34,263.11 382.80,262.88 383.27,263.55 383.74,263.54 384.21,263.22 384.69,263.59 385.16,263.02 385.63,262.85 386.10,262.91 386.56,263.65 387.01,262.88 387.47,261.32 387.93,260.55 388.39,259.87 388.84,259.05 389.30,258.85 389.77,256.26 390.24,255.97 390.71,254.45 391.19,254.09 391.66,253.01 392.13,251.86 392.60,249.83 393.03,249.37 393.46,246.62 393.89,246.48 394.32,246.44 394.75,243.66 395.10,242.60 395.45,241.49 395.80,237.10 396.15,234.15 396.50,231.21 396.90,225.59 397.34,225.30 397.78,226.62 398.22,224.97 398.66,227.91 399.10,229.79 399.53,230.87 399.96,232.73 400.39,233.03 400.82,233.84 401.25,234.70 401.68,236.98 402.11,235.23 402.54,237.06 402.97,236.56 403.40,235.05 403.87,237.83 404.34,235.86 404.81,237.14 405.29,238.02 405.76,240.81 406.23,238.87 406.70,240.62 407.12,241.35 407.54,239.91 407.96,239.97 408.38,238.22 408.80,239.95 409.24,240.16 409.68,241.23 410.12,241.28 410.56,241.44 411.00,244.08 411.48,243.49 411.96,242.08 412.43,243.19 412.91,243.93 413.39,242.92 413.87,244.68 414.34,244.03 414.82,244.50 415.30,245.56 415.79,247.06 416.28,245.82 416.77,245.52 417.26,247.53 417.74,246.75 418.23,246.09 418.72,248.17 419.21,247.82 419.70,248.19 420.18,249.88 420.66,248.63 421.13,250.19 421.61,249.85 422.09,250.26 422.57,251.28 423.04,252.81 423.52,252.66 424.00,253.26 424.48,253.43 424.96,253.83 425.43,253.20 425.91,254.08 426.39,254.53 426.87,255.14 427.34,256.32 427.82,256.29 428.30,256.81 428.77,258.87 429.24,258.29 429.71,258.33 430.19,259.40 430.66,259.48 431.13,259.82 431.60,260.30 432.03,261.04 432.46,261.13 432.89,259.52 433.32,261.38 433.75,261.63 434.10,260.94 434.45,258.19 434.80,257.40 435.25,255.13 435.70,252.72 436.15,250.28 436.60,249.02 437.10,250.87 437.60,254.70 438.10,256.36 438.47,259.22 438.83,259.46 439.20,260.85 439.63,260.13 440.07,259.59 440.50,259.01"/>
<rect x="324.50" y="197.86" width="116.00" height="79.50" fill="none" stroke="#000" stroke-width="1.0"/>
<path d="M324.50,277.36h2.4M440.50,277.36h-2.4M324.50,257.49h2.4M440.50,257.49h-2.4M324.50,237.61h2.4M440.50,237.61h-2.4M324.50,217.74h2.4M440.50,217.74h-2.4M324.50,197.86h2.4M440.50,197.86h-2.4M324.50,273.38h1.2M440.50,273.38h-1.2M324.50,269.41h1.2M440.50,269.41h-1.2M324.50,265.44h1.2M440.50,265.44h-1.2M324.50,261.46h1.2M440.50,261.46h-1.2M324.50,253.51h1.2M440.50,253.51h-1.2M324.50,249.54h1.2M440.50,249.54h-1.2M324.50,245.56h1.2M440.50,245.56h-1.2M324.50,241.59h1.2M440.50,241.59h-1.2M324.50,233.64h1.2M440.50,233.64h-1.2M324.50,229.66h1.2M440.50,229.66h-1.2M324.50,225.69h1.2M440.50,225.69h-1.2M324.50,221.71h1.2M440.50,221.71h-1.2M324.50,213.76h1.2M440.50,213.76h-1.2M324.50,209.79h1.2M440.50,209.79h-1.2M324.50,205.81h1.2M440.50,205.81h-1.2M324.50,201.84h1.2M440.50,201.84h-1.2M324.50,277.36v-1.8M324.50,197.86v1.8M331.75,277.36v-0.9M331.75,197.86v0.9M339.00,277.36v-0.9M339.00,197.86v0.9M346.25,277.36v-0.9M346.25,197.86v0.9M353.50,277.36v-0.9M353.50,197.86v0.9M360.75,277.36v-1.8M360.75,197.86v1.8M368.00,277.36v-0.9M368.00,197.86v0.9M375.25,277.36v-0.9M375.25,197.86v0.9M382.50,277.36v-0.9M382.50,197.86v0.9M389.75,277.36v-0.9M389.75,197.86v0.9M397.00,277.36v-1.8M397.00,197.86v1.8M404.25,277.36v-0.9M404.25,197.86v0.9M411.50,277.36v-0.9M411.50,197.86v0.9M418.75,277.36v-0.9M418.75,197.86v0.9M426.00,277.36v-0.9M426.00,197.86v0.9M433.25,277.36v-1.8M433.25,197.86v1.8M440.50,277.36v-0.9M440.50,197.86v0.9" stroke="#000" stroke-width="0.9" fill="none"/>
<text x="321.65" y="277.56" text-anchor="end" class="t">0</text>
<text x="321.65" y="261.37" text-anchor="end" class="t">50</text>
<text x="321.65" y="241.49" text-anchor="end" class="t">100</text>
<text x="321.65" y="221.62" text-anchor="end" class="t">150</text>
<text x="321.65" y="204.66" text-anchor="end" class="t">200</text>
<text x="324.50" y="290.82" text-anchor="middle" class="t">−500</text>
<text x="360.75" y="290.82" text-anchor="middle" class="t">0</text>
<text x="397.00" y="290.82" text-anchor="middle" class="t">500</text>
<text x="433.25" y="290.82" text-anchor="middle" class="t">1000</text>
<text x="434.30" y="207.96" text-anchor="end" class="n">C IV</text>
<clipPath id="c23"><rect x="474.50" y="197.86" width="116.40" height="79.50"/></clipPath>
<line x1="532.80" y1="197.86" x2="532.80" y2="277.36" stroke="#000" stroke-width="0.9"/>
<line x1="525.10" y1="197.86" x2="525.10" y2="277.36" stroke="#000" stroke-width="0.9" stroke-dasharray="1.4 2.55" stroke-dashoffset="1.25"/>
<polyline clip-path="url(#c23)" fill="none" stroke="#000" stroke-width="1.25" stroke-linejoin="round" points="474.50,259.47 475.00,259.47 475.50,259.47 476.00,259.47 476.50,259.47 477.00,259.47 477.50,259.47 478.00,259.21 478.50,258.86 479.00,258.43 479.50,257.97 480.00,257.49 480.50,256.56 481.00,255.54 481.50,254.70 482.00,253.73 482.50,253.51 482.92,254.41 483.33,255.79 483.75,256.69 484.17,256.69 484.58,256.20 485.00,255.50 485.50,254.83 486.00,254.01 486.50,253.13 487.00,252.32 487.44,251.67 487.88,251.10 488.31,250.44 488.75,249.54 489.17,247.74 489.58,245.59 490.00,243.57 490.42,241.76 490.83,240.08 491.25,238.80 491.67,238.10 492.08,237.79 492.50,237.61 492.92,237.61 493.33,237.61 493.75,237.61 494.17,236.77 494.58,235.58 495.00,234.43 495.50,233.30 496.00,232.21 496.50,231.65 497.00,232.29 497.50,233.64 497.92,234.50 498.33,235.46 498.75,236.42 499.17,237.48 499.58,238.54 500.00,239.20 500.42,239.08 500.83,238.57 501.25,238.41 501.67,239.02 502.08,240.00 502.50,240.79 502.92,241.23 503.33,241.50 503.75,241.59 504.19,241.44 504.62,241.14 505.06,240.86 505.50,240.79 506.00,241.08 506.50,241.64 507.00,242.38 507.44,243.09 507.88,243.95 508.31,244.81 508.75,245.56 509.19,246.12 509.62,246.58 510.06,247.02 510.50,247.55 511.00,248.55 511.50,249.64 512.00,250.33 512.50,250.30 513.00,249.87 513.50,249.54 514.00,249.53 514.50,249.54 515.00,249.54 515.50,249.49 516.00,249.36 516.50,248.74 517.00,247.25 517.50,245.28 518.00,243.57 518.50,242.41 519.00,241.51 519.50,240.79 520.00,240.35 520.50,240.08 521.00,239.60 521.50,238.60 522.00,237.37 522.50,236.42 523.00,235.84 523.50,235.53 524.00,235.62 524.50,236.46 525.00,237.70 525.50,238.41 526.00,238.05 526.50,237.17 527.00,236.42 527.50,235.89 528.00,235.50 528.50,235.62 529.00,237.19 529.50,239.60 530.00,242.70 530.50,245.56 531.00,246.52 531.50,247.03 532.00,247.55 532.50,248.04 533.00,248.54 533.50,249.04 534.00,249.54 534.50,250.01 535.00,250.48 535.50,250.97 536.00,251.52 536.50,252.38 537.00,253.32 537.50,254.31 538.00,255.31 538.50,256.35 539.00,257.49 539.50,258.75 540.00,260.11 540.50,261.46 541.00,262.89 541.50,264.32 542.00,265.44 542.50,266.10 543.00,266.45 543.50,266.63 544.00,266.55 544.50,266.30 545.00,266.23 545.50,266.52 546.00,267.00 546.50,267.42 547.00,267.73 547.50,268.00 548.00,268.22 548.50,268.44 549.00,268.62 549.50,268.62 550.00,268.26 550.50,267.73 551.00,267.42 551.50,267.60 552.00,268.00 552.50,268.22 553.00,268.09 553.50,267.78 554.00,267.42 554.50,267.11 555.00,266.76 555.50,266.23 556.00,265.46 556.50,264.52 557.00,263.45 557.44,262.57 557.88,261.61 558.31,260.58 558.75,259.47 559.19,258.30 559.62,257.06 560.06,255.74 560.50,254.31 561.00,252.66 561.50,250.85 562.00,249.08 562.50,247.55 563.00,245.90 563.50,244.56 564.00,243.57 564.50,243.09 565.00,242.95 565.50,242.78 566.00,242.59 566.50,242.35 567.00,241.59 567.50,239.92 568.00,237.73 568.50,235.62 569.00,233.75 569.50,231.97 570.00,230.46 570.44,229.48 570.88,228.62 571.31,227.98 571.75,227.67 572.17,227.95 572.58,228.76 573.00,229.66 573.42,230.62 573.83,231.66 574.25,232.44 574.75,232.85 575.25,232.90 575.75,232.84 576.17,232.37 576.58,231.59 577.00,230.46 577.50,228.75 578.00,226.69 578.50,224.89 579.00,223.68 579.50,222.74 580.00,221.71 580.50,220.33 581.00,218.85 581.50,217.74 581.94,217.35 582.38,217.24 582.81,217.18 583.25,216.94 583.69,216.49 584.12,215.95 584.56,215.30 585.00,214.56 585.50,213.16 586.00,211.58 586.50,210.58 587.00,210.56 587.50,211.77 587.92,213.41 588.33,215.57 588.75,217.74 589.19,219.37 589.62,221.09 590.06,222.63 590.50,223.70"/>
<rect x="474.50" y="197.86" width="116.40" height="79.50" fill="none" stroke="#000" stroke-width="1.0"/>
<path d="M474.50,277.36h2.4M590.90,277.36h-2.4M474.50,257.49h2.4M590.90,257.49h-2.4M474.50,237.61h2.4M590.90,237.61h-2.4M474.50,217.74h2.4M590.90,217.74h-2.4M474.50,197.86h2.4M590.90,197.86h-2.4M474.50,273.38h1.2M590.90,273.38h-1.2M474.50,269.41h1.2M590.90,269.41h-1.2M474.50,265.44h1.2M590.90,265.44h-1.2M474.50,261.46h1.2M590.90,261.46h-1.2M474.50,253.51h1.2M590.90,253.51h-1.2M474.50,249.54h1.2M590.90,249.54h-1.2M474.50,245.56h1.2M590.90,245.56h-1.2M474.50,241.59h1.2M590.90,241.59h-1.2M474.50,233.64h1.2M590.90,233.64h-1.2M474.50,229.66h1.2M590.90,229.66h-1.2M474.50,225.69h1.2M590.90,225.69h-1.2M474.50,221.71h1.2M590.90,221.71h-1.2M474.50,213.76h1.2M590.90,213.76h-1.2M474.50,209.79h1.2M590.90,209.79h-1.2M474.50,205.81h1.2M590.90,205.81h-1.2M474.50,201.84h1.2M590.90,201.84h-1.2M474.50,277.36v-1.8M474.50,197.86v1.8M477.41,277.36v-0.9M477.41,197.86v0.9M480.32,277.36v-0.9M480.32,197.86v0.9M483.23,277.36v-0.9M483.23,197.86v0.9M486.14,277.36v-0.9M486.14,197.86v0.9M489.05,277.36v-0.9M489.05,197.86v0.9M491.96,277.36v-0.9M491.96,197.86v0.9M494.87,277.36v-0.9M494.87,197.86v0.9M497.78,277.36v-0.9M497.78,197.86v0.9M500.69,277.36v-0.9M500.69,197.86v0.9M503.60,277.36v-1.8M503.60,197.86v1.8M506.51,277.36v-0.9M506.51,197.86v0.9M509.42,277.36v-0.9M509.42,197.86v0.9M512.33,277.36v-0.9M512.33,197.86v0.9M515.24,277.36v-0.9M515.24,197.86v0.9M518.15,277.36v-0.9M518.15,197.86v0.9M521.06,277.36v-0.9M521.06,197.86v0.9M523.97,277.36v-0.9M523.97,197.86v0.9M526.88,277.36v-0.9M526.88,197.86v0.9M529.79,277.36v-0.9M529.79,197.86v0.9M532.70,277.36v-1.8M532.70,197.86v1.8M535.61,277.36v-0.9M535.61,197.86v0.9M538.52,277.36v-0.9M538.52,197.86v0.9M541.43,277.36v-0.9M541.43,197.86v0.9M544.34,277.36v-0.9M544.34,197.86v0.9M547.25,277.36v-0.9M547.25,197.86v0.9M550.16,277.36v-0.9M550.16,197.86v0.9M553.07,277.36v-0.9M553.07,197.86v0.9M555.98,277.36v-0.9M555.98,197.86v0.9M558.89,277.36v-0.9M558.89,197.86v0.9M561.80,277.36v-1.8M561.80,197.86v1.8M564.71,277.36v-0.9M564.71,197.86v0.9M567.62,277.36v-0.9M567.62,197.86v0.9M570.53,277.36v-0.9M570.53,197.86v0.9M573.44,277.36v-0.9M573.44,197.86v0.9M576.35,277.36v-0.9M576.35,197.86v0.9M579.26,277.36v-0.9M579.26,197.86v0.9M582.17,277.36v-0.9M582.17,197.86v0.9M585.08,277.36v-0.9M585.08,197.86v0.9M587.99,277.36v-0.9M587.99,197.86v0.9M590.90,277.36v-1.8M590.90,197.86v1.8" stroke="#000" stroke-width="0.9" fill="none"/>
<text x="471.65" y="277.56" text-anchor="end" class="t">0</text>
<text x="471.65" y="261.37" text-anchor="end" class="t">50</text>
<text x="471.65" y="241.49" text-anchor="end" class="t">100</text>
<text x="471.65" y="221.62" text-anchor="end" class="t">150</text>
<text x="471.65" y="204.66" text-anchor="end" class="t">200</text>
<text x="474.50" y="290.82" text-anchor="middle" class="t">−200</text>
<text x="503.60" y="290.82" text-anchor="middle" class="t">−100</text>
<text x="532.70" y="290.82" text-anchor="middle" class="t">0</text>
<text x="561.80" y="290.82" text-anchor="middle" class="t">100</text>
<text x="590.90" y="290.82" text-anchor="middle" class="t">200</text>
<text x="480.30" y="207.96" class="n">DX Cha</text>
<text x="588.60" y="207.96" text-anchor="end" class="n">He II</text>
<clipPath id="c30"><rect x="24.00" y="295.29" width="116.00" height="79.50"/></clipPath>
<line x1="36.10" y1="295.29" x2="36.10" y2="374.79" stroke="#000" stroke-width="0.9" stroke-dasharray="5.9 5.45" stroke-dashoffset="5.95"/>
<line x1="41.40" y1="295.29" x2="41.40" y2="374.79" stroke="#000" stroke-width="0.9" stroke-dasharray="5.9 5.45" stroke-dashoffset="5.95"/>
<line x1="88.00" y1="295.29" x2="88.00" y2="374.79" stroke="#000" stroke-width="0.9" stroke-dasharray="5.9 5.45" stroke-dashoffset="5.95"/>
<line x1="56.20" y1="295.29" x2="56.20" y2="374.79" stroke="#000" stroke-width="0.9"/>
<line x1="118.60" y1="295.29" x2="118.60" y2="374.79" stroke="#000" stroke-width="0.9"/>
<line x1="124.30" y1="295.29" x2="124.30" y2="374.79" stroke="#000" stroke-width="0.9" stroke-dasharray="1.4 2.55" stroke-dashoffset="1.25"/>
<line x1="126.30" y1="295.29" x2="126.30" y2="374.79" stroke="#000" stroke-width="0.9" stroke-dasharray="1.4 2.55" stroke-dashoffset="1.25"/>
<polyline clip-path="url(#c30)" fill="none" stroke="#000" stroke-width="1.25" stroke-linejoin="round" points="24.00,372.71 24.50,373.12 25.00,377.18 25.50,375.66 26.00,365.80 26.50,374.49 27.00,373.68 27.50,374.98 28.00,374.15 28.50,371.47 29.00,372.39 29.50,374.20 30.00,367.81 30.50,361.45 31.00,366.31 31.50,370.85 32.00,352.04 32.50,367.33 33.00,361.68 33.50,361.73 34.00,349.28 34.50,342.34 35.00,344.01 35.50,336.17 36.00,346.98 36.50,361.31 37.00,366.18 37.50,371.81 38.00,363.59 38.50,368.98 39.00,368.64 39.50,358.90 40.00,347.67 40.40,346.49 40.80,336.51 41.20,334.05 41.63,336.03 42.07,341.38 42.50,346.73 43.00,342.52 43.50,337.97 44.00,348.16 44.50,339.74 45.00,345.72 45.50,346.15 46.00,352.54 46.50,355.29 47.00,343.61 47.50,344.16 48.00,342.87 48.50,340.04 49.00,343.28 49.50,335.37 50.00,330.32 50.50,333.49 51.00,339.82 51.50,344.32 52.00,345.10 52.50,344.26 53.00,340.73 53.50,337.71 54.00,335.25 54.50,309.45 55.00,321.61 55.50,318.15 56.00,318.00 56.50,325.91 57.00,330.21 57.50,352.25 58.00,363.94 58.50,373.97 59.00,372.70 59.50,370.91 60.00,366.59 60.50,371.13 61.00,373.77 61.50,379.41 62.00,369.44 62.50,363.50 63.00,366.63 63.50,367.72 64.00,366.18 64.50,364.41 65.00,367.90 65.50,359.59 66.00,349.68 66.50,348.45 67.00,352.77 67.50,354.46 68.00,369.86 68.50,359.57 69.00,373.15 69.50,374.54 70.00,367.65 70.50,372.71 71.00,375.28 71.50,370.46 72.00,380.81 72.50,370.14 73.00,361.36 73.50,372.82 74.00,371.36 74.50,371.92 75.00,364.73 75.50,363.52 76.00,368.37 76.50,373.30 77.00,367.30 77.50,368.92 78.00,376.86 78.50,360.18 79.00,371.99 79.50,359.26 80.00,370.71 80.50,353.90 81.00,359.56 81.50,351.69 82.00,358.81 82.50,374.44 83.00,375.05 83.50,370.75 84.00,373.16 84.50,362.21 85.00,365.11 85.50,366.14 86.00,368.19 86.50,361.05 87.00,366.66 87.50,362.60 88.00,371.23 88.50,361.88 89.00,364.57 89.50,365.26 90.00,361.88 90.50,374.10 91.00,379.40 91.50,366.77 92.00,365.38 92.50,369.23 93.00,366.48 93.50,361.63 94.00,370.38 94.50,363.49 95.00,364.33 95.50,357.32 96.00,360.17 96.50,367.70 97.00,367.07 97.50,367.49 98.00,371.54 98.50,372.11 99.00,373.92 99.50,361.29 100.00,364.01 100.50,363.47 101.00,368.04 101.50,367.03 102.00,359.75 102.50,358.74 103.00,364.22 103.50,363.76 104.00,379.12 104.50,364.53 105.00,373.51 105.50,373.77 106.00,366.19 106.50,376.53 107.00,377.71 107.50,363.93 108.00,362.37 108.50,370.53 109.00,365.73 109.50,362.35 110.00,359.39 110.50,373.45 111.00,370.90 111.50,367.44 112.00,361.70 112.50,366.04 113.00,365.42 113.50,363.30 114.00,362.93 114.50,364.85 115.00,374.12 115.50,368.98 116.00,372.02 116.50,373.46 117.00,371.68 117.50,375.47 118.00,372.39 118.50,371.84 119.00,360.05 119.50,374.11 120.00,370.79 120.50,372.51 121.00,366.59 121.50,359.70 122.00,358.84 122.50,346.29 123.00,356.82 123.50,359.45 124.00,365.42 124.50,364.36 125.00,366.96 125.50,367.18 126.00,377.45 126.50,370.02 127.00,365.22 127.50,364.07 128.00,373.15 128.50,376.43 129.00,372.25 129.50,364.70 130.00,367.37 130.50,376.33 131.00,366.90 131.50,371.62 132.00,367.71 132.50,367.63 133.00,372.87 133.50,369.01 134.00,364.57 134.50,362.59 135.00,372.48 135.50,368.48 136.00,368.24 136.50,371.85 137.00,370.20 137.50,369.97 138.00,368.03 138.50,363.76 139.00,378.46 139.50,365.83 140.00,376.12"/>
<rect x="24.00" y="295.29" width="116.00" height="79.50" fill="none" stroke="#000" stroke-width="1.0"/>
<path d="M24.00,374.79h2.4M140.00,374.79h-2.4M24.00,354.92h2.4M140.00,354.92h-2.4M24.00,335.04h2.4M140.00,335.04h-2.4M24.00,315.17h2.4M140.00,315.17h-2.4M24.00,295.29h2.4M140.00,295.29h-2.4M24.00,369.82h1.2M140.00,369.82h-1.2M24.00,364.85h1.2M140.00,364.85h-1.2M24.00,359.88h1.2M140.00,359.88h-1.2M24.00,349.95h1.2M140.00,349.95h-1.2M24.00,344.98h1.2M140.00,344.98h-1.2M24.00,340.01h1.2M140.00,340.01h-1.2M24.00,330.07h1.2M140.00,330.07h-1.2M24.00,325.10h1.2M140.00,325.10h-1.2M24.00,320.13h1.2M140.00,320.13h-1.2M24.00,310.20h1.2M140.00,310.20h-1.2M24.00,305.23h1.2M140.00,305.23h-1.2M24.00,300.26h1.2M140.00,300.26h-1.2M24.00,374.79v-1.8M24.00,295.29v1.8M30.44,374.79v-0.9M30.44,295.29v0.9M36.89,374.79v-0.9M36.89,295.29v0.9M43.33,374.79v-0.9M43.33,295.29v0.9M49.78,374.79v-0.9M49.78,295.29v0.9M56.22,374.79v-1.8M56.22,295.29v1.8M62.67,374.79v-0.9M62.67,295.29v0.9M69.11,374.79v-0.9M69.11,295.29v0.9M75.56,374.79v-0.9M75.56,295.29v0.9M82.00,374.79v-0.9M82.00,295.29v0.9M88.44,374.79v-1.8M88.44,295.29v1.8M94.89,374.79v-0.9M94.89,295.29v0.9M101.33,374.79v-0.9M101.33,295.29v0.9M107.78,374.79v-0.9M107.78,295.29v0.9M114.22,374.79v-0.9M114.22,295.29v0.9M120.67,374.79v-1.8M120.67,295.29v1.8M127.11,374.79v-0.9M127.11,295.29v0.9M133.56,374.79v-0.9M133.56,295.29v0.9M140.00,374.79v-0.9M140.00,295.29v0.9" stroke="#000" stroke-width="0.9" fill="none"/>
<text x="21.15" y="374.99" text-anchor="end" class="t">0.0</text>
<text x="21.15" y="358.80" text-anchor="end" class="t">0.2</text>
<text x="21.15" y="338.92" text-anchor="end" class="t">0.4</text>
<text x="21.15" y="319.05" text-anchor="end" class="t">0.6</text>
<text x="21.15" y="302.09" text-anchor="end" class="t">0.8</text>
<text x="24.00" y="388.25" text-anchor="middle" class="t">−500</text>
<text x="56.22" y="388.25" text-anchor="middle" class="t">0</text>
<text x="88.44" y="388.25" text-anchor="middle" class="t">500</text>
<text x="120.67" y="388.25" text-anchor="middle" class="t">1000</text>
<text x="119.20" y="305.39" class="n">N V</text>
<clipPath id="c31"><rect x="174.50" y="295.29" width="116.00" height="79.50"/></clipPath>
<line x1="191.00" y1="295.29" x2="191.00" y2="374.79" stroke="#000" stroke-width="0.9" stroke-dasharray="1.4 2.55" stroke-dashoffset="1.25"/>
<line x1="251.40" y1="295.29" x2="251.40" y2="374.79" stroke="#000" stroke-width="0.9" stroke-dasharray="1.4 2.55" stroke-dashoffset="1.25"/>
<line x1="199.80" y1="295.29" x2="199.80" y2="374.79" stroke="#000" stroke-width="0.9"/>
<line x1="263.00" y1="295.29" x2="263.00" y2="374.79" stroke="#000" stroke-width="0.9"/>
<line x1="201.50" y1="295.29" x2="201.50" y2="374.79" stroke="#000" stroke-width="0.9" stroke-dasharray="5.9 5.45" stroke-dashoffset="5.95"/>
<line x1="235.60" y1="295.29" x2="235.60" y2="374.79" stroke="#000" stroke-width="0.9" stroke-dasharray="5.9 5.45" stroke-dashoffset="5.95"/>
<line x1="261.50" y1="295.29" x2="261.50" y2="374.79" stroke="#000" stroke-width="0.9" stroke-dasharray="5.9 5.45" stroke-dashoffset="5.95"/>
<polyline clip-path="url(#c31)" fill="none" stroke="#000" stroke-width="1.25" stroke-linejoin="round" points="174.50,374.71 175.00,375.08 175.50,373.52 176.00,374.32 176.50,374.28 177.00,375.64 177.43,374.62 177.85,374.33 178.27,374.23 178.70,371.35 179.00,373.48 179.30,365.68 179.75,363.36 180.20,367.87 180.60,373.21 181.00,373.59 181.50,374.93 182.00,374.64 182.50,371.14 183.00,370.75 183.50,370.56 184.00,372.25 184.40,374.64 184.80,369.60 185.20,351.91 185.60,369.60 186.07,367.87 186.53,370.43 187.00,370.82 187.50,367.03 188.00,369.70 188.50,370.62 189.00,369.23 189.50,370.66 189.87,366.31 190.23,362.95 190.60,365.96 190.97,360.79 191.33,360.56 191.70,355.15 192.12,359.34 192.54,360.52 192.96,360.44 193.38,356.59 193.80,358.26 194.17,358.44 194.53,352.48 194.90,351.01 195.34,346.36 195.78,352.74 196.22,341.56 196.66,351.88 197.10,347.34 197.47,346.66 197.83,342.79 198.20,346.36 198.55,332.60 198.90,340.55 199.25,341.05 199.60,322.40 199.95,327.10 200.30,329.22 200.65,317.46 201.00,311.41 201.43,327.31 201.85,337.80 202.18,342.07 202.50,339.56 202.94,336.00 203.38,340.96 203.82,335.42 204.26,335.98 204.70,341.90 205.05,350.23 205.40,345.44 205.75,350.60 206.18,341.25 206.61,347.83 207.04,351.04 207.47,352.45 207.90,347.44 208.27,352.02 208.63,358.71 209.00,361.90 209.44,361.72 209.88,360.09 210.32,362.61 210.76,366.24 211.20,367.79 211.55,368.73 211.90,375.65 212.25,372.03 212.60,368.77 212.95,370.51 213.30,373.78 213.78,373.67 214.26,374.92 214.74,375.62 215.21,372.82 215.69,370.46 216.17,374.48 216.65,374.58 217.13,372.03 217.61,370.90 218.09,373.75 218.56,375.94 219.04,373.93 219.52,371.55 220.00,371.59 220.50,370.35 221.00,372.96 221.50,374.91 222.00,373.91 222.50,373.90 223.00,372.00 223.50,370.68 224.00,374.93 224.50,371.63 225.00,370.89 225.50,372.49 226.00,374.97 226.50,373.13 227.00,374.51 227.50,374.53 228.00,374.04 228.48,372.56 228.96,371.51 229.44,375.53 229.92,371.74 230.40,374.58 230.88,372.85 231.36,376.62 231.84,368.51 232.32,371.85 232.80,375.18 233.30,373.43 233.80,374.65 234.30,372.11 234.80,371.61 235.23,364.59 235.65,356.81 236.03,359.37 236.40,372.94 236.80,375.68 237.20,372.53 237.70,369.91 238.20,370.78 238.70,373.29 239.20,370.25 239.70,376.20 240.20,378.70 240.70,371.29 241.20,372.86 241.70,371.20 242.20,373.66 242.70,372.04 243.20,370.71 243.70,371.45 244.05,374.40 244.40,369.84 244.75,366.77 245.21,370.40 245.68,368.15 246.14,367.64 246.61,364.35 247.07,366.74 247.54,367.11 248.00,356.82 248.48,364.68 248.96,366.23 249.43,359.13 249.91,362.25 250.39,358.27 250.87,363.48 251.34,355.78 251.82,358.56 252.30,363.52 252.67,366.27 253.03,361.55 253.40,361.58 253.88,353.06 254.37,357.82 254.85,353.37 255.33,351.31 255.82,357.81 256.30,346.11 256.78,348.27 257.27,353.68 257.75,348.39 258.10,344.50 258.45,347.49 258.80,333.57 259.25,335.21 259.70,338.44 260.15,333.37 260.60,338.86 261.00,327.56 261.40,316.97 261.75,310.86 262.10,288.00 262.40,305.38 262.70,327.38 263.15,348.83 263.60,341.57 264.03,349.24 264.45,347.15 264.88,348.00 265.30,345.63 265.67,339.22 266.03,350.80 266.40,338.21 266.84,347.83 267.28,353.04 267.72,356.17 268.16,354.75 268.60,367.07 268.97,362.49 269.33,357.97 269.70,361.00 270.12,362.13 270.54,364.08 270.96,363.73 271.38,366.53 271.80,365.03 272.17,371.06 272.53,371.25 272.90,363.33 273.34,371.09 273.79,366.69 274.23,370.75 274.67,371.85 275.11,369.42 275.56,370.43 276.00,372.15 276.47,370.09 276.93,372.48 277.40,369.95 277.87,372.26 278.33,372.36 278.80,371.85 279.10,363.90 279.40,366.36 279.70,366.41 280.00,368.10 280.50,371.00 281.00,376.07 281.50,368.26 282.00,369.30 282.50,373.17 283.00,371.44 283.50,367.65 284.00,370.62 284.48,373.29 284.96,371.56 285.44,371.58 285.92,373.39 286.40,370.97 286.70,359.65 287.00,351.45 287.30,357.90 287.60,368.30 287.90,370.37 288.20,366.02 288.70,350.08 289.00,358.00 289.30,369.39 289.70,368.56 290.10,375.06 290.50,370.25"/>
<rect x="174.50" y="295.29" width="116.00" height="79.50" fill="none" stroke="#000" stroke-width="1.0"/>
<path d="M174.50,374.79h2.4M290.50,374.79h-2.4M174.50,354.92h2.4M290.50,354.92h-2.4M174.50,335.04h2.4M290.50,335.04h-2.4M174.50,315.17h2.4M290.50,315.17h-2.4M174.50,295.29h2.4M290.50,295.29h-2.4M174.50,372.80h1.2M290.50,372.80h-1.2M174.50,370.81h1.2M290.50,370.81h-1.2M174.50,368.83h1.2M290.50,368.83h-1.2M174.50,366.84h1.2M290.50,366.84h-1.2M174.50,364.85h1.2M290.50,364.85h-1.2M174.50,362.87h1.2M290.50,362.87h-1.2M174.50,360.88h1.2M290.50,360.88h-1.2M174.50,358.89h1.2M290.50,358.89h-1.2M174.50,356.90h1.2M290.50,356.90h-1.2M174.50,352.93h1.2M290.50,352.93h-1.2M174.50,350.94h1.2M290.50,350.94h-1.2M174.50,348.95h1.2M290.50,348.95h-1.2M174.50,346.97h1.2M290.50,346.97h-1.2M174.50,344.98h1.2M290.50,344.98h-1.2M174.50,342.99h1.2M290.50,342.99h-1.2M174.50,341.00h1.2M290.50,341.00h-1.2M174.50,339.02h1.2M290.50,339.02h-1.2M174.50,337.03h1.2M290.50,337.03h-1.2M174.50,333.05h1.2M290.50,333.05h-1.2M174.50,331.06h1.2M290.50,331.06h-1.2M174.50,329.08h1.2M290.50,329.08h-1.2M174.50,327.09h1.2M290.50,327.09h-1.2M174.50,325.10h1.2M290.50,325.10h-1.2M174.50,323.12h1.2M290.50,323.12h-1.2M174.50,321.13h1.2M290.50,321.13h-1.2M174.50,319.14h1.2M290.50,319.14h-1.2M174.50,317.15h1.2M290.50,317.15h-1.2M174.50,313.18h1.2M290.50,313.18h-1.2M174.50,311.19h1.2M290.50,311.19h-1.2M174.50,309.20h1.2M290.50,309.20h-1.2M174.50,307.22h1.2M290.50,307.22h-1.2M174.50,305.23h1.2M290.50,305.23h-1.2M174.50,303.24h1.2M290.50,303.24h-1.2M174.50,301.25h1.2M290.50,301.25h-1.2M174.50,299.27h1.2M290.50,299.27h-1.2M174.50,297.28h1.2M290.50,297.28h-1.2M174.50,374.79v-0.9M174.50,295.29v0.9M177.72,374.79v-0.9M177.72,295.29v0.9M180.94,374.79v-0.9M180.94,295.29v0.9M184.17,374.79v-0.9M184.17,295.29v0.9M187.39,374.79v-0.9M187.39,295.29v0.9M190.61,374.79v-0.9M190.61,295.29v0.9M193.83,374.79v-0.9M193.83,295.29v0.9M197.06,374.79v-0.9M197.06,295.29v0.9M200.28,374.79v-1.8M200.28,295.29v1.8M203.50,374.79v-0.9M203.50,295.29v0.9M206.72,374.79v-0.9M206.72,295.29v0.9M209.94,374.79v-0.9M209.94,295.29v0.9M213.17,374.79v-0.9M213.17,295.29v0.9M216.39,374.79v-0.9M216.39,295.29v0.9M219.61,374.79v-0.9M219.61,295.29v0.9M222.83,374.79v-0.9M222.83,295.29v0.9M226.06,374.79v-0.9M226.06,295.29v0.9M229.28,374.79v-0.9M229.28,295.29v0.9M232.50,374.79v-1.8M232.50,295.29v1.8M235.72,374.79v-0.9M235.72,295.29v0.9M238.94,374.79v-0.9M238.94,295.29v0.9M242.17,374.79v-0.9M242.17,295.29v0.9M245.39,374.79v-0.9M245.39,295.29v0.9M248.61,374.79v-0.9M248.61,295.29v0.9M251.83,374.79v-0.9M251.83,295.29v0.9M255.06,374.79v-0.9M255.06,295.29v0.9M258.28,374.79v-0.9M258.28,295.29v0.9M261.50,374.79v-0.9M261.50,295.29v0.9M264.72,374.79v-1.8M264.72,295.29v1.8M267.94,374.79v-0.9M267.94,295.29v0.9M271.17,374.79v-0.9M271.17,295.29v0.9M274.39,374.79v-0.9M274.39,295.29v0.9M277.61,374.79v-0.9M277.61,295.29v0.9M280.83,374.79v-0.9M280.83,295.29v0.9M284.06,374.79v-0.9M284.06,295.29v0.9M287.28,374.79v-0.9M287.28,295.29v0.9M290.50,374.79v-0.9M290.50,295.29v0.9" stroke="#000" stroke-width="0.9" fill="none"/>
<text x="171.65" y="374.99" text-anchor="end" class="t">0</text>
<text x="171.65" y="358.80" text-anchor="end" class="t">1</text>
<text x="171.65" y="338.92" text-anchor="end" class="t">2</text>
<text x="171.65" y="319.05" text-anchor="end" class="t">3</text>
<text x="171.65" y="302.09" text-anchor="end" class="t">4</text>
<text x="200.28" y="388.25" text-anchor="middle" class="t">0</text>
<text x="232.50" y="388.25" text-anchor="middle" class="t">1000</text>
<text x="264.72" y="388.25" text-anchor="middle" class="t">2000</text>
<text x="286.90" y="305.39" text-anchor="end" class="n">Si IV</text>
<clipPath id="c32"><rect x="324.50" y="295.29" width="116.00" height="79.50"/></clipPath>
<line x1="360.70" y1="295.29" x2="360.70" y2="374.79" stroke="#000" stroke-width="0.9"/>
<line x1="396.90" y1="295.29" x2="396.90" y2="374.79" stroke="#000" stroke-width="0.9"/>
<line x1="348.50" y1="295.29" x2="348.50" y2="374.79" stroke="#000" stroke-width="0.9" stroke-dasharray="5.9 5.45" stroke-dashoffset="5.95"/>
<polyline clip-path="url(#c32)" fill="none" stroke="#000" stroke-width="1.25" stroke-linejoin="round" points="324.50,373.07 325.00,371.78 325.50,372.59 326.00,371.39 326.50,374.84 327.00,373.31 327.50,372.19 328.00,370.10 328.50,369.92 329.00,367.73 329.50,371.85 330.00,365.65 330.47,369.53 330.94,369.29 331.41,371.38 331.88,367.36 332.34,368.11 332.81,373.35 333.28,369.72 333.75,367.05 334.22,367.08 334.69,369.27 335.16,365.47 335.62,361.90 336.09,358.94 336.56,363.76 337.03,361.10 337.50,362.20 337.97,366.21 338.44,365.64 338.91,365.67 339.38,365.08 339.84,358.11 340.31,369.75 340.78,356.62 341.25,361.01 341.71,361.33 342.18,358.25 342.64,362.30 343.11,359.00 343.57,353.70 344.04,362.33 344.50,358.31 344.92,349.09 345.33,352.89 345.75,350.63 346.19,342.20 346.62,351.75 347.06,354.70 347.50,335.05 348.00,333.66 348.50,332.09 349.00,332.78 349.50,339.51 350.00,317.52 350.50,325.50 351.00,330.43 351.50,326.94 352.00,311.90 352.44,311.01 352.88,313.05 353.31,326.35 353.75,317.38 354.19,307.45 354.62,320.71 355.06,320.42 355.50,309.23 356.00,317.11 356.50,303.24 357.00,323.80 357.50,315.83 358.00,319.31 358.50,323.27 359.00,332.44 359.50,312.22 360.00,335.78 360.42,324.95 360.83,305.04 361.25,311.89 361.62,300.26 362.00,302.85 362.50,297.72 363.00,303.79 363.50,300.76 364.00,318.23 364.50,308.70 364.92,310.37 365.33,317.36 365.75,316.79 366.17,322.95 366.58,317.95 367.00,332.36 367.44,330.01 367.88,331.25 368.31,347.41 368.75,331.59 369.25,341.94 369.75,335.37 370.25,339.78 370.75,341.82 371.19,336.68 371.62,333.38 372.06,337.50 372.50,347.48 373.00,344.15 373.50,335.91 374.00,342.53 374.50,348.38 375.00,341.71 375.50,341.52 376.00,349.74 376.50,346.99 377.00,348.48 377.50,342.59 378.00,352.56 378.50,351.39 379.00,353.02 379.50,360.24 379.88,358.33 380.25,370.03 380.75,369.11 381.25,360.98 381.75,356.86 382.25,359.68 382.75,371.59 383.25,361.14 383.75,351.96 384.25,354.91 384.75,349.76 385.25,360.47 385.75,364.36 386.25,358.38 386.75,357.77 387.25,355.74 387.75,362.46 388.25,351.49 388.75,350.37 389.25,351.60 389.75,351.66 390.25,352.66 390.75,352.29 391.25,353.46 391.69,353.79 392.12,352.28 392.56,350.00 393.00,332.50 393.50,350.18 394.00,337.50 394.50,330.33 395.00,339.49 395.50,326.89 396.00,330.09 396.50,336.52 396.95,344.78 397.40,336.89 397.85,338.53 398.30,343.70 398.75,336.33 399.25,336.85 399.75,335.20 400.25,340.79 400.75,345.60 401.25,349.66 401.75,347.02 402.25,349.64 402.75,350.79 403.25,346.94 403.75,348.28 404.25,343.82 404.75,347.76 405.25,349.48 405.75,354.38 406.25,350.51 406.67,344.39 407.08,336.15 407.50,354.64 407.92,343.11 408.33,346.48 408.75,357.77 409.25,353.69 409.75,349.95 410.25,354.59 410.75,359.79 411.25,360.53 411.75,355.35 412.25,361.69 412.75,366.03 413.25,362.15 413.75,363.72 414.25,365.45 414.75,358.49 415.25,366.95 415.75,369.53 416.25,366.62 416.75,364.74 417.25,364.71 417.75,370.73 418.25,369.80 418.75,370.01 419.22,370.72 419.69,374.01 420.16,366.73 420.62,368.63 421.09,365.62 421.56,373.54 422.03,369.51 422.50,371.63 422.97,372.99 423.44,371.58 423.91,373.02 424.38,372.85 424.84,370.82 425.31,376.66 425.78,371.94 426.25,371.43 426.72,371.13 427.19,372.43 427.66,372.77 428.12,372.41 428.59,371.13 429.06,375.24 429.53,370.50 430.00,376.51 430.50,373.09 431.00,372.24 431.50,372.31 432.00,373.09 432.50,378.34 433.00,371.51 433.50,371.88 434.00,373.69 434.50,375.91 435.00,372.68 435.47,374.37 435.94,371.83 436.41,374.83 436.88,373.30 437.34,371.26 437.81,371.08 438.28,371.69 438.75,370.46 439.19,368.43 439.62,374.71 440.06,371.82 440.50,368.67"/>
<rect x="324.50" y="295.29" width="116.00" height="79.50" fill="none" stroke="#000" stroke-width="1.0"/>
<path d="M324.50,374.79h2.4M440.50,374.79h-2.4M324.50,361.54h2.4M440.50,361.54h-2.4M324.50,348.29h2.4M440.50,348.29h-2.4M324.50,335.04h2.4M440.50,335.04h-2.4M324.50,321.79h2.4M440.50,321.79h-2.4M324.50,308.54h2.4M440.50,308.54h-2.4M324.50,295.29h2.4M440.50,295.29h-2.4M324.50,373.47h1.2M440.50,373.47h-1.2M324.50,372.14h1.2M440.50,372.14h-1.2M324.50,370.81h1.2M440.50,370.81h-1.2M324.50,369.49h1.2M440.50,369.49h-1.2M324.50,368.17h1.2M440.50,368.17h-1.2M324.50,366.84h1.2M440.50,366.84h-1.2M324.50,365.52h1.2M440.50,365.52h-1.2M324.50,364.19h1.2M440.50,364.19h-1.2M324.50,362.87h1.2M440.50,362.87h-1.2M324.50,360.22h1.2M440.50,360.22h-1.2M324.50,358.89h1.2M440.50,358.89h-1.2M324.50,357.56h1.2M440.50,357.56h-1.2M324.50,356.24h1.2M440.50,356.24h-1.2M324.50,354.92h1.2M440.50,354.92h-1.2M324.50,353.59h1.2M440.50,353.59h-1.2M324.50,352.27h1.2M440.50,352.27h-1.2M324.50,350.94h1.2M440.50,350.94h-1.2M324.50,349.62h1.2M440.50,349.62h-1.2M324.50,346.97h1.2M440.50,346.97h-1.2M324.50,345.64h1.2M440.50,345.64h-1.2M324.50,344.31h1.2M440.50,344.31h-1.2M324.50,342.99h1.2M440.50,342.99h-1.2M324.50,341.67h1.2M440.50,341.67h-1.2M324.50,340.34h1.2M440.50,340.34h-1.2M324.50,339.02h1.2M440.50,339.02h-1.2M324.50,337.69h1.2M440.50,337.69h-1.2M324.50,336.37h1.2M440.50,336.37h-1.2M324.50,333.72h1.2M440.50,333.72h-1.2M324.50,332.39h1.2M440.50,332.39h-1.2M324.50,331.07h1.2M440.50,331.07h-1.2M324.50,329.74h1.2M440.50,329.74h-1.2M324.50,328.42h1.2M440.50,328.42h-1.2M324.50,327.09h1.2M440.50,327.09h-1.2M324.50,325.76h1.2M440.50,325.76h-1.2M324.50,324.44h1.2M440.50,324.44h-1.2M324.50,323.12h1.2M440.50,323.12h-1.2M324.50,320.47h1.2M440.50,320.47h-1.2M324.50,319.14h1.2M440.50,319.14h-1.2M324.50,317.81h1.2M440.50,317.81h-1.2M324.50,316.49h1.2M440.50,316.49h-1.2M324.50,315.17h1.2M440.50,315.17h-1.2M324.50,313.84h1.2M440.50,313.84h-1.2M324.50,312.52h1.2M440.50,312.52h-1.2M324.50,311.19h1.2M440.50,311.19h-1.2M324.50,309.87h1.2M440.50,309.87h-1.2M324.50,307.22h1.2M440.50,307.22h-1.2M324.50,305.89h1.2M440.50,305.89h-1.2M324.50,304.57h1.2M440.50,304.57h-1.2M324.50,303.24h1.2M440.50,303.24h-1.2M324.50,301.92h1.2M440.50,301.92h-1.2M324.50,300.59h1.2M440.50,300.59h-1.2M324.50,299.26h1.2M440.50,299.26h-1.2M324.50,297.94h1.2M440.50,297.94h-1.2M324.50,296.62h1.2M440.50,296.62h-1.2M324.50,374.79v-1.8M324.50,295.29v1.8M331.75,374.79v-0.9M331.75,295.29v0.9M339.00,374.79v-0.9M339.00,295.29v0.9M346.25,374.79v-0.9M346.25,295.29v0.9M353.50,374.79v-0.9M353.50,295.29v0.9M360.75,374.79v-1.8M360.75,295.29v1.8M368.00,374.79v-0.9M368.00,295.29v0.9M375.25,374.79v-0.9M375.25,295.29v0.9M382.50,374.79v-0.9M382.50,295.29v0.9M389.75,374.79v-0.9M389.75,295.29v0.9M397.00,374.79v-1.8M397.00,295.29v1.8M404.25,374.79v-0.9M404.25,295.29v0.9M411.50,374.79v-0.9M411.50,295.29v0.9M418.75,374.79v-0.9M418.75,295.29v0.9M426.00,374.79v-0.9M426.00,295.29v0.9M433.25,374.79v-1.8M433.25,295.29v1.8M440.50,374.79v-0.9M440.50,295.29v0.9" stroke="#000" stroke-width="0.9" fill="none"/>
<text x="321.65" y="374.99" text-anchor="end" class="t">0</text>
<text x="321.65" y="365.42" text-anchor="end" class="t">1</text>
<text x="321.65" y="352.17" text-anchor="end" class="t">2</text>
<text x="321.65" y="338.92" text-anchor="end" class="t">3</text>
<text x="321.65" y="325.67" text-anchor="end" class="t">4</text>
<text x="321.65" y="312.42" text-anchor="end" class="t">5</text>
<text x="321.65" y="302.09" text-anchor="end" class="t">6</text>
<text x="324.50" y="388.25" text-anchor="middle" class="t">−500</text>
<text x="360.75" y="388.25" text-anchor="middle" class="t">0</text>
<text x="397.00" y="388.25" text-anchor="middle" class="t">500</text>
<text x="433.25" y="388.25" text-anchor="middle" class="t">1000</text>
<text x="434.30" y="305.39" text-anchor="end" class="n">C IV</text>
<clipPath id="c33"><rect x="474.50" y="295.29" width="116.40" height="79.50"/></clipPath>
<line x1="532.80" y1="295.29" x2="532.80" y2="374.79" stroke="#000" stroke-width="0.9"/>
<line x1="525.10" y1="295.29" x2="525.10" y2="374.79" stroke="#000" stroke-width="0.9" stroke-dasharray="1.4 2.55" stroke-dashoffset="1.25"/>
<polyline clip-path="url(#c33)" fill="none" stroke="#000" stroke-width="1.25" stroke-linejoin="round" points="474.50,365.25 475.00,357.30 475.38,363.16 475.75,371.61 476.12,379.06 476.50,384.33 477.00,384.68 477.50,383.27 478.00,381.15 478.50,376.18 479.00,371.61 479.50,371.61 480.00,371.61 480.42,368.51 480.83,364.18 481.25,360.48 481.75,356.74 482.25,355.07 482.75,357.24 483.25,360.48 483.75,362.31 484.25,363.66 484.75,363.86 485.25,365.25 485.75,371.31 486.25,377.97 486.67,380.80 487.08,382.92 487.50,384.33 488.00,384.33 488.50,384.33 489.00,384.33 489.50,384.33 490.00,384.33 490.50,383.62 491.00,382.70 491.50,381.51 492.00,379.95 492.50,377.97 492.92,373.26 493.33,367.49 493.75,362.07 494.17,357.24 494.58,352.77 495.00,349.35 495.50,346.57 496.00,346.17 496.50,348.95 497.00,352.53 497.42,353.47 497.83,354.06 498.25,355.71 498.75,361.47 499.25,368.43 499.62,375.39 500.00,381.15 500.42,383.27 500.83,384.33 501.25,384.33 501.69,383.52 502.12,382.04 502.56,380.12 503.00,377.97 503.42,374.32 503.83,370.14 504.25,366.84 504.67,364.90 505.08,363.84 505.50,363.66 506.00,365.25 506.50,368.43 507.00,373.70 507.50,377.97 507.92,378.45 508.33,377.85 508.75,374.79 509.17,367.55 509.58,358.01 510.00,350.94 510.42,349.11 510.83,349.11 511.25,349.35 511.67,350.12 512.08,351.41 512.50,352.53 513.00,353.06 513.50,353.41 514.00,354.12 514.50,355.30 515.00,356.83 515.50,358.89 515.92,361.72 516.33,365.07 516.75,368.43 517.12,374.59 517.50,377.97 517.88,373.40 518.25,365.25 518.67,359.01 519.08,352.06 519.50,346.17 519.92,342.17 520.33,339.22 520.75,336.63 521.17,334.12 521.58,331.97 522.00,330.27 522.42,328.82 522.83,327.83 523.25,328.04 523.75,332.00 524.25,336.63 524.62,339.35 525.00,339.81 525.42,337.57 525.83,333.92 526.25,330.27 526.67,326.85 527.08,323.44 527.50,320.73 528.00,317.95 528.50,317.55 529.00,321.13 529.50,327.09 529.88,336.03 530.25,342.99 530.62,341.80 531.00,336.63 531.50,329.08 532.00,320.73 532.42,315.84 532.83,311.31 533.25,308.01 533.67,306.42 534.08,306.18 534.50,306.42 535.00,307.71 535.50,311.19 536.00,318.44 536.50,327.09 537.00,335.84 537.50,342.99 537.92,344.93 538.33,345.46 538.75,346.17 539.17,347.76 539.58,349.53 540.00,350.94 540.50,352.00 541.00,352.71 541.50,352.53 541.92,350.65 542.33,347.88 542.75,346.17 543.25,346.87 543.75,349.35 544.12,354.02 544.50,357.30 545.00,354.22 545.50,349.35 545.88,345.18 546.25,342.99 546.67,345.17 547.08,348.94 547.50,350.94 547.92,349.23 548.33,345.76 548.75,342.99 549.25,341.20 549.75,341.40 550.17,343.40 550.58,346.46 551.00,349.35 551.50,352.83 552.00,355.71 552.42,357.01 552.83,357.95 553.25,358.89 553.67,360.01 554.08,361.13 554.50,362.07 555.00,363.26 555.50,363.66 555.92,362.66 556.33,361.13 556.75,360.48 557.25,361.87 557.75,365.25 558.25,371.91 558.75,377.97 559.17,377.97 559.58,377.97 560.00,377.97 560.50,370.32 561.00,362.07 561.50,358.39 562.00,357.30 562.50,358.99 563.00,362.07 563.50,364.95 564.00,368.43 564.50,373.60 565.00,377.97 565.42,377.97 565.83,377.97 566.25,377.97 566.75,372.11 567.25,366.84 567.75,368.13 568.25,371.61 568.62,375.88 569.00,377.97 569.50,372.50 570.00,365.25 570.42,362.13 570.83,359.54 571.25,357.30 571.67,354.94 572.08,352.94 572.50,352.53 572.92,354.83 573.33,358.71 573.75,362.07 574.17,364.31 574.58,366.02 575.00,366.84 575.42,366.31 575.83,364.90 576.25,363.66 576.67,362.89 577.08,362.31 577.50,362.07 578.00,362.36 578.50,363.01 579.00,363.66 579.50,364.46 580.00,365.25 580.42,365.49 580.83,365.72 581.25,366.84 581.67,369.73 582.08,373.49 582.50,376.38 582.92,378.21 583.33,378.21 583.75,377.97 584.12,369.72 584.50,358.89 585.00,348.46 585.50,339.81 586.00,335.04 586.38,337.92 586.75,342.99 587.12,349.45 587.50,355.71 587.92,358.18 588.33,359.95 588.75,362.07 589.17,365.13 589.58,368.55 590.00,371.61 590.50,377.97"/>
<rect x="474.50" y="295.29" width="116.40" height="79.50" fill="none" stroke="#000" stroke-width="1.0"/>
<path d="M474.50,374.79h2.4M590.90,374.79h-2.4M474.50,358.89h2.4M590.90,358.89h-2.4M474.50,342.99h2.4M590.90,342.99h-2.4M474.50,327.09h2.4M590.90,327.09h-2.4M474.50,311.19h2.4M590.90,311.19h-2.4M474.50,295.29h2.4M590.90,295.29h-2.4M474.50,371.61h1.2M590.90,371.61h-1.2M474.50,368.43h1.2M590.90,368.43h-1.2M474.50,365.25h1.2M590.90,365.25h-1.2M474.50,362.07h1.2M590.90,362.07h-1.2M474.50,355.71h1.2M590.90,355.71h-1.2M474.50,352.53h1.2M590.90,352.53h-1.2M474.50,349.35h1.2M590.90,349.35h-1.2M474.50,346.17h1.2M590.90,346.17h-1.2M474.50,339.81h1.2M590.90,339.81h-1.2M474.50,336.63h1.2M590.90,336.63h-1.2M474.50,333.45h1.2M590.90,333.45h-1.2M474.50,330.27h1.2M590.90,330.27h-1.2M474.50,323.91h1.2M590.90,323.91h-1.2M474.50,320.73h1.2M590.90,320.73h-1.2M474.50,317.55h1.2M590.90,317.55h-1.2M474.50,314.37h1.2M590.90,314.37h-1.2M474.50,308.01h1.2M590.90,308.01h-1.2M474.50,304.83h1.2M590.90,304.83h-1.2M474.50,301.65h1.2M590.90,301.65h-1.2M474.50,298.47h1.2M590.90,298.47h-1.2M474.50,374.79v-1.8M474.50,295.29v1.8M477.41,374.79v-0.9M477.41,295.29v0.9M480.32,374.79v-0.9M480.32,295.29v0.9M483.23,374.79v-0.9M483.23,295.29v0.9M486.14,374.79v-0.9M486.14,295.29v0.9M489.05,374.79v-0.9M489.05,295.29v0.9M491.96,374.79v-0.9M491.96,295.29v0.9M494.87,374.79v-0.9M494.87,295.29v0.9M497.78,374.79v-0.9M497.78,295.29v0.9M500.69,374.79v-0.9M500.69,295.29v0.9M503.60,374.79v-1.8M503.60,295.29v1.8M506.51,374.79v-0.9M506.51,295.29v0.9M509.42,374.79v-0.9M509.42,295.29v0.9M512.33,374.79v-0.9M512.33,295.29v0.9M515.24,374.79v-0.9M515.24,295.29v0.9M518.15,374.79v-0.9M518.15,295.29v0.9M521.06,374.79v-0.9M521.06,295.29v0.9M523.97,374.79v-0.9M523.97,295.29v0.9M526.88,374.79v-0.9M526.88,295.29v0.9M529.79,374.79v-0.9M529.79,295.29v0.9M532.70,374.79v-1.8M532.70,295.29v1.8M535.61,374.79v-0.9M535.61,295.29v0.9M538.52,374.79v-0.9M538.52,295.29v0.9M541.43,374.79v-0.9M541.43,295.29v0.9M544.34,374.79v-0.9M544.34,295.29v0.9M547.25,374.79v-0.9M547.25,295.29v0.9M550.16,374.79v-0.9M550.16,295.29v0.9M553.07,374.79v-0.9M553.07,295.29v0.9M555.98,374.79v-0.9M555.98,295.29v0.9M558.89,374.79v-0.9M558.89,295.29v0.9M561.80,374.79v-1.8M561.80,295.29v1.8M564.71,374.79v-0.9M564.71,295.29v0.9M567.62,374.79v-0.9M567.62,295.29v0.9M570.53,374.79v-0.9M570.53,295.29v0.9M573.44,374.79v-0.9M573.44,295.29v0.9M576.35,374.79v-0.9M576.35,295.29v0.9M579.26,374.79v-0.9M579.26,295.29v0.9M582.17,374.79v-0.9M582.17,295.29v0.9M585.08,374.79v-0.9M585.08,295.29v0.9M587.99,374.79v-0.9M587.99,295.29v0.9M590.90,374.79v-1.8M590.90,295.29v1.8" stroke="#000" stroke-width="0.9" fill="none"/>
<text x="471.65" y="374.99" text-anchor="end" class="t">0.0</text>
<text x="471.65" y="362.77" text-anchor="end" class="t">0.5</text>
<text x="471.65" y="346.87" text-anchor="end" class="t">1.0</text>
<text x="471.65" y="330.97" text-anchor="end" class="t">1.5</text>
<text x="471.65" y="315.07" text-anchor="end" class="t">2.0</text>
<text x="471.65" y="302.09" text-anchor="end" class="t">2.5</text>
<text x="474.50" y="388.25" text-anchor="middle" class="t">−200</text>
<text x="503.60" y="388.25" text-anchor="middle" class="t">−100</text>
<text x="532.70" y="388.25" text-anchor="middle" class="t">0</text>
<text x="561.80" y="388.25" text-anchor="middle" class="t">100</text>
<text x="590.90" y="388.25" text-anchor="middle" class="t">200</text>
<text x="480.30" y="305.39" class="n">CV Cha</text>
<text x="588.60" y="305.39" text-anchor="end" class="n">He II</text>
<clipPath id="c40"><rect x="24.00" y="392.72" width="116.00" height="79.50"/></clipPath>
<line x1="36.10" y1="392.72" x2="36.10" y2="472.22" stroke="#000" stroke-width="0.9" stroke-dasharray="5.9 5.45" stroke-dashoffset="5.95"/>
<line x1="41.40" y1="392.72" x2="41.40" y2="472.22" stroke="#000" stroke-width="0.9" stroke-dasharray="5.9 5.45" stroke-dashoffset="5.95"/>
<line x1="88.00" y1="392.72" x2="88.00" y2="472.22" stroke="#000" stroke-width="0.9" stroke-dasharray="5.9 5.45" stroke-dashoffset="5.95"/>
<line x1="56.20" y1="392.72" x2="56.20" y2="472.22" stroke="#000" stroke-width="0.9"/>
<line x1="118.60" y1="392.72" x2="118.60" y2="472.22" stroke="#000" stroke-width="0.9"/>
<line x1="124.30" y1="392.72" x2="124.30" y2="472.22" stroke="#000" stroke-width="0.9" stroke-dasharray="1.4 2.55" stroke-dashoffset="1.25"/>
<line x1="126.30" y1="392.72" x2="126.30" y2="472.22" stroke="#000" stroke-width="0.9" stroke-dasharray="1.4 2.55" stroke-dashoffset="1.25"/>
<polyline clip-path="url(#c40)" fill="none" stroke="#000" stroke-width="1.25" stroke-linejoin="round" points="24.00,460.98 24.50,456.86 25.00,463.26 25.50,460.43 26.00,464.78 26.50,461.24 27.00,456.51 27.50,457.89 28.00,457.51 28.44,461.27 28.88,466.23 29.31,461.03 29.75,474.87 30.17,468.17 30.58,457.82 31.00,462.35 31.50,455.52 32.00,449.32 32.50,447.20 33.00,440.86 33.37,436.48 33.73,434.36 34.10,435.88 34.47,429.51 34.83,438.20 35.20,440.18 35.55,442.60 35.90,451.01 36.25,447.21 36.73,449.68 37.20,429.67 37.57,425.32 37.93,421.47 38.30,411.55 38.70,409.75 39.10,404.99 39.50,412.12 39.90,419.20 40.25,411.32 40.60,421.94 40.97,419.76 41.33,417.21 41.70,423.89 42.05,432.05 42.40,432.77 42.75,437.45 43.17,437.83 43.58,443.24 44.00,445.40 44.50,445.48 45.00,446.51 45.50,445.91 46.00,446.16 46.50,436.39 47.00,440.75 47.50,437.34 48.00,444.68 48.50,452.50 49.00,449.88 49.50,448.75 50.00,453.83 50.50,443.11 51.00,437.65 51.50,440.79 52.00,449.52 52.50,439.58 53.00,448.57 53.50,443.07 54.00,436.39 54.50,433.88 54.92,428.58 55.33,428.22 55.75,421.18 56.12,430.34 56.50,434.40 57.00,446.12 57.50,448.06 58.00,443.82 58.50,453.53 59.00,449.62 59.50,454.31 60.00,448.82 60.50,449.10 61.00,452.75 61.50,448.06 62.00,450.69 62.50,457.88 63.00,445.24 63.50,450.38 64.00,457.59 64.50,453.98 65.00,451.39 65.50,457.17 66.00,457.73 66.50,459.02 67.00,463.23 67.50,463.00 68.00,460.05 68.50,460.36 69.00,462.20 69.50,461.86 70.00,462.68 70.50,461.84 71.00,464.33 71.50,469.64 72.00,467.19 72.50,466.54 73.00,474.18 73.50,473.16 74.00,470.29 74.50,468.33 75.00,469.49 75.50,465.88 76.00,475.73 76.50,472.94 77.00,464.14 77.50,467.90 78.00,471.19 78.50,468.06 79.00,468.96 79.50,468.67 80.00,469.01 80.50,471.82 81.00,470.27 81.50,466.44 82.00,471.95 82.50,474.70 83.00,471.23 83.50,476.62 84.00,476.11 84.50,464.47 85.00,463.16 85.50,469.00 86.00,459.94 86.50,454.74 87.00,446.83 87.30,447.88 87.60,439.92 88.05,449.45 88.50,450.90 88.90,453.27 89.30,459.26 89.70,467.34 90.10,463.51 90.50,465.40 91.00,469.96 91.50,471.89 92.00,469.03 92.50,461.79 93.00,464.65 93.47,464.95 93.93,467.54 94.40,460.07 94.87,458.34 95.33,457.83 95.80,459.49 96.20,457.54 96.60,461.86 97.00,467.69 97.50,463.58 98.00,465.09 98.50,460.17 99.00,466.08 99.50,469.97 100.00,460.94 100.50,463.27 101.00,463.07 101.50,463.39 102.00,462.75 102.50,458.67 103.00,457.06 103.50,459.58 104.00,457.99 104.47,464.71 104.94,464.08 105.41,462.74 105.88,458.90 106.34,463.49 106.81,462.99 107.28,455.76 107.75,453.50 108.19,459.19 108.62,448.02 109.06,448.46 109.50,453.72 110.00,449.22 110.50,443.50 111.00,448.19 111.50,452.08 112.00,455.14 112.50,452.78 113.00,462.75 113.50,461.73 113.95,465.35 114.40,466.51 114.85,458.14 115.30,460.24 115.75,467.41 116.20,467.07 116.65,466.24 117.10,468.39 117.55,465.29 118.00,468.78 118.50,479.42 119.00,477.40 119.50,470.37 120.00,474.18 120.50,466.32 121.00,466.37 121.50,463.06 122.00,457.99 122.50,462.55 123.00,467.46 123.50,463.21 124.00,460.59 124.50,464.04 125.00,464.21 125.50,454.67 126.00,464.92 126.50,460.00 127.00,458.42 127.50,463.50 128.00,465.69 128.50,463.66 129.00,459.54 129.50,463.53 130.00,459.89 130.50,468.63 131.00,460.22 131.50,465.61 132.00,466.63 132.50,464.95 133.00,465.98 133.50,460.77 134.00,462.89 134.50,464.55 135.00,457.81 135.50,461.29 136.00,462.41 136.50,462.27 137.00,465.78 137.50,462.95 138.00,462.34 138.50,460.08 139.00,461.37 139.50,462.17 140.00,458.79"/>
<rect x="24.00" y="392.72" width="116.00" height="79.50" fill="none" stroke="#000" stroke-width="1.0"/>
<path d="M24.00,472.22h2.4M140.00,472.22h-2.4M24.00,458.97h2.4M140.00,458.97h-2.4M24.00,445.72h2.4M140.00,445.72h-2.4M24.00,432.47h2.4M140.00,432.47h-2.4M24.00,419.22h2.4M140.00,419.22h-2.4M24.00,405.97h2.4M140.00,405.97h-2.4M24.00,392.72h2.4M140.00,392.72h-2.4M24.00,469.57h1.2M140.00,469.57h-1.2M24.00,466.92h1.2M140.00,466.92h-1.2M24.00,464.27h1.2M140.00,464.27h-1.2M24.00,461.62h1.2M140.00,461.62h-1.2M24.00,456.32h1.2M140.00,456.32h-1.2M24.00,453.67h1.2M140.00,453.67h-1.2M24.00,451.02h1.2M140.00,451.02h-1.2M24.00,448.37h1.2M140.00,448.37h-1.2M24.00,443.07h1.2M140.00,443.07h-1.2M24.00,440.42h1.2M140.00,440.42h-1.2M24.00,437.77h1.2M140.00,437.77h-1.2M24.00,435.12h1.2M140.00,435.12h-1.2M24.00,429.82h1.2M140.00,429.82h-1.2M24.00,427.17h1.2M140.00,427.17h-1.2M24.00,424.52h1.2M140.00,424.52h-1.2M24.00,421.87h1.2M140.00,421.87h-1.2M24.00,416.57h1.2M140.00,416.57h-1.2M24.00,413.92h1.2M140.00,413.92h-1.2M24.00,411.27h1.2M140.00,411.27h-1.2M24.00,408.62h1.2M140.00,408.62h-1.2M24.00,403.32h1.2M140.00,403.32h-1.2M24.00,400.67h1.2M140.00,400.67h-1.2M24.00,398.02h1.2M140.00,398.02h-1.2M24.00,395.37h1.2M140.00,395.37h-1.2M24.00,472.22v-1.8M24.00,392.72v1.8M30.44,472.22v-0.9M30.44,392.72v0.9M36.89,472.22v-0.9M36.89,392.72v0.9M43.33,472.22v-0.9M43.33,392.72v0.9M49.78,472.22v-0.9M49.78,392.72v0.9M56.22,472.22v-1.8M56.22,392.72v1.8M62.67,472.22v-0.9M62.67,392.72v0.9M69.11,472.22v-0.9M69.11,392.72v0.9M75.56,472.22v-0.9M75.56,392.72v0.9M82.00,472.22v-0.9M82.00,392.72v0.9M88.44,472.22v-1.8M88.44,392.72v1.8M94.89,472.22v-0.9M94.89,392.72v0.9M101.33,472.22v-0.9M101.33,392.72v0.9M107.78,472.22v-0.9M107.78,392.72v0.9M114.22,472.22v-0.9M114.22,392.72v0.9M120.67,472.22v-1.8M120.67,392.72v1.8M127.11,472.22v-0.9M127.11,392.72v0.9M133.56,472.22v-0.9M133.56,392.72v0.9M140.00,472.22v-0.9M140.00,392.72v0.9" stroke="#000" stroke-width="0.9" fill="none"/>
<text x="21.15" y="472.42" text-anchor="end" class="t">0.00</text>
<text x="21.15" y="462.85" text-anchor="end" class="t">0.05</text>
<text x="21.15" y="449.60" text-anchor="end" class="t">0.10</text>
<text x="21.15" y="436.35" text-anchor="end" class="t">0.15</text>
<text x="21.15" y="423.10" text-anchor="end" class="t">0.20</text>
<text x="21.15" y="409.85" text-anchor="end" class="t">0.25</text>
<text x="21.15" y="399.52" text-anchor="end" class="t">0.30</text>
<text x="24.00" y="485.68" text-anchor="middle" class="t">−500</text>
<text x="56.22" y="485.68" text-anchor="middle" class="t">0</text>
<text x="88.44" y="485.68" text-anchor="middle" class="t">500</text>
<text x="120.67" y="485.68" text-anchor="middle" class="t">1000</text>
<text x="119.20" y="402.82" class="n">N V</text>
<clipPath id="c41"><rect x="174.50" y="392.72" width="116.00" height="79.50"/></clipPath>
<line x1="191.00" y1="392.72" x2="191.00" y2="472.22" stroke="#000" stroke-width="0.9" stroke-dasharray="1.4 2.55" stroke-dashoffset="1.25"/>
<line x1="251.40" y1="392.72" x2="251.40" y2="472.22" stroke="#000" stroke-width="0.9" stroke-dasharray="1.4 2.55" stroke-dashoffset="1.25"/>
<line x1="199.80" y1="392.72" x2="199.80" y2="472.22" stroke="#000" stroke-width="0.9"/>
<line x1="263.00" y1="392.72" x2="263.00" y2="472.22" stroke="#000" stroke-width="0.9"/>
<line x1="201.50" y1="392.72" x2="201.50" y2="472.22" stroke="#000" stroke-width="0.9" stroke-dasharray="5.9 5.45" stroke-dashoffset="5.95"/>
<line x1="235.60" y1="392.72" x2="235.60" y2="472.22" stroke="#000" stroke-width="0.9" stroke-dasharray="5.9 5.45" stroke-dashoffset="5.95"/>
<line x1="261.50" y1="392.72" x2="261.50" y2="472.22" stroke="#000" stroke-width="0.9" stroke-dasharray="5.9 5.45" stroke-dashoffset="5.95"/>
<polyline clip-path="url(#c41)" fill="none" stroke="#000" stroke-width="1.25" stroke-linejoin="round" points="174.50,469.55 175.00,469.20 175.50,469.24 176.00,469.87 176.50,468.43 177.00,469.29 177.50,468.99 178.00,469.64 178.50,467.04 179.00,469.47 179.50,467.90 180.00,468.13 180.50,468.76 181.00,467.76 181.50,468.54 182.00,469.29 182.50,468.66 183.00,468.27 183.50,467.48 184.00,468.01 184.50,468.09 185.00,467.79 185.50,468.39 186.00,468.81 186.50,468.36 187.00,466.88 187.50,467.08 188.00,468.13 188.50,468.80 189.00,469.19 189.50,467.71 190.00,467.07 190.50,465.12 191.00,464.50 191.50,464.89 192.00,463.73 192.50,463.28 193.00,465.78 193.50,462.57 194.00,459.56 194.50,460.28 195.00,457.21 195.50,458.18 196.00,455.65 196.50,453.16 197.00,451.51 197.42,451.52 197.83,444.98 198.25,445.59 198.75,434.32 199.25,427.63 199.62,423.29 200.00,416.03 200.38,408.78 200.75,415.75 201.12,426.83 201.50,433.78 202.00,439.02 202.50,440.86 202.92,439.04 203.33,440.64 203.75,443.81 204.17,447.75 204.58,447.62 205.00,445.68 205.50,455.10 206.00,451.83 206.50,453.52 207.00,456.96 207.44,453.99 207.88,461.11 208.31,460.72 208.75,462.25 209.25,460.55 209.75,461.01 210.25,463.98 210.75,466.72 211.25,465.06 211.72,464.61 212.19,468.71 212.66,467.52 213.12,467.61 213.59,467.63 214.06,467.92 214.53,466.75 215.00,468.22 215.50,468.48 216.00,467.66 216.50,467.22 217.00,468.81 217.50,469.25 218.00,466.84 218.50,465.28 219.00,465.33 219.50,467.18 220.00,466.60 220.50,465.61 221.00,464.51 221.50,464.87 222.00,470.49 222.50,468.78 223.00,468.80 223.50,468.52 224.00,468.39 224.50,467.70 225.00,468.94 225.50,468.94 226.00,468.77 226.50,470.07 227.00,466.54 227.50,469.25 227.97,469.41 228.44,468.74 228.91,466.64 229.38,469.66 229.84,467.28 230.31,468.93 230.78,468.82 231.25,466.90 231.69,469.22 232.12,466.72 232.56,466.43 233.00,464.17 233.42,458.61 233.83,453.54 234.25,451.25 234.62,432.13 235.00,425.75 235.38,402.50 235.75,394.11 236.12,400.94 236.50,421.16 236.88,434.89 237.25,448.23 237.75,459.54 238.25,464.64 238.69,462.68 239.12,464.04 239.56,465.37 240.00,466.00 240.47,466.48 240.94,467.82 241.41,466.83 241.88,467.14 242.34,466.68 242.81,467.04 243.28,465.51 243.75,464.16 244.22,462.38 244.69,463.54 245.16,463.17 245.62,461.84 246.09,462.53 246.56,461.59 247.03,460.79 247.50,462.06 247.97,461.14 248.44,461.40 248.91,464.28 249.38,461.18 249.84,460.91 250.31,460.41 250.78,460.29 251.25,460.74 251.72,460.63 252.19,458.21 252.66,458.76 253.12,460.10 253.59,451.34 254.06,454.32 254.53,456.82 255.00,456.12 255.50,452.54 256.00,451.84 256.50,448.10 257.00,448.67 257.50,448.16 257.94,443.99 258.38,445.49 258.81,435.42 259.25,429.48 259.67,420.48 260.08,414.00 260.50,413.82 261.00,392.96 261.50,389.16 261.88,403.25 262.25,427.19 262.62,434.44 263.00,446.09 263.42,439.82 263.83,442.15 264.25,444.64 264.67,439.10 265.08,445.67 265.50,448.59 266.00,450.37 266.50,451.73 267.00,454.40 267.44,450.48 267.88,454.52 268.31,457.77 268.75,460.35 269.25,461.02 269.75,463.11 270.25,460.94 270.75,459.31 271.25,463.59 271.72,461.48 272.19,460.37 272.66,463.13 273.12,465.28 273.59,464.69 274.06,465.75 274.53,465.22 275.00,467.46 275.50,465.03 276.00,467.03 276.50,466.87 277.00,468.49 277.50,466.10 278.00,467.33 278.50,465.41 279.00,465.94 279.50,467.76 280.00,463.28 280.50,464.64 281.00,465.96 281.50,467.30 282.00,469.03 282.50,466.10 283.00,465.22 283.50,465.42 284.00,468.60 284.50,468.06 285.00,468.90 285.50,466.98 286.00,469.77 286.50,467.46 287.00,468.11 287.50,466.62 288.00,467.46 288.50,466.35 289.00,468.06 289.50,467.70 290.00,469.15 290.50,468.98"/>
<rect x="174.50" y="392.72" width="116.00" height="79.50" fill="none" stroke="#000" stroke-width="1.0"/>
<path d="M174.50,472.22h2.4M290.50,472.22h-2.4M174.50,456.32h2.4M290.50,456.32h-2.4M174.50,440.42h2.4M290.50,440.42h-2.4M174.50,424.52h2.4M290.50,424.52h-2.4M174.50,408.62h2.4M290.50,408.62h-2.4M174.50,392.72h2.4M290.50,392.72h-2.4M174.50,468.25h1.2M290.50,468.25h-1.2M174.50,464.27h1.2M290.50,464.27h-1.2M174.50,460.30h1.2M290.50,460.30h-1.2M174.50,452.35h1.2M290.50,452.35h-1.2M174.50,448.37h1.2M290.50,448.37h-1.2M174.50,444.40h1.2M290.50,444.40h-1.2M174.50,436.45h1.2M290.50,436.45h-1.2M174.50,432.47h1.2M290.50,432.47h-1.2M174.50,428.50h1.2M290.50,428.50h-1.2M174.50,420.55h1.2M290.50,420.55h-1.2M174.50,416.57h1.2M290.50,416.57h-1.2M174.50,412.60h1.2M290.50,412.60h-1.2M174.50,404.65h1.2M290.50,404.65h-1.2M174.50,400.67h1.2M290.50,400.67h-1.2M174.50,396.70h1.2M290.50,396.70h-1.2M174.50,472.22v-0.9M174.50,392.72v0.9M177.72,472.22v-0.9M177.72,392.72v0.9M180.94,472.22v-0.9M180.94,392.72v0.9M184.17,472.22v-0.9M184.17,392.72v0.9M187.39,472.22v-0.9M187.39,392.72v0.9M190.61,472.22v-0.9M190.61,392.72v0.9M193.83,472.22v-0.9M193.83,392.72v0.9M197.06,472.22v-0.9M197.06,392.72v0.9M200.28,472.22v-1.8M200.28,392.72v1.8M203.50,472.22v-0.9M203.50,392.72v0.9M206.72,472.22v-0.9M206.72,392.72v0.9M209.94,472.22v-0.9M209.94,392.72v0.9M213.17,472.22v-0.9M213.17,392.72v0.9M216.39,472.22v-0.9M216.39,392.72v0.9M219.61,472.22v-0.9M219.61,392.72v0.9M222.83,472.22v-0.9M222.83,392.72v0.9M226.06,472.22v-0.9M226.06,392.72v0.9M229.28,472.22v-0.9M229.28,392.72v0.9M232.50,472.22v-1.8M232.50,392.72v1.8M235.72,472.22v-0.9M235.72,392.72v0.9M238.94,472.22v-0.9M238.94,392.72v0.9M242.17,472.22v-0.9M242.17,392.72v0.9M245.39,472.22v-0.9M245.39,392.72v0.9M248.61,472.22v-0.9M248.61,392.72v0.9M251.83,472.22v-0.9M251.83,392.72v0.9M255.06,472.22v-0.9M255.06,392.72v0.9M258.28,472.22v-0.9M258.28,392.72v0.9M261.50,472.22v-0.9M261.50,392.72v0.9M264.72,472.22v-1.8M264.72,392.72v1.8M267.94,472.22v-0.9M267.94,392.72v0.9M271.17,472.22v-0.9M271.17,392.72v0.9M274.39,472.22v-0.9M274.39,392.72v0.9M277.61,472.22v-0.9M277.61,392.72v0.9M280.83,472.22v-0.9M280.83,392.72v0.9M284.06,472.22v-0.9M284.06,392.72v0.9M287.28,472.22v-0.9M287.28,392.72v0.9M290.50,472.22v-0.9M290.50,392.72v0.9" stroke="#000" stroke-width="0.9" fill="none"/>
<text x="171.65" y="472.42" text-anchor="end" class="t">0.0</text>
<text x="171.65" y="460.20" text-anchor="end" class="t">0.2</text>
<text x="171.65" y="444.30" text-anchor="end" class="t">0.4</text>
<text x="171.65" y="428.40" text-anchor="end" class="t">0.6</text>
<text x="171.65" y="412.50" text-anchor="end" class="t">0.8</text>
<text x="171.65" y="399.52" text-anchor="end" class="t">1.0</text>
<text x="200.28" y="485.68" text-anchor="middle" class="t">0</text>
<text x="232.50" y="485.68" text-anchor="middle" class="t">1000</text>
<text x="264.72" y="485.68" text-anchor="middle" class="t">2000</text>
<text x="286.90" y="402.82" text-anchor="end" class="n">Si IV</text>
<clipPath id="c42"><rect x="324.50" y="392.72" width="116.00" height="79.50"/></clipPath>
<line x1="360.70" y1="392.72" x2="360.70" y2="472.22" stroke="#000" stroke-width="0.9"/>
<line x1="396.90" y1="392.72" x2="396.90" y2="472.22" stroke="#000" stroke-width="0.9"/>
<line x1="348.50" y1="392.72" x2="348.50" y2="472.22" stroke="#000" stroke-width="0.9" stroke-dasharray="5.9 5.45" stroke-dashoffset="5.95"/>
<polyline clip-path="url(#c42)" fill="none" stroke="#000" stroke-width="1.25" stroke-linejoin="round" points="324.50,469.18 324.97,469.74 325.44,468.77 325.92,468.98 326.39,470.50 326.86,470.14 327.33,468.33 327.81,469.51 328.28,468.91 328.75,468.34 329.22,470.60 329.69,470.49 330.16,468.41 330.62,470.33 331.09,469.93 331.56,469.20 332.03,468.47 332.50,467.64 332.97,468.99 333.44,467.32 333.91,467.49 334.38,468.27 334.84,469.33 335.31,465.30 335.78,467.80 336.25,467.38 336.75,466.55 337.25,467.17 337.75,463.59 338.25,461.40 338.75,461.50 339.25,460.64 339.75,460.35 340.25,458.55 340.75,457.11 341.19,454.41 341.62,452.51 342.06,449.21 342.50,449.67 343.00,447.49 343.50,445.48 344.00,442.41 344.50,438.54 344.94,438.93 345.38,438.02 345.81,435.15 346.25,432.03 346.75,426.03 347.25,418.26 347.75,412.61 348.25,410.42 348.62,416.80 349.00,424.90 349.50,430.30 350.00,433.08 350.42,434.63 350.83,434.05 351.25,433.28 351.67,432.10 352.08,429.56 352.50,428.63 352.92,426.62 353.33,425.85 353.75,419.47 354.17,417.50 354.58,415.81 355.00,413.59 355.42,413.43 355.83,408.28 356.25,409.09 356.67,410.29 357.08,412.94 357.50,415.72 357.92,415.23 358.33,416.02 358.75,419.75 359.17,421.92 359.58,420.66 360.00,425.87 360.50,429.79 361.00,432.07 361.50,434.55 362.00,437.41 362.44,436.19 362.88,433.81 363.31,429.29 363.75,428.86 364.19,430.89 364.62,428.72 365.06,430.76 365.50,431.03 366.00,429.88 366.50,431.59 367.00,429.73 367.50,430.14 367.94,429.50 368.38,429.43 368.81,429.71 369.25,431.50 369.67,431.00 370.08,434.11 370.50,433.67 371.00,432.41 371.50,438.46 372.00,441.23 372.50,443.65 373.00,446.89 373.50,446.98 374.00,448.23 374.50,450.64 375.00,451.27 375.50,452.46 376.00,451.13 376.50,454.06 377.00,456.68 377.50,455.34 378.00,454.67 378.50,456.35 379.00,454.36 379.50,453.78 380.00,453.91 380.50,452.35 381.00,453.65 381.50,456.03 382.00,454.65 382.50,454.60 383.00,455.89 383.50,454.36 384.00,455.83 384.50,458.52 384.94,457.69 385.38,458.32 385.81,459.01 386.25,458.50 386.69,459.23 387.12,459.35 387.56,457.79 388.00,457.75 388.50,461.43 389.00,457.23 389.50,456.42 389.94,454.39 390.38,453.28 390.81,450.50 391.25,450.95 391.69,449.60 392.12,447.33 392.56,445.94 393.00,444.74 393.50,443.58 394.00,440.21 394.50,438.94 394.92,438.70 395.33,437.83 395.75,434.70 396.17,437.37 396.58,439.77 397.00,442.66 397.42,442.05 397.83,445.69 398.25,446.35 398.67,447.43 399.08,449.51 399.50,451.35 400.00,452.27 400.50,449.36 401.00,450.97 401.50,449.64 402.00,451.61 402.50,449.07 403.00,446.76 403.50,446.22 404.00,445.12 404.50,445.09 405.00,446.20 405.50,445.12 406.00,447.69 406.50,447.80 407.00,450.19 407.50,451.07 408.00,452.47 408.50,453.28 409.00,454.20 409.50,456.43 410.00,459.70 410.50,458.47 411.00,458.51 411.50,461.81 412.00,460.42 412.50,460.96 413.00,464.27 413.50,464.87 414.00,463.13 414.50,464.49 415.00,462.94 415.50,466.69 416.00,465.58 416.50,466.07 417.00,466.56 417.50,466.57 418.00,466.86 418.50,468.63 419.00,470.89 419.50,468.53 420.00,468.86 420.50,469.96 421.00,469.94 421.50,470.18 422.00,469.17 422.50,468.55 423.00,468.85 423.50,470.76 424.00,469.06 424.50,470.97 425.00,467.92 425.50,468.45 426.00,467.93 426.50,469.50 427.00,471.94 427.50,469.21 428.00,469.53 428.50,470.31 429.00,470.01 429.50,470.31 430.00,469.81 430.50,470.14 431.00,470.90 431.50,469.06 432.00,469.82 432.50,468.49 433.00,471.53 433.50,470.35 434.00,469.76 434.50,470.13 435.00,470.80 435.50,472.21 436.00,468.96 436.50,470.48 437.00,469.02 437.50,469.88 438.00,471.46 438.50,469.69 439.00,471.28 439.50,470.39 440.00,470.24 440.50,468.84"/>
<rect x="324.50" y="392.72" width="116.00" height="79.50" fill="none" stroke="#000" stroke-width="1.0"/>
<path d="M324.50,472.22h2.4M440.50,472.22h-2.4M324.50,452.35h2.4M440.50,452.35h-2.4M324.50,432.47h2.4M440.50,432.47h-2.4M324.50,412.60h2.4M440.50,412.60h-2.4M324.50,392.72h2.4M440.50,392.72h-2.4M324.50,468.25h1.2M440.50,468.25h-1.2M324.50,464.27h1.2M440.50,464.27h-1.2M324.50,460.30h1.2M440.50,460.30h-1.2M324.50,456.32h1.2M440.50,456.32h-1.2M324.50,448.37h1.2M440.50,448.37h-1.2M324.50,444.40h1.2M440.50,444.40h-1.2M324.50,440.42h1.2M440.50,440.42h-1.2M324.50,436.45h1.2M440.50,436.45h-1.2M324.50,428.50h1.2M440.50,428.50h-1.2M324.50,424.52h1.2M440.50,424.52h-1.2M324.50,420.55h1.2M440.50,420.55h-1.2M324.50,416.57h1.2M440.50,416.57h-1.2M324.50,408.62h1.2M440.50,408.62h-1.2M324.50,404.65h1.2M440.50,404.65h-1.2M324.50,400.67h1.2M440.50,400.67h-1.2M324.50,396.70h1.2M440.50,396.70h-1.2M324.50,472.22v-1.8M324.50,392.72v1.8M331.75,472.22v-0.9M331.75,392.72v0.9M339.00,472.22v-0.9M339.00,392.72v0.9M346.25,472.22v-0.9M346.25,392.72v0.9M353.50,472.22v-0.9M353.50,392.72v0.9M360.75,472.22v-1.8M360.75,392.72v1.8M368.00,472.22v-0.9M368.00,392.72v0.9M375.25,472.22v-0.9M375.25,392.72v0.9M382.50,472.22v-0.9M382.50,392.72v0.9M389.75,472.22v-0.9M389.75,392.72v0.9M397.00,472.22v-1.8M397.00,392.72v1.8M404.25,472.22v-0.9M404.25,392.72v0.9M411.50,472.22v-0.9M411.50,392.72v0.9M418.75,472.22v-0.9M418.75,392.72v0.9M426.00,472.22v-0.9M426.00,392.72v0.9M433.25,472.22v-1.8M433.25,392.72v1.8M440.50,472.22v-0.9M440.50,392.72v0.9" stroke="#000" stroke-width="0.9" fill="none"/>
<text x="321.65" y="472.42" text-anchor="end" class="t">0.0</text>
<text x="321.65" y="456.23" text-anchor="end" class="t">0.5</text>
<text x="321.65" y="436.35" text-anchor="end" class="t">1.0</text>
<text x="321.65" y="416.48" text-anchor="end" class="t">1.5</text>
<text x="321.65" y="399.52" text-anchor="end" class="t">2.0</text>
<text x="324.50" y="485.68" text-anchor="middle" class="t">−500</text>
<text x="360.75" y="485.68" text-anchor="middle" class="t">0</text>
<text x="397.00" y="485.68" text-anchor="middle" class="t">500</text>
<text x="433.25" y="485.68" text-anchor="middle" class="t">1000</text>
<text x="434.30" y="402.82" text-anchor="end" class="n">C IV</text>
<clipPath id="c43"><rect x="474.50" y="392.72" width="116.40" height="79.50"/></clipPath>
<line x1="532.80" y1="392.72" x2="532.80" y2="472.22" stroke="#000" stroke-width="0.9"/>
<line x1="525.10" y1="392.72" x2="525.10" y2="472.22" stroke="#000" stroke-width="0.9" stroke-dasharray="1.4 2.55" stroke-dashoffset="1.25"/>
<polyline clip-path="url(#c43)" fill="none" stroke="#000" stroke-width="1.25" stroke-linejoin="round" points="474.50,467.65 475.00,467.66 475.50,467.68 476.00,467.69 476.50,467.71 477.00,467.73 477.50,467.76 478.00,467.79 478.50,467.82 479.00,467.85 479.50,467.91 480.00,467.99 480.50,468.10 481.00,468.20 481.50,468.28 482.00,468.30 482.50,468.30 483.00,468.25 483.48,468.12 483.96,467.93 484.43,467.71 484.91,467.45 485.39,467.17 485.87,466.88 486.34,466.59 486.82,466.32 487.30,466.06 487.79,465.80 488.28,465.50 488.77,465.19 489.26,464.88 489.74,464.59 490.23,464.32 490.72,464.10 491.21,463.95 491.70,463.87 492.18,463.87 492.66,463.94 493.13,464.06 493.61,464.22 494.09,464.43 494.57,464.66 495.04,464.92 495.52,465.19 496.00,465.46 496.44,466.12 496.88,466.98 497.32,467.85 497.76,468.53 498.20,468.84 498.66,468.74 499.11,468.40 499.57,467.90 500.03,467.34 500.49,466.79 500.94,466.33 501.40,466.06 501.87,465.98 502.34,466.03 502.81,466.16 503.29,466.33 503.76,466.50 504.23,466.62 504.70,466.66 505.17,466.58 505.63,466.44 506.10,466.26 506.57,466.05 507.03,465.85 507.50,465.66 508.00,465.49 508.50,465.35 509.00,465.19 509.50,464.98 510.00,464.67 510.47,464.37 510.94,464.02 511.41,463.63 511.89,463.21 512.36,462.78 512.83,462.33 513.30,461.89 513.77,461.43 514.24,460.96 514.71,460.47 515.19,459.97 515.66,459.47 516.13,458.98 516.60,458.51 517.03,457.95 517.46,457.49 517.89,456.99 518.32,456.32 518.75,455.33 519.20,453.83 519.65,451.91 520.10,449.87 520.55,448.00 521.00,446.58 521.50,445.75 522.00,445.55 522.50,445.32 523.00,444.40 523.45,442.95 523.90,441.10 524.35,439.00 524.80,436.80 525.25,434.66 525.68,432.46 526.11,430.10 526.54,427.75 526.97,425.57 527.40,423.73 527.84,422.26 528.28,421.07 528.72,420.08 529.16,419.20 529.60,418.36 530.03,417.62 530.46,417.03 530.89,416.50 531.32,415.92 531.75,415.18 532.20,414.12 532.65,412.83 533.10,411.52 533.55,410.44 534.00,409.81 534.42,409.79 534.84,410.20 535.26,410.85 535.68,411.52 536.10,412.00 536.53,412.31 536.96,412.58 537.39,412.80 537.82,412.94 538.25,412.99 538.60,412.34 538.95,411.85 539.30,412.00 539.74,413.64 540.18,416.12 540.62,418.94 541.06,421.63 541.50,423.73 541.94,425.10 542.38,426.09 542.82,426.84 543.26,427.52 543.70,428.30 544.12,429.12 544.54,429.88 544.96,430.65 545.38,431.49 545.80,432.47 546.24,433.61 546.68,434.87 547.12,436.22 547.56,437.62 548.00,439.03 548.44,440.56 548.88,442.24 549.32,443.90 549.76,445.40 550.20,446.58 550.62,447.28 551.04,447.58 551.46,447.76 551.88,448.07 552.30,448.77 552.77,449.61 553.24,450.69 553.71,451.91 554.19,453.18 554.66,454.40 555.13,455.48 555.60,456.32 556.06,456.91 556.51,457.34 556.97,457.63 557.43,457.85 557.89,458.04 558.34,458.24 558.80,458.51 559.27,458.82 559.74,459.13 560.21,459.44 560.69,459.76 561.16,460.07 561.63,460.38 562.10,460.69 562.56,461.02 563.01,461.35 563.47,461.69 563.93,462.03 564.39,462.34 564.84,462.63 565.30,462.88 565.79,463.03 566.28,463.16 566.77,463.25 567.26,463.34 567.74,463.41 568.23,463.50 568.72,463.59 569.21,463.72 569.70,463.87 570.18,464.07 570.66,464.31 571.13,464.57 571.61,464.85 572.09,465.13 572.57,465.40 573.04,465.66 573.52,465.88 574.00,466.06 574.48,466.19 574.96,466.29 575.43,466.36 575.91,466.41 576.39,466.45 576.87,466.49 577.34,466.53 577.82,466.58 578.30,466.66 578.79,466.75 579.28,466.85 579.77,466.95 580.26,467.06 580.74,467.17 581.23,467.29 581.72,467.41 582.21,467.53 582.70,467.65 583.18,467.77 583.66,467.90 584.13,468.04 584.61,468.18 585.09,468.31 585.57,468.45 586.04,468.59 586.52,468.72 587.00,468.84 587.50,469.00 588.00,469.17 588.50,469.33 589.00,469.49 589.50,469.63 590.00,469.75 590.50,469.84"/>
<rect x="474.50" y="392.72" width="116.40" height="79.50" fill="none" stroke="#000" stroke-width="1.0"/>
<path d="M474.50,472.22h2.4M590.90,472.22h-2.4M474.50,452.35h2.4M590.90,452.35h-2.4M474.50,432.47h2.4M590.90,432.47h-2.4M474.50,412.60h2.4M590.90,412.60h-2.4M474.50,392.72h2.4M590.90,392.72h-2.4M474.50,470.23h1.2M590.90,470.23h-1.2M474.50,468.25h1.2M590.90,468.25h-1.2M474.50,466.26h1.2M590.90,466.26h-1.2M474.50,464.27h1.2M590.90,464.27h-1.2M474.50,462.28h1.2M590.90,462.28h-1.2M474.50,460.30h1.2M590.90,460.30h-1.2M474.50,458.31h1.2M590.90,458.31h-1.2M474.50,456.32h1.2M590.90,456.32h-1.2M474.50,454.33h1.2M590.90,454.33h-1.2M474.50,450.36h1.2M590.90,450.36h-1.2M474.50,448.37h1.2M590.90,448.37h-1.2M474.50,446.38h1.2M590.90,446.38h-1.2M474.50,444.40h1.2M590.90,444.40h-1.2M474.50,442.41h1.2M590.90,442.41h-1.2M474.50,440.42h1.2M590.90,440.42h-1.2M474.50,438.43h1.2M590.90,438.43h-1.2M474.50,436.45h1.2M590.90,436.45h-1.2M474.50,434.46h1.2M590.90,434.46h-1.2M474.50,430.48h1.2M590.90,430.48h-1.2M474.50,428.50h1.2M590.90,428.50h-1.2M474.50,426.51h1.2M590.90,426.51h-1.2M474.50,424.52h1.2M590.90,424.52h-1.2M474.50,422.53h1.2M590.90,422.53h-1.2M474.50,420.55h1.2M590.90,420.55h-1.2M474.50,418.56h1.2M590.90,418.56h-1.2M474.50,416.57h1.2M590.90,416.57h-1.2M474.50,414.58h1.2M590.90,414.58h-1.2M474.50,410.61h1.2M590.90,410.61h-1.2M474.50,408.62h1.2M590.90,408.62h-1.2M474.50,406.63h1.2M590.90,406.63h-1.2M474.50,404.65h1.2M590.90,404.65h-1.2M474.50,402.66h1.2M590.90,402.66h-1.2M474.50,400.67h1.2M590.90,400.67h-1.2M474.50,398.68h1.2M590.90,398.68h-1.2M474.50,396.70h1.2M590.90,396.70h-1.2M474.50,394.71h1.2M590.90,394.71h-1.2M474.50,472.22v-1.8M474.50,392.72v1.8M477.41,472.22v-0.9M477.41,392.72v0.9M480.32,472.22v-0.9M480.32,392.72v0.9M483.23,472.22v-0.9M483.23,392.72v0.9M486.14,472.22v-0.9M486.14,392.72v0.9M489.05,472.22v-0.9M489.05,392.72v0.9M491.96,472.22v-0.9M491.96,392.72v0.9M494.87,472.22v-0.9M494.87,392.72v0.9M497.78,472.22v-0.9M497.78,392.72v0.9M500.69,472.22v-0.9M500.69,392.72v0.9M503.60,472.22v-1.8M503.60,392.72v1.8M506.51,472.22v-0.9M506.51,392.72v0.9M509.42,472.22v-0.9M509.42,392.72v0.9M512.33,472.22v-0.9M512.33,392.72v0.9M515.24,472.22v-0.9M515.24,392.72v0.9M518.15,472.22v-0.9M518.15,392.72v0.9M521.06,472.22v-0.9M521.06,392.72v0.9M523.97,472.22v-0.9M523.97,392.72v0.9M526.88,472.22v-0.9M526.88,392.72v0.9M529.79,472.22v-0.9M529.79,392.72v0.9M532.70,472.22v-1.8M532.70,392.72v1.8M535.61,472.22v-0.9M535.61,392.72v0.9M538.52,472.22v-0.9M538.52,392.72v0.9M541.43,472.22v-0.9M541.43,392.72v0.9M544.34,472.22v-0.9M544.34,392.72v0.9M547.25,472.22v-0.9M547.25,392.72v0.9M550.16,472.22v-0.9M550.16,392.72v0.9M553.07,472.22v-0.9M553.07,392.72v0.9M555.98,472.22v-0.9M555.98,392.72v0.9M558.89,472.22v-0.9M558.89,392.72v0.9M561.80,472.22v-1.8M561.80,392.72v1.8M564.71,472.22v-0.9M564.71,392.72v0.9M567.62,472.22v-0.9M567.62,392.72v0.9M570.53,472.22v-0.9M570.53,392.72v0.9M573.44,472.22v-0.9M573.44,392.72v0.9M576.35,472.22v-0.9M576.35,392.72v0.9M579.26,472.22v-0.9M579.26,392.72v0.9M582.17,472.22v-0.9M582.17,392.72v0.9M585.08,472.22v-0.9M585.08,392.72v0.9M587.99,472.22v-0.9M587.99,392.72v0.9M590.90,472.22v-1.8M590.90,392.72v1.8" stroke="#000" stroke-width="0.9" fill="none"/>
<text x="471.65" y="472.42" text-anchor="end" class="t">0</text>
<text x="471.65" y="456.23" text-anchor="end" class="t">1</text>
<text x="471.65" y="436.35" text-anchor="end" class="t">2</text>
<text x="471.65" y="416.48" text-anchor="end" class="t">3</text>
<text x="471.65" y="399.52" text-anchor="end" class="t">4</text>
<text x="474.50" y="485.68" text-anchor="middle" class="t">−200</text>
<text x="503.60" y="485.68" text-anchor="middle" class="t">−100</text>
<text x="532.70" y="485.68" text-anchor="middle" class="t">0</text>
<text x="561.80" y="485.68" text-anchor="middle" class="t">100</text>
<text x="590.90" y="485.68" text-anchor="middle" class="t">200</text>
<text x="480.30" y="402.82" class="n">DK Tau</text>
<text x="588.60" y="402.82" text-anchor="end" class="n">He II</text>
<clipPath id="c50"><rect x="24.00" y="490.15" width="116.00" height="79.50"/></clipPath>
<line x1="36.10" y1="490.15" x2="36.10" y2="569.65" stroke="#000" stroke-width="0.9" stroke-dasharray="5.9 5.45" stroke-dashoffset="5.95"/>
<line x1="41.40" y1="490.15" x2="41.40" y2="569.65" stroke="#000" stroke-width="0.9" stroke-dasharray="5.9 5.45" stroke-dashoffset="5.95"/>
<line x1="88.00" y1="490.15" x2="88.00" y2="569.65" stroke="#000" stroke-width="0.9" stroke-dasharray="5.9 5.45" stroke-dashoffset="5.95"/>
<line x1="56.20" y1="490.15" x2="56.20" y2="569.65" stroke="#000" stroke-width="0.9"/>
<line x1="118.60" y1="490.15" x2="118.60" y2="569.65" stroke="#000" stroke-width="0.9"/>
<line x1="124.30" y1="490.15" x2="124.30" y2="569.65" stroke="#000" stroke-width="0.9" stroke-dasharray="1.4 2.55" stroke-dashoffset="1.25"/>
<line x1="126.30" y1="490.15" x2="126.30" y2="569.65" stroke="#000" stroke-width="0.9" stroke-dasharray="1.4 2.55" stroke-dashoffset="1.25"/>
<polyline clip-path="url(#c50)" fill="none" stroke="#000" stroke-width="1.25" stroke-linejoin="round" points="24.00,568.40 24.50,568.82 25.00,568.40 25.50,568.86 26.00,568.50 26.50,568.91 27.00,568.14 27.50,568.86 28.00,568.63 28.50,568.65 29.00,568.51 29.50,568.87 30.00,568.43 30.50,567.71 31.00,565.78 31.50,565.18 32.00,563.40 32.50,561.92 33.00,559.36 33.30,555.09 33.60,551.03 34.00,541.44 34.50,515.20 35.00,500.81 35.30,497.68 35.60,495.99 35.90,496.50 36.20,495.51 36.50,497.03 36.80,498.34 37.10,500.16 37.40,502.91 37.90,514.66 38.30,537.96 38.80,544.47 39.20,542.71 39.60,541.67 39.95,540.90 40.30,543.69 40.75,546.12 41.20,550.16 41.63,551.96 42.07,553.25 42.50,553.77 43.00,554.36 43.50,553.62 44.00,554.26 44.50,552.04 45.00,553.36 45.50,552.27 46.00,552.47 46.50,551.87 47.00,551.38 47.50,550.48 48.00,549.25 48.50,549.05 49.00,548.67 49.50,547.69 50.00,547.41 50.50,546.47 51.00,546.19 51.50,545.70 52.00,546.02 52.50,546.36 53.00,543.91 53.50,543.34 54.00,543.05 54.50,541.75 55.00,539.42 55.50,537.39 56.00,537.27 56.50,538.19 57.00,539.16 57.50,540.28 58.00,541.50 58.50,543.13 59.00,543.08 59.50,546.22 60.00,547.95 60.50,548.71 61.00,550.78 61.50,552.04 62.00,554.49 62.50,554.64 63.00,556.97 63.50,556.91 64.00,558.37 64.50,559.58 65.00,560.66 65.50,562.25 66.00,562.67 66.50,563.46 67.00,565.07 67.50,566.83 68.00,566.31 68.50,567.15 69.00,567.96 69.50,567.91 70.00,567.80 70.50,567.07 71.00,567.80 71.50,566.98 72.00,567.59 72.50,566.53 73.00,566.35 73.50,565.78 74.00,566.80 74.50,566.32 75.00,567.58 75.50,567.14 76.00,566.77 76.50,568.05 77.00,568.13 77.50,567.96 78.00,567.13 78.50,567.56 79.00,567.63 79.50,568.00 80.00,568.11 80.50,568.11 81.00,568.80 81.50,568.99 82.00,568.66 82.50,568.96 83.00,568.46 83.50,569.05 84.00,568.25 84.50,568.34 85.00,568.25 85.50,569.01 86.00,567.66 86.50,568.43 86.87,567.10 87.23,566.12 87.60,565.01 87.90,560.81 88.20,558.10 88.55,561.10 88.90,565.17 89.27,567.08 89.63,566.84 90.00,568.26 90.50,568.36 91.00,568.02 91.50,568.06 92.00,567.91 92.50,567.79 93.00,568.12 93.50,568.06 94.00,568.15 94.50,568.29 95.00,567.82 95.50,567.78 96.00,567.91 96.50,567.47 97.00,568.25 97.50,567.81 98.00,567.28 98.50,567.65 99.00,566.55 99.50,567.55 100.00,566.15 100.50,566.20 101.00,565.92 101.50,566.24 102.00,566.00 102.50,565.48 103.00,564.96 103.50,565.22 104.00,565.41 104.50,565.30 105.00,564.80 105.50,565.41 106.00,564.32 106.50,565.04 107.00,564.62 107.50,564.08 108.00,564.28 108.50,564.32 109.00,562.82 109.50,563.52 110.00,564.02 110.50,562.98 111.00,562.43 111.50,562.65 112.00,562.59 112.50,561.81 113.00,561.14 113.50,561.77 114.00,560.81 114.50,560.12 115.00,560.40 115.50,559.68 116.00,560.87 116.50,561.47 117.00,563.23 117.50,564.98 118.00,566.61 118.50,568.30 119.00,567.78 119.50,567.77 120.00,566.36 120.50,566.40 121.00,566.05 121.50,565.15 122.00,564.54 122.50,564.15 123.00,564.38 123.50,563.71 124.00,563.69 124.50,562.78 125.00,562.12 125.50,561.47 126.00,561.33 126.50,562.17 127.00,562.98 127.50,562.58 128.00,563.04 128.50,563.66 129.00,564.73 129.50,564.32 130.00,564.59 130.50,564.70 131.00,566.03 131.50,564.53 132.00,565.28 132.50,565.33 133.00,565.24 133.50,566.27 134.00,567.12 134.50,566.37 135.00,567.39 135.50,566.43 136.00,567.27 136.50,566.90 137.00,567.23 137.50,567.42 138.00,566.96 138.50,567.51 139.00,567.54 139.50,566.71 140.00,568.01"/>
<rect x="24.00" y="490.15" width="116.00" height="79.50" fill="none" stroke="#000" stroke-width="1.0"/>
<path d="M24.00,569.65h2.4M140.00,569.65h-2.4M24.00,553.75h2.4M140.00,553.75h-2.4M24.00,537.85h2.4M140.00,537.85h-2.4M24.00,521.95h2.4M140.00,521.95h-2.4M24.00,506.05h2.4M140.00,506.05h-2.4M24.00,490.15h2.4M140.00,490.15h-2.4M24.00,566.47h1.2M140.00,566.47h-1.2M24.00,563.29h1.2M140.00,563.29h-1.2M24.00,560.11h1.2M140.00,560.11h-1.2M24.00,556.93h1.2M140.00,556.93h-1.2M24.00,550.57h1.2M140.00,550.57h-1.2M24.00,547.39h1.2M140.00,547.39h-1.2M24.00,544.21h1.2M140.00,544.21h-1.2M24.00,541.03h1.2M140.00,541.03h-1.2M24.00,534.67h1.2M140.00,534.67h-1.2M24.00,531.49h1.2M140.00,531.49h-1.2M24.00,528.31h1.2M140.00,528.31h-1.2M24.00,525.13h1.2M140.00,525.13h-1.2M24.00,518.77h1.2M140.00,518.77h-1.2M24.00,515.59h1.2M140.00,515.59h-1.2M24.00,512.41h1.2M140.00,512.41h-1.2M24.00,509.23h1.2M140.00,509.23h-1.2M24.00,502.87h1.2M140.00,502.87h-1.2M24.00,499.69h1.2M140.00,499.69h-1.2M24.00,496.51h1.2M140.00,496.51h-1.2M24.00,493.33h1.2M140.00,493.33h-1.2M24.00,569.65v-1.8M24.00,490.15v1.8M30.44,569.65v-0.9M30.44,490.15v0.9M36.89,569.65v-0.9M36.89,490.15v0.9M43.33,569.65v-0.9M43.33,490.15v0.9M49.78,569.65v-0.9M49.78,490.15v0.9M56.22,569.65v-1.8M56.22,490.15v1.8M62.67,569.65v-0.9M62.67,490.15v0.9M69.11,569.65v-0.9M69.11,490.15v0.9M75.56,569.65v-0.9M75.56,490.15v0.9M82.00,569.65v-0.9M82.00,490.15v0.9M88.44,569.65v-1.8M88.44,490.15v1.8M94.89,569.65v-0.9M94.89,490.15v0.9M101.33,569.65v-0.9M101.33,490.15v0.9M107.78,569.65v-0.9M107.78,490.15v0.9M114.22,569.65v-0.9M114.22,490.15v0.9M120.67,569.65v-1.8M120.67,490.15v1.8M127.11,569.65v-0.9M127.11,490.15v0.9M133.56,569.65v-0.9M133.56,490.15v0.9M140.00,569.65v-0.9M140.00,490.15v0.9" stroke="#000" stroke-width="0.9" fill="none"/>
<text x="21.15" y="569.85" text-anchor="end" class="t">0.0</text>
<text x="21.15" y="557.63" text-anchor="end" class="t">0.5</text>
<text x="21.15" y="541.73" text-anchor="end" class="t">1.0</text>
<text x="21.15" y="525.83" text-anchor="end" class="t">1.5</text>
<text x="21.15" y="509.93" text-anchor="end" class="t">2.0</text>
<text x="21.15" y="496.95" text-anchor="end" class="t">2.5</text>
<text x="24.00" y="583.11" text-anchor="middle" class="t">−500</text>
<text x="56.22" y="583.11" text-anchor="middle" class="t">0</text>
<text x="88.44" y="583.11" text-anchor="middle" class="t">500</text>
<text x="120.67" y="583.11" text-anchor="middle" class="t">1000</text>
<text x="119.20" y="500.25" class="n">N V</text>
<clipPath id="c51"><rect x="174.50" y="490.15" width="116.00" height="79.50"/></clipPath>
<line x1="191.00" y1="490.15" x2="191.00" y2="569.65" stroke="#000" stroke-width="0.9" stroke-dasharray="1.4 2.55" stroke-dashoffset="1.25"/>
<line x1="251.40" y1="490.15" x2="251.40" y2="569.65" stroke="#000" stroke-width="0.9" stroke-dasharray="1.4 2.55" stroke-dashoffset="1.25"/>
<line x1="199.80" y1="490.15" x2="199.80" y2="569.65" stroke="#000" stroke-width="0.9"/>
<line x1="263.00" y1="490.15" x2="263.00" y2="569.65" stroke="#000" stroke-width="0.9"/>
<line x1="201.50" y1="490.15" x2="201.50" y2="569.65" stroke="#000" stroke-width="0.9" stroke-dasharray="5.9 5.45" stroke-dashoffset="5.95"/>
<line x1="235.60" y1="490.15" x2="235.60" y2="569.65" stroke="#000" stroke-width="0.9" stroke-dasharray="5.9 5.45" stroke-dashoffset="5.95"/>
<line x1="261.50" y1="490.15" x2="261.50" y2="569.65" stroke="#000" stroke-width="0.9" stroke-dasharray="5.9 5.45" stroke-dashoffset="5.95"/>
<polyline clip-path="url(#c51)" fill="none" stroke="#000" stroke-width="1.25" stroke-linejoin="round" points="174.50,568.59 175.00,568.59 175.50,568.59 176.00,568.59 176.50,568.59 177.00,568.59 177.50,568.59 178.00,568.59 178.50,568.59 179.00,568.59 179.50,568.59 180.00,568.59 180.50,568.59 181.00,568.59 181.50,568.59 182.00,568.59 182.50,568.59 183.00,568.59 183.50,568.59 184.00,568.59 184.50,568.59 185.00,568.59 185.50,568.58 186.00,568.56 186.50,568.55 187.00,568.53 187.50,568.52 188.00,568.50 188.50,568.49 189.00,568.47 189.50,568.45 190.00,568.42 190.50,568.40 191.00,568.37 191.50,568.34 192.00,568.31 192.50,568.28 193.00,568.24 193.50,568.20 194.00,568.16 194.50,568.11 195.00,568.06 195.50,567.77 196.00,567.43 196.50,567.00 197.00,566.47 197.42,565.67 197.83,564.68 198.25,563.29 198.75,560.47 199.25,556.40 199.62,550.50 200.00,543.15 200.38,533.71 200.75,524.60 201.12,517.64 201.50,514.00 202.00,521.95 202.50,543.15 202.88,552.09 203.25,559.05 203.62,562.56 204.00,564.35 204.50,565.37 205.00,566.04 205.50,566.47 206.00,566.47 206.50,566.47 207.00,566.47 207.50,566.47 207.92,565.98 208.33,565.25 208.75,564.35 209.25,562.13 209.75,560.64 210.25,562.06 210.75,564.35 211.17,565.55 211.58,566.69 212.00,567.53 212.44,567.92 212.88,568.14 213.31,568.14 213.75,568.06 214.17,567.88 214.59,567.66 215.01,567.27 215.43,566.57 215.85,565.41 216.35,559.78 216.85,553.75 217.22,549.58 217.60,547.92 217.97,551.20 218.35,556.40 218.72,561.57 219.10,565.94 219.55,567.58 220.00,568.06 220.50,568.16 221.00,568.24 221.50,568.28 222.00,568.31 222.50,568.33 223.00,568.33 223.50,568.32 224.00,568.32 224.50,568.32 225.00,568.33 225.50,568.33 226.00,568.33 226.50,568.33 227.00,568.33 227.50,568.33 228.00,568.33 228.50,568.33 229.00,568.33 229.50,568.33 230.00,568.33 230.46,568.21 230.93,568.09 231.39,567.95 231.86,567.75 232.32,567.46 232.79,567.04 233.25,566.47 233.67,564.72 234.08,562.36 234.50,559.05 234.88,551.13 235.25,543.15 235.62,537.19 236.00,535.20 236.38,542.42 236.75,551.10 237.12,554.11 237.50,554.81 237.88,553.29 238.25,552.16 238.62,555.04 239.00,559.05 239.50,562.51 240.00,565.41 240.42,566.58 240.83,567.30 241.25,567.80 241.72,567.94 242.19,568.03 242.66,568.08 243.12,568.10 243.59,568.10 244.06,568.10 244.53,568.08 245.00,568.06 245.47,568.03 245.94,567.99 246.41,567.93 246.88,567.86 247.34,567.78 247.81,567.70 248.28,567.61 248.75,567.53 249.25,567.36 249.75,567.15 250.25,566.95 250.75,566.80 251.25,566.74 251.75,566.81 252.25,567.00 252.75,567.23 253.25,567.43 253.75,567.53 254.22,567.56 254.69,567.60 255.16,567.61 255.62,567.61 256.09,567.61 256.56,567.50 257.03,567.30 257.50,567.00 257.94,566.32 258.38,565.48 258.81,564.07 259.25,561.70 259.75,554.08 260.25,543.15 260.62,527.58 261.00,511.35 261.50,487.50 262.00,506.05 262.38,527.75 262.75,548.45 263.25,556.07 263.75,559.05 264.17,561.29 264.58,562.94 265.00,564.35 265.50,565.16 266.00,565.90 266.50,566.55 267.00,567.10 267.50,567.53 268.00,567.69 268.50,567.81 269.00,567.90 269.50,567.96 270.00,567.99 270.50,568.01 271.00,568.02 271.50,568.03 272.00,568.04 272.50,568.06 273.00,568.06 273.50,568.06 274.00,568.06 274.50,568.06 275.00,568.06 275.50,568.06 276.00,568.06 276.50,568.06 277.00,568.06 277.50,568.06 278.00,568.06 278.50,568.06 279.00,568.06 279.50,568.06 280.00,568.06 280.50,568.07 281.00,568.08 281.50,568.09 282.00,568.10 282.50,568.11 283.00,568.12 283.50,568.14 284.00,568.15 284.50,568.17 285.00,568.18 285.50,568.20 286.00,568.22 286.50,568.23 287.00,568.25 287.50,568.26 288.00,568.27 288.50,568.29 289.00,568.30 289.50,568.31 290.00,568.32 290.50,568.33"/>
<rect x="174.50" y="490.15" width="116.00" height="79.50" fill="none" stroke="#000" stroke-width="1.0"/>
<path d="M174.50,569.65h2.4M290.50,569.65h-2.4M174.50,543.15h2.4M290.50,543.15h-2.4M174.50,516.65h2.4M290.50,516.65h-2.4M174.50,490.15h2.4M290.50,490.15h-2.4M174.50,564.35h1.2M290.50,564.35h-1.2M174.50,559.05h1.2M290.50,559.05h-1.2M174.50,553.75h1.2M290.50,553.75h-1.2M174.50,548.45h1.2M290.50,548.45h-1.2M174.50,537.85h1.2M290.50,537.85h-1.2M174.50,532.55h1.2M290.50,532.55h-1.2M174.50,527.25h1.2M290.50,527.25h-1.2M174.50,521.95h1.2M290.50,521.95h-1.2M174.50,511.35h1.2M290.50,511.35h-1.2M174.50,506.05h1.2M290.50,506.05h-1.2M174.50,500.75h1.2M290.50,500.75h-1.2M174.50,495.45h1.2M290.50,495.45h-1.2M174.50,569.65v-0.9M174.50,490.15v0.9M177.72,569.65v-0.9M177.72,490.15v0.9M180.94,569.65v-0.9M180.94,490.15v0.9M184.17,569.65v-0.9M184.17,490.15v0.9M187.39,569.65v-0.9M187.39,490.15v0.9M190.61,569.65v-0.9M190.61,490.15v0.9M193.83,569.65v-0.9M193.83,490.15v0.9M197.06,569.65v-0.9M197.06,490.15v0.9M200.28,569.65v-1.8M200.28,490.15v1.8M203.50,569.65v-0.9M203.50,490.15v0.9M206.72,569.65v-0.9M206.72,490.15v0.9M209.94,569.65v-0.9M209.94,490.15v0.9M213.17,569.65v-0.9M213.17,490.15v0.9M216.39,569.65v-0.9M216.39,490.15v0.9M219.61,569.65v-0.9M219.61,490.15v0.9M222.83,569.65v-0.9M222.83,490.15v0.9M226.06,569.65v-0.9M226.06,490.15v0.9M229.28,569.65v-0.9M229.28,490.15v0.9M232.50,569.65v-1.8M232.50,490.15v1.8M235.72,569.65v-0.9M235.72,490.15v0.9M238.94,569.65v-0.9M238.94,490.15v0.9M242.17,569.65v-0.9M242.17,490.15v0.9M245.39,569.65v-0.9M245.39,490.15v0.9M248.61,569.65v-0.9M248.61,490.15v0.9M251.83,569.65v-0.9M251.83,490.15v0.9M255.06,569.65v-0.9M255.06,490.15v0.9M258.28,569.65v-0.9M258.28,490.15v0.9M261.50,569.65v-0.9M261.50,490.15v0.9M264.72,569.65v-1.8M264.72,490.15v1.8M267.94,569.65v-0.9M267.94,490.15v0.9M271.17,569.65v-0.9M271.17,490.15v0.9M274.39,569.65v-0.9M274.39,490.15v0.9M277.61,569.65v-0.9M277.61,490.15v0.9M280.83,569.65v-0.9M280.83,490.15v0.9M284.06,569.65v-0.9M284.06,490.15v0.9M287.28,569.65v-0.9M287.28,490.15v0.9M290.50,569.65v-0.9M290.50,490.15v0.9" stroke="#000" stroke-width="0.9" fill="none"/>
<text x="171.65" y="569.85" text-anchor="end" class="t">0</text>
<text x="171.65" y="547.03" text-anchor="end" class="t">5</text>
<text x="171.65" y="520.53" text-anchor="end" class="t">10</text>
<text x="171.65" y="496.95" text-anchor="end" class="t">15</text>
<text x="200.28" y="583.11" text-anchor="middle" class="t">0</text>
<text x="232.50" y="583.11" text-anchor="middle" class="t">1000</text>
<text x="264.72" y="583.11" text-anchor="middle" class="t">2000</text>
<text x="286.90" y="500.25" text-anchor="end" class="n">Si IV</text>
<clipPath id="c52"><rect x="324.50" y="490.15" width="116.00" height="79.50"/></clipPath>
<line x1="360.70" y1="490.15" x2="360.70" y2="569.65" stroke="#000" stroke-width="0.9"/>
<line x1="396.90" y1="490.15" x2="396.90" y2="569.65" stroke="#000" stroke-width="0.9"/>
<line x1="348.50" y1="490.15" x2="348.50" y2="569.65" stroke="#000" stroke-width="0.9" stroke-dasharray="5.9 5.45" stroke-dashoffset="5.95"/>
<polyline clip-path="url(#c52)" fill="none" stroke="#000" stroke-width="1.25" stroke-linejoin="round" points="324.50,569.05 325.00,569.04 325.50,569.03 326.00,569.02 326.50,569.00 327.00,568.99 327.50,568.97 328.00,568.95 328.50,568.93 329.00,568.91 329.50,568.88 330.00,568.86 330.50,568.83 331.00,568.79 331.50,568.76 332.00,568.73 332.50,568.69 333.00,568.65 333.50,568.61 334.00,568.57 334.50,568.51 335.00,568.46 335.47,568.38 335.94,568.29 336.41,568.20 336.88,568.10 337.34,567.99 337.81,567.88 338.28,567.77 338.75,567.66 339.25,567.49 339.75,567.33 340.25,567.15 340.75,566.93 341.25,566.67 341.75,566.33 342.25,565.95 342.75,565.52 343.25,565.09 343.75,564.68 344.25,564.18 344.75,563.69 345.25,563.19 345.75,562.69 346.19,562.16 346.62,561.61 347.06,561.11 347.50,560.71 348.00,560.40 348.50,560.24 349.00,560.11 349.50,559.98 350.00,559.88 350.50,559.71 351.00,559.52 351.50,559.28 352.00,559.01 352.50,558.72 353.00,558.43 353.50,558.12 354.00,557.77 354.50,557.33 354.94,556.77 355.38,556.14 355.81,555.45 356.25,554.74 356.67,553.89 357.08,552.99 357.50,551.76 357.92,550.07 358.33,548.05 358.75,545.80 359.25,542.20 359.75,537.85 360.12,532.14 360.50,525.93 360.88,519.59 361.25,514.00 361.62,509.90 362.00,508.04 362.38,509.90 362.75,514.00 363.12,519.59 363.50,525.93 364.00,532.01 364.50,537.85 364.92,541.46 365.33,544.84 365.75,547.79 366.17,550.11 366.58,551.98 367.00,553.75 367.44,555.09 367.88,556.36 368.31,557.57 368.75,558.72 369.25,559.81 369.75,560.86 370.25,561.82 370.75,562.69 371.20,563.32 371.65,563.90 372.10,564.43 372.55,564.88 373.00,565.28 373.50,565.65 374.00,565.90 374.50,566.09 375.00,566.27 375.50,566.43 376.00,566.58 376.50,566.71 377.00,566.81 377.50,566.87 378.00,566.89 378.50,566.88 379.00,566.84 379.50,566.77 380.00,566.67 380.50,566.53 381.00,566.35 381.50,566.14 382.00,565.91 382.50,565.68 383.00,565.43 383.50,565.17 384.00,564.89 384.50,564.59 385.00,564.28 385.50,563.95 386.00,563.60 386.50,563.23 387.00,562.86 387.50,562.50 388.00,562.01 388.50,561.49 389.00,561.03 389.50,560.71 390.00,560.71 390.50,560.71 391.00,560.71 391.50,560.71 392.00,560.52 392.50,560.23 393.00,559.71 393.50,558.90 394.00,557.87 394.50,556.73 395.00,555.46 395.50,554.07 396.00,552.76 396.42,551.37 396.83,550.05 397.25,549.38 397.67,549.69 398.08,550.64 398.50,551.76 399.00,553.01 399.50,554.43 400.00,555.74 400.50,556.55 401.00,557.29 401.50,558.00 402.00,558.72 402.50,559.33 403.00,559.96 403.50,560.58 404.00,561.17 404.50,561.70 405.00,562.16 405.50,562.57 406.00,562.94 406.50,563.31 407.00,563.69 407.50,564.03 408.00,564.37 408.50,564.72 409.00,565.06 409.50,565.38 410.00,565.68 410.50,565.95 411.00,566.20 411.50,566.43 412.00,566.65 412.50,566.86 413.00,567.07 413.46,567.23 413.93,567.39 414.39,567.54 414.86,567.68 415.32,567.82 415.79,567.94 416.25,568.06 416.72,568.16 417.19,568.25 417.66,568.33 418.12,568.41 418.59,568.48 419.06,568.54 419.53,568.60 420.00,568.66 420.50,568.69 421.00,568.72 421.50,568.75 422.00,568.77 422.50,568.79 423.00,568.80 423.50,568.82 424.00,568.83 424.50,568.84 425.00,568.86 425.50,568.87 426.00,568.88 426.50,568.89 427.00,568.90 427.50,568.91 428.00,568.92 428.50,568.93 429.00,568.94 429.50,568.94 430.00,568.95 430.50,568.96 431.00,568.98 431.50,568.99 432.00,569.00 432.50,569.01 433.00,569.02 433.50,569.03 434.00,569.04 434.50,569.05 435.00,569.05 435.50,569.05 436.00,569.05 436.50,569.05 437.00,569.05 437.50,569.05 438.00,569.05 438.50,569.05 439.00,569.05 439.50,569.05 440.00,569.05 440.50,569.05"/>
<rect x="324.50" y="490.15" width="116.00" height="79.50" fill="none" stroke="#000" stroke-width="1.0"/>
<path d="M324.50,569.65h2.4M440.50,569.65h-2.4M324.50,549.78h2.4M440.50,549.78h-2.4M324.50,529.90h2.4M440.50,529.90h-2.4M324.50,510.03h2.4M440.50,510.03h-2.4M324.50,490.15h2.4M440.50,490.15h-2.4M324.50,567.66h1.2M440.50,567.66h-1.2M324.50,565.68h1.2M440.50,565.68h-1.2M324.50,563.69h1.2M440.50,563.69h-1.2M324.50,561.70h1.2M440.50,561.70h-1.2M324.50,559.71h1.2M440.50,559.71h-1.2M324.50,557.73h1.2M440.50,557.73h-1.2M324.50,555.74h1.2M440.50,555.74h-1.2M324.50,553.75h1.2M440.50,553.75h-1.2M324.50,551.76h1.2M440.50,551.76h-1.2M324.50,547.79h1.2M440.50,547.79h-1.2M324.50,545.80h1.2M440.50,545.80h-1.2M324.50,543.81h1.2M440.50,543.81h-1.2M324.50,541.83h1.2M440.50,541.83h-1.2M324.50,539.84h1.2M440.50,539.84h-1.2M324.50,537.85h1.2M440.50,537.85h-1.2M324.50,535.86h1.2M440.50,535.86h-1.2M324.50,533.88h1.2M440.50,533.88h-1.2M324.50,531.89h1.2M440.50,531.89h-1.2M324.50,527.91h1.2M440.50,527.91h-1.2M324.50,525.93h1.2M440.50,525.93h-1.2M324.50,523.94h1.2M440.50,523.94h-1.2M324.50,521.95h1.2M440.50,521.95h-1.2M324.50,519.96h1.2M440.50,519.96h-1.2M324.50,517.98h1.2M440.50,517.98h-1.2M324.50,515.99h1.2M440.50,515.99h-1.2M324.50,514.00h1.2M440.50,514.00h-1.2M324.50,512.01h1.2M440.50,512.01h-1.2M324.50,508.04h1.2M440.50,508.04h-1.2M324.50,506.05h1.2M440.50,506.05h-1.2M324.50,504.06h1.2M440.50,504.06h-1.2M324.50,502.08h1.2M440.50,502.08h-1.2M324.50,500.09h1.2M440.50,500.09h-1.2M324.50,498.10h1.2M440.50,498.10h-1.2M324.50,496.11h1.2M440.50,496.11h-1.2M324.50,494.13h1.2M440.50,494.13h-1.2M324.50,492.14h1.2M440.50,492.14h-1.2M324.50,569.65v-1.8M324.50,490.15v1.8M331.75,569.65v-0.9M331.75,490.15v0.9M339.00,569.65v-0.9M339.00,490.15v0.9M346.25,569.65v-0.9M346.25,490.15v0.9M353.50,569.65v-0.9M353.50,490.15v0.9M360.75,569.65v-1.8M360.75,490.15v1.8M368.00,569.65v-0.9M368.00,490.15v0.9M375.25,569.65v-0.9M375.25,490.15v0.9M382.50,569.65v-0.9M382.50,490.15v0.9M389.75,569.65v-0.9M389.75,490.15v0.9M397.00,569.65v-1.8M397.00,490.15v1.8M404.25,569.65v-0.9M404.25,490.15v0.9M411.50,569.65v-0.9M411.50,490.15v0.9M418.75,569.65v-0.9M418.75,490.15v0.9M426.00,569.65v-0.9M426.00,490.15v0.9M433.25,569.65v-1.8M433.25,490.15v1.8M440.50,569.65v-0.9M440.50,490.15v0.9" stroke="#000" stroke-width="0.9" fill="none"/>
<text x="321.65" y="569.85" text-anchor="end" class="t">0</text>
<text x="321.65" y="553.66" text-anchor="end" class="t">10</text>
<text x="321.65" y="533.78" text-anchor="end" class="t">20</text>
<text x="321.65" y="513.91" text-anchor="end" class="t">30</text>
<text x="321.65" y="496.95" text-anchor="end" class="t">40</text>
<text x="324.50" y="583.11" text-anchor="middle" class="t">−500</text>
<text x="360.75" y="583.11" text-anchor="middle" class="t">0</text>
<text x="397.00" y="583.11" text-anchor="middle" class="t">500</text>
<text x="433.25" y="583.11" text-anchor="middle" class="t">1000</text>
<text x="434.30" y="500.25" text-anchor="end" class="n">C IV</text>
<clipPath id="c53"><rect x="474.50" y="490.15" width="116.40" height="79.50"/></clipPath>
<line x1="532.80" y1="490.15" x2="532.80" y2="569.65" stroke="#000" stroke-width="0.9"/>
<line x1="525.10" y1="490.15" x2="525.10" y2="569.65" stroke="#000" stroke-width="0.9" stroke-dasharray="1.4 2.55" stroke-dashoffset="1.25"/>
<polyline clip-path="url(#c53)" fill="none" stroke="#000" stroke-width="1.25" stroke-linejoin="round" points="474.50,563.69 475.00,563.71 475.50,563.74 476.00,563.78 476.50,563.82 477.00,563.85 477.50,563.88 478.00,563.89 478.50,563.89 479.00,563.90 479.50,563.90 480.00,563.87 480.50,563.81 481.00,563.69 481.50,563.54 482.00,563.34 482.50,563.10 483.00,562.84 483.50,562.59 484.00,562.37 484.50,562.20 485.00,562.10 485.50,562.07 486.00,562.08 486.50,562.12 487.00,562.19 487.50,562.27 488.00,562.36 488.50,562.46 489.00,562.55 489.50,562.63 490.00,562.69 490.50,562.73 491.00,562.77 491.50,562.82 492.00,562.86 492.50,562.91 493.00,562.95 493.50,562.99 494.00,563.03 494.50,563.06 495.00,563.08 495.50,563.10 496.00,563.11 496.50,563.11 497.00,563.09 497.50,563.06 498.00,563.00 498.50,562.94 499.00,562.86 499.50,562.77 500.00,562.67 500.50,562.57 501.00,562.47 501.50,562.36 502.00,562.27 502.50,562.18 503.00,562.10 503.50,562.03 504.00,561.96 504.50,561.90 505.00,561.85 505.50,561.79 506.00,561.74 506.50,561.68 507.00,561.62 507.50,561.55 508.00,561.48 508.50,561.40 509.00,561.30 509.50,561.14 510.00,560.97 510.50,560.78 511.00,560.58 511.50,560.37 512.00,560.16 512.50,559.94 513.00,559.71 513.50,559.54 514.00,559.36 514.50,559.19 515.00,559.01 515.50,558.83 516.00,558.64 516.50,558.44 517.00,558.22 517.50,557.98 518.00,557.73 518.50,557.36 519.00,556.96 519.50,556.52 520.00,556.07 520.50,555.62 521.00,555.17 521.50,554.74 522.00,554.35 522.50,553.63 523.00,552.97 523.50,552.35 524.00,551.76 524.50,551.20 525.00,550.71 525.50,549.78 526.00,547.17 526.50,543.81 527.00,539.96 527.50,535.86 528.00,531.81 528.50,527.91 529.00,524.29 529.50,521.16 530.00,518.92 530.50,517.18 531.00,515.61 531.50,514.40 532.00,513.70 532.50,513.21 532.93,512.84 533.37,512.47 533.80,512.01 534.30,511.04 534.80,510.03 535.30,509.14 535.80,508.44 536.20,508.10 536.60,507.88 537.00,507.84 537.43,507.97 537.87,508.28 538.30,508.83 538.80,510.14 539.30,512.01 539.80,514.47 540.30,517.58 540.70,520.17 541.10,523.07 541.50,525.93 542.00,530.12 542.50,533.88 543.00,536.51 543.50,538.65 544.00,540.03 544.50,541.32 545.00,542.62 545.50,543.63 546.00,544.66 546.50,545.66 547.00,546.60 547.50,547.46 548.00,548.28 548.50,549.05 549.00,549.78 549.50,550.45 550.00,551.07 550.50,551.64 551.00,552.16 551.50,552.60 552.00,552.98 552.50,553.34 553.00,553.75 553.50,554.06 554.00,554.38 554.50,554.72 555.00,555.06 555.50,555.40 556.00,555.74 556.50,556.00 557.00,556.28 557.50,556.57 558.00,556.86 558.50,557.13 559.00,557.37 559.50,557.57 560.00,557.73 560.50,557.73 561.00,557.73 561.50,557.73 562.00,557.73 562.50,557.73 563.00,557.73 563.50,557.68 564.00,557.62 564.50,557.55 565.00,557.47 565.50,557.40 566.00,557.33 566.50,557.07 567.00,556.93 567.50,556.96 568.00,557.03 568.50,557.12 569.00,557.23 569.50,557.37 570.00,557.53 570.50,557.81 571.00,558.16 571.50,558.54 572.00,558.92 572.50,559.11 573.00,559.31 573.50,559.52 574.00,559.72 574.50,559.93 575.00,560.13 575.50,560.33 576.00,560.51 576.50,560.68 577.00,560.85 577.50,561.02 578.00,561.18 578.50,561.33 579.00,561.47 579.50,561.59 580.00,561.70 580.50,561.77 581.00,561.83 581.50,561.87 582.00,561.91 582.50,561.94 583.00,561.96 583.50,561.99 584.00,562.02 584.50,562.05 585.00,562.10 585.50,562.15 586.00,562.20 586.50,562.26 587.00,562.32 587.50,562.39 588.00,562.45 588.50,562.51 589.00,562.57 589.50,562.62 590.00,562.66 590.50,562.69"/>
<rect x="474.50" y="490.15" width="116.40" height="79.50" fill="none" stroke="#000" stroke-width="1.0"/>
<path d="M474.50,569.65h2.4M590.90,569.65h-2.4M474.50,549.78h2.4M590.90,549.78h-2.4M474.50,529.90h2.4M590.90,529.90h-2.4M474.50,510.03h2.4M590.90,510.03h-2.4M474.50,490.15h2.4M590.90,490.15h-2.4M474.50,565.68h1.2M590.90,565.68h-1.2M474.50,561.70h1.2M590.90,561.70h-1.2M474.50,557.73h1.2M590.90,557.73h-1.2M474.50,553.75h1.2M590.90,553.75h-1.2M474.50,545.80h1.2M590.90,545.80h-1.2M474.50,541.83h1.2M590.90,541.83h-1.2M474.50,537.85h1.2M590.90,537.85h-1.2M474.50,533.88h1.2M590.90,533.88h-1.2M474.50,525.93h1.2M590.90,525.93h-1.2M474.50,521.95h1.2M590.90,521.95h-1.2M474.50,517.98h1.2M590.90,517.98h-1.2M474.50,514.00h1.2M590.90,514.00h-1.2M474.50,506.05h1.2M590.90,506.05h-1.2M474.50,502.08h1.2M590.90,502.08h-1.2M474.50,498.10h1.2M590.90,498.10h-1.2M474.50,494.13h1.2M590.90,494.13h-1.2M474.50,569.65v-1.8M474.50,490.15v1.8M477.41,569.65v-0.9M477.41,490.15v0.9M480.32,569.65v-0.9M480.32,490.15v0.9M483.23,569.65v-0.9M483.23,490.15v0.9M486.14,569.65v-0.9M486.14,490.15v0.9M489.05,569.65v-0.9M489.05,490.15v0.9M491.96,569.65v-0.9M491.96,490.15v0.9M494.87,569.65v-0.9M494.87,490.15v0.9M497.78,569.65v-0.9M497.78,490.15v0.9M500.69,569.65v-0.9M500.69,490.15v0.9M503.60,569.65v-1.8M503.60,490.15v1.8M506.51,569.65v-0.9M506.51,490.15v0.9M509.42,569.65v-0.9M509.42,490.15v0.9M512.33,569.65v-0.9M512.33,490.15v0.9M515.24,569.65v-0.9M515.24,490.15v0.9M518.15,569.65v-0.9M518.15,490.15v0.9M521.06,569.65v-0.9M521.06,490.15v0.9M523.97,569.65v-0.9M523.97,490.15v0.9M526.88,569.65v-0.9M526.88,490.15v0.9M529.79,569.65v-0.9M529.79,490.15v0.9M532.70,569.65v-1.8M532.70,490.15v1.8M535.61,569.65v-0.9M535.61,490.15v0.9M538.52,569.65v-0.9M538.52,490.15v0.9M541.43,569.65v-0.9M541.43,490.15v0.9M544.34,569.65v-0.9M544.34,490.15v0.9M547.25,569.65v-0.9M547.25,490.15v0.9M550.16,569.65v-0.9M550.16,490.15v0.9M553.07,569.65v-0.9M553.07,490.15v0.9M555.98,569.65v-0.9M555.98,490.15v0.9M558.89,569.65v-0.9M558.89,490.15v0.9M561.80,569.65v-1.8M561.80,490.15v1.8M564.71,569.65v-0.9M564.71,490.15v0.9M567.62,569.65v-0.9M567.62,490.15v0.9M570.53,569.65v-0.9M570.53,490.15v0.9M573.44,569.65v-0.9M573.44,490.15v0.9M576.35,569.65v-0.9M576.35,490.15v0.9M579.26,569.65v-0.9M579.26,490.15v0.9M582.17,569.65v-0.9M582.17,490.15v0.9M585.08,569.65v-0.9M585.08,490.15v0.9M587.99,569.65v-0.9M587.99,490.15v0.9M590.90,569.65v-1.8M590.90,490.15v1.8" stroke="#000" stroke-width="0.9" fill="none"/>
<text x="471.65" y="569.85" text-anchor="end" class="t">0</text>
<text x="471.65" y="553.66" text-anchor="end" class="t">5</text>
<text x="471.65" y="533.78" text-anchor="end" class="t">10</text>
<text x="471.65" y="513.91" text-anchor="end" class="t">15</text>
<text x="471.65" y="496.95" text-anchor="end" class="t">20</text>
<text x="474.50" y="583.11" text-anchor="middle" class="t">−200</text>
<text x="503.60" y="583.11" text-anchor="middle" class="t">−100</text>
<text x="532.70" y="583.11" text-anchor="middle" class="t">0</text>
<text x="561.80" y="583.11" text-anchor="middle" class="t">100</text>
<text x="590.90" y="583.11" text-anchor="middle" class="t">200</text>
<text x="480.30" y="500.25" class="n">DF Tau</text>
<text x="588.60" y="500.25" text-anchor="end" class="n">He II</text>
<clipPath id="c60"><rect x="24.00" y="587.58" width="116.00" height="79.50"/></clipPath>
<line x1="36.10" y1="587.58" x2="36.10" y2="667.08" stroke="#000" stroke-width="0.9" stroke-dasharray="5.9 5.45" stroke-dashoffset="5.95"/>
<line x1="41.40" y1="587.58" x2="41.40" y2="667.08" stroke="#000" stroke-width="0.9" stroke-dasharray="5.9 5.45" stroke-dashoffset="5.95"/>
<line x1="88.00" y1="587.58" x2="88.00" y2="667.08" stroke="#000" stroke-width="0.9" stroke-dasharray="5.9 5.45" stroke-dashoffset="5.95"/>
<line x1="56.20" y1="587.58" x2="56.20" y2="667.08" stroke="#000" stroke-width="0.9"/>
<line x1="118.60" y1="587.58" x2="118.60" y2="667.08" stroke="#000" stroke-width="0.9"/>
<line x1="124.30" y1="587.58" x2="124.30" y2="667.08" stroke="#000" stroke-width="0.9" stroke-dasharray="1.4 2.55" stroke-dashoffset="1.25"/>
<line x1="126.30" y1="587.58" x2="126.30" y2="667.08" stroke="#000" stroke-width="0.9" stroke-dasharray="1.4 2.55" stroke-dashoffset="1.25"/>
<polyline clip-path="url(#c60)" fill="none" stroke="#000" stroke-width="1.25" stroke-linejoin="round" points="24.00,658.53 24.50,658.73 25.00,658.51 25.50,658.84 26.00,658.20 26.45,658.64 26.90,659.04 27.35,658.90 27.80,658.13 28.25,657.89 28.70,657.76 29.15,657.33 29.60,657.17 30.05,656.40 30.50,655.67 30.97,655.02 31.43,655.09 31.90,653.09 32.27,652.05 32.63,651.58 33.00,650.11 33.37,650.08 33.73,648.71 34.10,647.81 34.60,647.40 35.10,646.77 35.60,645.22 36.02,644.88 36.45,643.14 36.88,642.42 37.30,640.19 37.70,639.19 38.10,637.52 38.50,636.51 39.00,635.28 39.50,632.34 39.85,629.73 40.20,628.64 40.50,627.50 40.80,626.73 41.10,627.36 41.40,627.82 41.70,630.02 42.00,633.04 42.50,640.95 42.85,642.15 43.20,642.43 43.62,643.64 44.05,644.45 44.48,644.73 44.90,644.64 45.34,644.39 45.78,645.14 46.22,645.53 46.66,644.73 47.10,643.54 47.53,643.07 47.96,642.23 48.39,640.63 48.82,639.89 49.25,637.65 49.68,637.15 50.11,635.51 50.54,634.21 50.97,632.61 51.40,629.85 51.84,627.49 52.28,623.79 52.72,621.09 53.16,617.14 53.60,614.74 54.10,610.37 54.60,604.97 55.10,602.29 55.47,599.58 55.83,597.32 56.20,597.36 56.57,598.43 56.93,600.43 57.30,603.08 57.67,605.69 58.03,609.37 58.40,612.42 58.70,614.22 59.00,615.44 59.44,616.15 59.88,617.74 60.32,619.65 60.76,621.77 61.20,623.46 61.62,624.28 62.04,626.13 62.46,626.66 62.88,627.81 63.30,628.76 63.74,629.85 64.18,630.06 64.62,630.72 65.06,631.67 65.50,633.81 65.94,634.30 66.38,633.77 66.82,635.74 67.26,636.78 67.70,636.80 68.12,638.70 68.54,638.42 68.96,639.63 69.38,641.22 69.80,641.98 70.24,643.10 70.68,642.50 71.12,643.88 71.56,644.26 72.00,645.82 72.44,646.69 72.88,647.21 73.32,648.51 73.76,649.76 74.20,651.12 74.62,652.33 75.04,653.84 75.46,653.98 75.88,656.07 76.30,657.33 76.74,657.38 77.18,657.99 77.62,659.45 78.06,659.15 78.50,660.06 78.96,660.48 79.43,660.60 79.89,660.05 80.36,660.75 80.82,661.00 81.29,660.96 81.75,661.57 82.18,660.98 82.61,660.00 83.04,659.64 83.47,658.87 83.90,659.21 84.34,658.00 84.78,658.14 85.22,658.25 85.66,657.67 86.10,656.72 86.60,657.09 87.10,655.82 87.60,655.63 88.02,656.56 88.45,658.05 88.88,658.91 89.30,659.58 89.79,659.67 90.28,660.04 90.77,660.27 91.26,660.26 91.74,660.15 92.23,659.55 92.72,660.04 93.21,660.06 93.70,660.00 94.18,659.93 94.66,659.53 95.13,659.65 95.61,659.75 96.09,659.06 96.57,659.47 97.04,659.17 97.52,658.80 98.00,659.31 98.48,658.39 98.96,658.97 99.43,658.39 99.91,657.40 100.39,658.60 100.87,658.34 101.34,658.45 101.82,658.20 102.30,657.86 102.79,657.91 103.28,657.17 103.77,657.77 104.26,657.52 104.74,657.27 105.23,656.98 105.72,656.40 106.21,657.40 106.70,656.56 107.18,656.85 107.66,656.63 108.13,656.10 108.61,655.94 109.09,655.36 109.57,655.85 110.04,654.84 110.52,655.46 111.00,654.84 111.48,654.61 111.96,654.09 112.43,654.17 112.91,653.74 113.39,653.11 113.87,652.88 114.34,652.96 114.82,650.91 115.30,651.65 115.74,649.64 116.18,648.65 116.62,647.69 117.06,645.94 117.50,644.92 117.87,642.50 118.23,639.51 118.60,638.26 119.03,638.23 119.46,638.92 119.89,638.32 120.32,639.34 120.75,638.27 121.18,638.47 121.61,639.38 122.04,639.52 122.47,639.97 122.90,641.05 123.37,641.19 123.84,640.65 124.31,642.29 124.79,642.23 125.26,643.55 125.73,644.85 126.20,644.56 126.62,645.74 127.04,646.83 127.46,648.76 127.88,650.16 128.30,650.74 128.79,652.23 129.28,652.53 129.77,652.70 130.26,652.87 130.74,653.23 131.23,654.08 131.72,654.70 132.21,655.42 132.70,655.55 133.18,655.50 133.66,656.73 134.13,657.43 134.61,657.96 135.09,658.50 135.57,658.05 136.04,658.97 136.52,659.28 137.00,659.61 137.50,660.22 138.00,660.29 138.50,662.05 139.00,661.02 139.50,661.40 140.00,662.04"/>
<rect x="24.00" y="587.58" width="116.00" height="79.50" fill="none" stroke="#000" stroke-width="1.0"/>
<path d="M24.00,667.08h2.4M140.00,667.08h-2.4M24.00,653.83h2.4M140.00,653.83h-2.4M24.00,640.58h2.4M140.00,640.58h-2.4M24.00,627.33h2.4M140.00,627.33h-2.4M24.00,614.08h2.4M140.00,614.08h-2.4M24.00,600.83h2.4M140.00,600.83h-2.4M24.00,587.58h2.4M140.00,587.58h-2.4M24.00,664.43h1.2M140.00,664.43h-1.2M24.00,661.78h1.2M140.00,661.78h-1.2M24.00,659.13h1.2M140.00,659.13h-1.2M24.00,656.48h1.2M140.00,656.48h-1.2M24.00,651.18h1.2M140.00,651.18h-1.2M24.00,648.53h1.2M140.00,648.53h-1.2M24.00,645.88h1.2M140.00,645.88h-1.2M24.00,643.23h1.2M140.00,643.23h-1.2M24.00,637.93h1.2M140.00,637.93h-1.2M24.00,635.28h1.2M140.00,635.28h-1.2M24.00,632.63h1.2M140.00,632.63h-1.2M24.00,629.98h1.2M140.00,629.98h-1.2M24.00,624.68h1.2M140.00,624.68h-1.2M24.00,622.03h1.2M140.00,622.03h-1.2M24.00,619.38h1.2M140.00,619.38h-1.2M24.00,616.73h1.2M140.00,616.73h-1.2M24.00,611.43h1.2M140.00,611.43h-1.2M24.00,608.78h1.2M140.00,608.78h-1.2M24.00,606.13h1.2M140.00,606.13h-1.2M24.00,603.48h1.2M140.00,603.48h-1.2M24.00,598.18h1.2M140.00,598.18h-1.2M24.00,595.53h1.2M140.00,595.53h-1.2M24.00,592.88h1.2M140.00,592.88h-1.2M24.00,590.23h1.2M140.00,590.23h-1.2M24.00,667.08v-1.8M24.00,587.58v1.8M30.44,667.08v-0.9M30.44,587.58v0.9M36.89,667.08v-0.9M36.89,587.58v0.9M43.33,667.08v-0.9M43.33,587.58v0.9M49.78,667.08v-0.9M49.78,587.58v0.9M56.22,667.08v-1.8M56.22,587.58v1.8M62.67,667.08v-0.9M62.67,587.58v0.9M69.11,667.08v-0.9M69.11,587.58v0.9M75.56,667.08v-0.9M75.56,587.58v0.9M82.00,667.08v-0.9M82.00,587.58v0.9M88.44,667.08v-1.8M88.44,587.58v1.8M94.89,667.08v-0.9M94.89,587.58v0.9M101.33,667.08v-0.9M101.33,587.58v0.9M107.78,667.08v-0.9M107.78,587.58v0.9M114.22,667.08v-0.9M114.22,587.58v0.9M120.67,667.08v-1.8M120.67,587.58v1.8M127.11,667.08v-0.9M127.11,587.58v0.9M133.56,667.08v-0.9M133.56,587.58v0.9M140.00,667.08v-0.9M140.00,587.58v0.9" stroke="#000" stroke-width="0.9" fill="none"/>
<text x="21.15" y="667.28" text-anchor="end" class="t">0.0</text>
<text x="21.15" y="657.71" text-anchor="end" class="t">0.5</text>
<text x="21.15" y="644.46" text-anchor="end" class="t">1.0</text>
<text x="21.15" y="631.21" text-anchor="end" class="t">1.5</text>
<text x="21.15" y="617.96" text-anchor="end" class="t">2.0</text>
<text x="21.15" y="604.71" text-anchor="end" class="t">2.5</text>
<text x="21.15" y="594.38" text-anchor="end" class="t">3.0</text>
<text x="24.00" y="680.54" text-anchor="middle" class="t">−500</text>
<text x="56.22" y="680.54" text-anchor="middle" class="t">0</text>
<text x="88.44" y="680.54" text-anchor="middle" class="t">500</text>
<text x="120.67" y="680.54" text-anchor="middle" class="t">1000</text>
<text x="119.20" y="597.68" class="n">N V</text>
<clipPath id="c61"><rect x="174.50" y="587.58" width="116.00" height="79.50"/></clipPath>
<line x1="191.00" y1="587.58" x2="191.00" y2="667.08" stroke="#000" stroke-width="0.9" stroke-dasharray="1.4 2.55" stroke-dashoffset="1.25"/>
<line x1="251.40" y1="587.58" x2="251.40" y2="667.08" stroke="#000" stroke-width="0.9" stroke-dasharray="1.4 2.55" stroke-dashoffset="1.25"/>
<line x1="199.80" y1="587.58" x2="199.80" y2="667.08" stroke="#000" stroke-width="0.9"/>
<line x1="263.00" y1="587.58" x2="263.00" y2="667.08" stroke="#000" stroke-width="0.9"/>
<line x1="201.50" y1="587.58" x2="201.50" y2="667.08" stroke="#000" stroke-width="0.9" stroke-dasharray="5.9 5.45" stroke-dashoffset="5.95"/>
<line x1="235.60" y1="587.58" x2="235.60" y2="667.08" stroke="#000" stroke-width="0.9" stroke-dasharray="5.9 5.45" stroke-dashoffset="5.95"/>
<line x1="261.50" y1="587.58" x2="261.50" y2="667.08" stroke="#000" stroke-width="0.9" stroke-dasharray="5.9 5.45" stroke-dashoffset="5.95"/>
<polyline clip-path="url(#c61)" fill="none" stroke="#000" stroke-width="1.25" stroke-linejoin="round" points="174.50,665.61 174.97,666.06 175.44,665.60 175.92,666.02 176.39,665.39 176.86,665.42 177.33,665.73 177.81,665.52 178.28,665.48 178.75,665.73 179.17,664.91 179.58,664.46 180.00,664.42 180.50,664.86 181.00,665.58 181.50,665.65 182.00,665.60 182.50,665.68 183.00,665.64 183.50,665.52 184.00,665.69 184.50,665.67 185.00,665.50 185.47,665.33 185.94,665.74 186.41,665.37 186.88,665.74 187.34,665.42 187.81,664.88 188.28,665.52 188.75,665.33 189.25,665.02 189.75,664.77 190.25,664.42 190.75,663.96 191.25,663.70 191.75,662.98 192.25,662.84 192.75,662.26 193.25,662.03 193.75,660.93 194.25,660.27 194.75,659.67 195.25,658.52 195.75,657.15 196.19,655.40 196.62,652.89 197.06,650.23 197.50,647.02 197.92,643.34 198.33,638.61 198.75,632.59 199.25,613.88 199.75,599.33 200.12,602.45 200.50,612.77 200.88,625.13 201.25,637.42 201.62,642.80 202.00,645.50 202.50,648.93 203.00,651.98 203.50,653.65 204.00,654.34 204.50,655.28 205.00,656.34 205.50,657.19 206.00,657.93 206.50,658.10 207.00,659.09 207.50,659.44 208.00,660.22 208.50,661.32 209.00,661.96 209.50,662.50 210.00,663.23 210.47,663.70 210.94,663.46 211.41,664.24 211.88,664.66 212.34,664.43 212.81,664.71 213.28,664.81 213.75,665.58 214.19,665.19 214.62,664.96 215.06,665.27 215.50,665.20 216.00,664.55 216.50,663.68 217.00,664.41 217.50,665.66 218.00,665.71 218.50,665.59 219.00,665.58 219.50,665.78 220.00,665.88 220.50,665.66 221.00,666.18 221.50,665.79 222.00,666.23 222.50,666.22 223.00,666.47 223.50,666.08 224.00,665.95 224.50,666.20 225.00,666.31 225.50,666.58 226.00,666.13 226.50,665.78 227.00,665.97 227.50,666.08 228.00,666.08 228.50,665.86 229.00,665.91 229.50,665.95 230.00,665.59 230.50,665.68 231.00,665.87 231.50,665.41 232.00,665.28 232.50,664.74 233.00,663.96 233.42,662.66 233.83,659.72 234.25,657.19 234.62,652.26 235.00,647.60 235.38,640.77 235.75,637.11 236.12,641.05 236.50,647.20 237.00,653.67 237.50,658.85 237.92,661.21 238.33,662.43 238.75,663.42 239.22,663.59 239.69,664.11 240.16,664.11 240.62,664.34 241.09,664.13 241.56,664.60 242.03,663.96 242.50,664.03 243.00,663.97 243.50,663.69 244.00,663.99 244.50,663.97 245.00,663.82 245.50,663.97 246.00,663.13 246.50,663.65 247.00,663.54 247.50,663.21 248.00,662.47 248.50,662.35 249.00,662.24 249.50,661.67 250.00,661.50 250.50,661.34 251.00,661.02 251.50,661.10 252.00,660.78 252.50,660.27 253.00,660.36 253.50,660.45 254.00,660.36 254.50,660.00 254.94,659.57 255.38,659.53 255.81,658.96 256.25,658.16 256.69,657.11 257.12,655.70 257.56,654.23 258.00,651.98 258.50,649.30 259.00,646.03 259.50,642.11 259.92,639.08 260.33,635.31 260.75,632.56 261.25,627.86 261.75,626.07 262.25,631.86 262.75,639.41 263.25,644.18 263.75,649.36 264.17,652.07 264.58,655.11 265.00,657.37 265.50,658.91 266.00,659.65 266.50,661.28 267.00,662.25 267.50,662.73 268.00,662.94 268.50,663.01 269.00,663.55 269.50,663.74 270.00,663.65 270.50,664.16 271.00,664.43 271.50,664.38 272.00,664.95 272.50,664.70 273.00,664.91 273.50,664.65 274.00,664.68 274.50,665.17 275.00,665.11 275.50,665.00 276.00,665.02 276.50,664.98 277.00,665.14 277.50,665.10 278.00,665.31 278.50,665.35 279.00,665.49 279.50,665.48 280.00,665.56 280.50,665.29 281.00,665.69 281.50,665.53 282.00,665.24 282.50,665.62 283.00,665.59 283.50,665.88 284.00,665.88 284.50,665.75 285.00,665.89 285.50,665.41 286.00,665.38 286.50,665.21 287.00,665.43 287.50,666.08 288.00,665.30 288.50,665.45 289.00,665.50 289.50,665.79 290.00,665.55 290.50,666.12"/>
<rect x="174.50" y="587.58" width="116.00" height="79.50" fill="none" stroke="#000" stroke-width="1.0"/>
<path d="M174.50,667.08h2.4M290.50,667.08h-2.4M174.50,647.21h2.4M290.50,647.21h-2.4M174.50,627.33h2.4M290.50,627.33h-2.4M174.50,607.46h2.4M290.50,607.46h-2.4M174.50,587.58h2.4M290.50,587.58h-2.4M174.50,662.11h1.2M290.50,662.11h-1.2M174.50,657.14h1.2M290.50,657.14h-1.2M174.50,652.17h1.2M290.50,652.17h-1.2M174.50,642.24h1.2M290.50,642.24h-1.2M174.50,637.27h1.2M290.50,637.27h-1.2M174.50,632.30h1.2M290.50,632.30h-1.2M174.50,622.36h1.2M290.50,622.36h-1.2M174.50,617.39h1.2M290.50,617.39h-1.2M174.50,612.42h1.2M290.50,612.42h-1.2M174.50,602.49h1.2M290.50,602.49h-1.2M174.50,597.52h1.2M290.50,597.52h-1.2M174.50,592.55h1.2M290.50,592.55h-1.2M174.50,667.08v-0.9M174.50,587.58v0.9M177.72,667.08v-0.9M177.72,587.58v0.9M180.94,667.08v-0.9M180.94,587.58v0.9M184.17,667.08v-0.9M184.17,587.58v0.9M187.39,667.08v-0.9M187.39,587.58v0.9M190.61,667.08v-0.9M190.61,587.58v0.9M193.83,667.08v-0.9M193.83,587.58v0.9M197.06,667.08v-0.9M197.06,587.58v0.9M200.28,667.08v-1.8M200.28,587.58v1.8M203.50,667.08v-0.9M203.50,587.58v0.9M206.72,667.08v-0.9M206.72,587.58v0.9M209.94,667.08v-0.9M209.94,587.58v0.9M213.17,667.08v-0.9M213.17,587.58v0.9M216.39,667.08v-0.9M216.39,587.58v0.9M219.61,667.08v-0.9M219.61,587.58v0.9M222.83,667.08v-0.9M222.83,587.58v0.9M226.06,667.08v-0.9M226.06,587.58v0.9M229.28,667.08v-0.9M229.28,587.58v0.9M232.50,667.08v-1.8M232.50,587.58v1.8M235.72,667.08v-0.9M235.72,587.58v0.9M238.94,667.08v-0.9M238.94,587.58v0.9M242.17,667.08v-0.9M242.17,587.58v0.9M245.39,667.08v-0.9M245.39,587.58v0.9M248.61,667.08v-0.9M248.61,587.58v0.9M251.83,667.08v-0.9M251.83,587.58v0.9M255.06,667.08v-0.9M255.06,587.58v0.9M258.28,667.08v-0.9M258.28,587.58v0.9M261.50,667.08v-0.9M261.50,587.58v0.9M264.72,667.08v-1.8M264.72,587.58v1.8M267.94,667.08v-0.9M267.94,587.58v0.9M271.17,667.08v-0.9M271.17,587.58v0.9M274.39,667.08v-0.9M274.39,587.58v0.9M277.61,667.08v-0.9M277.61,587.58v0.9M280.83,667.08v-0.9M280.83,587.58v0.9M284.06,667.08v-0.9M284.06,587.58v0.9M287.28,667.08v-0.9M287.28,587.58v0.9M290.50,667.08v-0.9M290.50,587.58v0.9" stroke="#000" stroke-width="0.9" fill="none"/>
<text x="171.65" y="667.28" text-anchor="end" class="t">0</text>
<text x="171.65" y="651.09" text-anchor="end" class="t">2</text>
<text x="171.65" y="631.21" text-anchor="end" class="t">4</text>
<text x="171.65" y="611.34" text-anchor="end" class="t">6</text>
<text x="171.65" y="594.38" text-anchor="end" class="t">8</text>
<text x="200.28" y="680.54" text-anchor="middle" class="t">0</text>
<text x="232.50" y="680.54" text-anchor="middle" class="t">1000</text>
<text x="264.72" y="680.54" text-anchor="middle" class="t">2000</text>
<text x="286.90" y="597.68" text-anchor="end" class="n">Si IV</text>
<clipPath id="c62"><rect x="324.50" y="587.58" width="116.00" height="79.50"/></clipPath>
<line x1="360.70" y1="587.58" x2="360.70" y2="667.08" stroke="#000" stroke-width="0.9"/>
<line x1="396.90" y1="587.58" x2="396.90" y2="667.08" stroke="#000" stroke-width="0.9"/>
<line x1="348.50" y1="587.58" x2="348.50" y2="667.08" stroke="#000" stroke-width="0.9" stroke-dasharray="5.9 5.45" stroke-dashoffset="5.95"/>
<polyline clip-path="url(#c62)" fill="none" stroke="#000" stroke-width="1.25" stroke-linejoin="round" points="324.50,666.76 325.00,666.75 325.50,666.73 326.00,666.71 326.50,666.68 327.00,666.66 327.50,666.63 328.00,666.60 328.50,666.56 329.00,666.53 329.50,666.49 330.00,666.44 330.50,666.40 331.00,666.34 331.50,666.29 332.00,666.24 332.50,666.18 333.00,666.11 333.50,666.04 334.00,665.97 334.50,665.89 335.00,665.81 335.47,665.69 335.94,665.57 336.41,665.45 336.88,665.31 337.34,665.17 337.81,665.02 338.28,664.86 338.75,664.70 339.21,664.50 339.68,664.30 340.14,664.09 340.61,663.87 341.07,663.63 341.54,663.38 342.00,663.11 342.50,662.69 343.00,662.25 343.50,661.77 344.00,661.26 344.50,660.72 344.94,659.96 345.38,659.13 345.81,658.30 346.25,657.54 346.67,656.63 347.08,655.80 347.50,655.16 348.00,654.77 348.50,654.57 349.00,654.36 349.50,654.15 350.00,653.95 350.50,653.57 351.00,653.10 351.50,652.52 352.00,651.87 352.50,651.18 353.00,650.30 353.50,649.33 354.00,648.00 354.50,646.23 355.00,644.11 355.50,641.64 356.00,638.81 356.50,635.63 357.00,632.10 357.42,628.21 357.83,623.97 358.25,619.38 358.67,614.08 359.08,608.43 359.50,603.48 360.00,597.96 360.50,593.94 360.88,591.11 361.25,589.97 361.62,590.91 362.00,593.94 362.50,599.55 363.00,606.66 363.50,614.61 364.00,622.56 364.50,629.42 365.00,635.28 365.42,638.43 365.83,641.05 366.25,643.23 366.67,644.91 367.08,646.14 367.50,647.21 368.00,647.95 368.50,648.60 369.00,649.14 369.50,649.59 369.94,649.88 370.38,650.04 370.81,650.17 371.25,650.38 371.69,650.75 372.12,651.18 372.56,651.61 373.00,651.98 373.50,652.34 374.00,652.62 374.50,652.77 375.00,652.66 375.50,652.43 376.00,652.45 376.50,652.91 377.00,653.61 377.50,654.36 378.00,654.92 378.50,655.52 379.00,656.14 379.50,656.75 380.00,657.36 380.50,657.99 381.00,658.59 381.50,659.13 382.00,659.59 382.50,659.99 383.00,660.36 383.50,660.72 384.00,661.08 384.50,661.44 385.00,661.75 385.50,661.99 386.00,662.16 386.50,662.28 387.00,662.33 387.50,662.31 388.00,662.23 388.50,662.08 389.00,661.85 389.50,661.51 390.00,661.05 390.50,660.47 391.00,659.82 391.50,659.13 392.00,658.19 392.50,657.16 393.00,655.95 393.42,654.65 393.83,653.18 394.25,651.18 394.67,648.29 395.08,644.88 395.50,641.64 396.00,637.22 396.50,633.69 396.88,631.75 397.25,631.31 397.75,632.75 398.25,635.28 398.75,638.31 399.25,641.64 399.67,643.79 400.08,645.94 400.50,648.00 401.00,650.00 401.50,651.92 402.00,653.57 402.44,654.56 402.88,655.40 403.31,656.12 403.75,656.75 404.25,657.18 404.75,657.53 405.25,657.83 405.75,658.09 406.25,658.34 406.75,658.56 407.25,658.75 407.75,658.91 408.25,659.03 408.75,659.13 409.21,659.13 409.68,659.13 410.14,659.13 410.61,659.13 411.07,659.13 411.54,659.13 412.00,659.13 412.44,658.93 412.88,658.63 413.31,658.38 413.75,658.34 414.19,658.55 414.62,658.93 415.06,659.42 415.50,659.93 416.00,660.48 416.50,661.10 417.00,661.73 417.50,662.31 418.00,662.83 418.50,663.31 419.00,663.77 419.50,664.22 420.00,664.57 420.50,664.92 421.00,665.26 421.50,665.56 422.00,665.81 422.50,665.97 423.00,666.11 423.50,666.21 424.00,666.30 424.50,666.37 425.00,666.44 425.50,666.48 426.00,666.52 426.50,666.55 427.00,666.58 427.50,666.60 428.00,666.62 428.50,666.64 429.00,666.65 429.50,666.67 430.00,666.68 430.50,666.69 431.00,666.70 431.50,666.70 432.00,666.71 432.50,666.71 433.00,666.72 433.50,666.72 434.00,666.73 434.50,666.73 435.00,666.74 435.50,666.74 436.00,666.74 436.50,666.74 437.00,666.75 437.50,666.75 438.00,666.75 438.50,666.75 439.00,666.76 439.50,666.76 440.00,666.76 440.50,666.76"/>
<rect x="324.50" y="587.58" width="116.00" height="79.50" fill="none" stroke="#000" stroke-width="1.0"/>
<path d="M324.50,667.08h2.4M440.50,667.08h-2.4M324.50,651.18h2.4M440.50,651.18h-2.4M324.50,635.28h2.4M440.50,635.28h-2.4M324.50,619.38h2.4M440.50,619.38h-2.4M324.50,603.48h2.4M440.50,603.48h-2.4M324.50,587.58h2.4M440.50,587.58h-2.4M324.50,665.49h1.2M440.50,665.49h-1.2M324.50,663.90h1.2M440.50,663.90h-1.2M324.50,662.31h1.2M440.50,662.31h-1.2M324.50,660.72h1.2M440.50,660.72h-1.2M324.50,659.13h1.2M440.50,659.13h-1.2M324.50,657.54h1.2M440.50,657.54h-1.2M324.50,655.95h1.2M440.50,655.95h-1.2M324.50,654.36h1.2M440.50,654.36h-1.2M324.50,652.77h1.2M440.50,652.77h-1.2M324.50,649.59h1.2M440.50,649.59h-1.2M324.50,648.00h1.2M440.50,648.00h-1.2M324.50,646.41h1.2M440.50,646.41h-1.2M324.50,644.82h1.2M440.50,644.82h-1.2M324.50,643.23h1.2M440.50,643.23h-1.2M324.50,641.64h1.2M440.50,641.64h-1.2M324.50,640.05h1.2M440.50,640.05h-1.2M324.50,638.46h1.2M440.50,638.46h-1.2M324.50,636.87h1.2M440.50,636.87h-1.2M324.50,633.69h1.2M440.50,633.69h-1.2M324.50,632.10h1.2M440.50,632.10h-1.2M324.50,630.51h1.2M440.50,630.51h-1.2M324.50,628.92h1.2M440.50,628.92h-1.2M324.50,627.33h1.2M440.50,627.33h-1.2M324.50,625.74h1.2M440.50,625.74h-1.2M324.50,624.15h1.2M440.50,624.15h-1.2M324.50,622.56h1.2M440.50,622.56h-1.2M324.50,620.97h1.2M440.50,620.97h-1.2M324.50,617.79h1.2M440.50,617.79h-1.2M324.50,616.20h1.2M440.50,616.20h-1.2M324.50,614.61h1.2M440.50,614.61h-1.2M324.50,613.02h1.2M440.50,613.02h-1.2M324.50,611.43h1.2M440.50,611.43h-1.2M324.50,609.84h1.2M440.50,609.84h-1.2M324.50,608.25h1.2M440.50,608.25h-1.2M324.50,606.66h1.2M440.50,606.66h-1.2M324.50,605.07h1.2M440.50,605.07h-1.2M324.50,601.89h1.2M440.50,601.89h-1.2M324.50,600.30h1.2M440.50,600.30h-1.2M324.50,598.71h1.2M440.50,598.71h-1.2M324.50,597.12h1.2M440.50,597.12h-1.2M324.50,595.53h1.2M440.50,595.53h-1.2M324.50,593.94h1.2M440.50,593.94h-1.2M324.50,592.35h1.2M440.50,592.35h-1.2M324.50,590.76h1.2M440.50,590.76h-1.2M324.50,589.17h1.2M440.50,589.17h-1.2M324.50,667.08v-1.8M324.50,587.58v1.8M331.75,667.08v-0.9M331.75,587.58v0.9M339.00,667.08v-0.9M339.00,587.58v0.9M346.25,667.08v-0.9M346.25,587.58v0.9M353.50,667.08v-0.9M353.50,587.58v0.9M360.75,667.08v-1.8M360.75,587.58v1.8M368.00,667.08v-0.9M368.00,587.58v0.9M375.25,667.08v-0.9M375.25,587.58v0.9M382.50,667.08v-0.9M382.50,587.58v0.9M389.75,667.08v-0.9M389.75,587.58v0.9M397.00,667.08v-1.8M397.00,587.58v1.8M404.25,667.08v-0.9M404.25,587.58v0.9M411.50,667.08v-0.9M411.50,587.58v0.9M418.75,667.08v-0.9M418.75,587.58v0.9M426.00,667.08v-0.9M426.00,587.58v0.9M433.25,667.08v-1.8M433.25,587.58v1.8M440.50,667.08v-0.9M440.50,587.58v0.9" stroke="#000" stroke-width="0.9" fill="none"/>
<text x="321.65" y="667.28" text-anchor="end" class="t">0</text>
<text x="321.65" y="655.06" text-anchor="end" class="t">10</text>
<text x="321.65" y="639.16" text-anchor="end" class="t">20</text>
<text x="321.65" y="623.26" text-anchor="end" class="t">30</text>
<text x="321.65" y="607.36" text-anchor="end" class="t">40</text>
<text x="321.65" y="594.38" text-anchor="end" class="t">50</text>
<text x="324.50" y="680.54" text-anchor="middle" class="t">−500</text>
<text x="360.75" y="680.54" text-anchor="middle" class="t">0</text>
<text x="397.00" y="680.54" text-anchor="middle" class="t">500</text>
<text x="433.25" y="680.54" text-anchor="middle" class="t">1000</text>
<text x="434.30" y="597.68" text-anchor="end" class="n">C IV</text>
<clipPath id="c63"><rect x="474.50" y="587.58" width="116.40" height="79.50"/></clipPath>
<line x1="532.80" y1="587.58" x2="532.80" y2="667.08" stroke="#000" stroke-width="0.9"/>
<line x1="525.10" y1="587.58" x2="525.10" y2="667.08" stroke="#000" stroke-width="0.9" stroke-dasharray="1.4 2.55" stroke-dashoffset="1.25"/>
<polyline clip-path="url(#c63)" fill="none" stroke="#000" stroke-width="1.25" stroke-linejoin="round" points="474.50,663.90 475.00,663.88 475.50,663.87 476.00,663.85 476.50,663.82 477.00,663.80 477.50,663.77 478.00,663.75 478.50,663.72 479.00,663.69 479.50,663.65 480.00,663.62 480.50,663.59 481.00,663.56 481.50,663.52 482.00,663.49 482.50,663.46 483.00,663.42 483.48,663.39 483.97,663.36 484.45,663.33 484.93,663.30 485.42,663.28 485.90,663.25 486.38,663.22 486.87,663.19 487.35,663.15 487.83,663.12 488.32,663.09 488.80,663.05 489.28,663.01 489.77,662.97 490.25,662.93 490.73,662.89 491.22,662.84 491.70,662.79 492.19,662.74 492.68,662.70 493.17,662.65 493.66,662.60 494.15,662.55 494.65,662.49 495.14,662.44 495.63,662.38 496.12,662.33 496.61,662.27 497.10,662.21 497.59,662.15 498.08,662.09 498.57,662.03 499.06,661.97 499.55,661.90 500.05,661.84 500.54,661.77 501.03,661.71 501.52,661.64 502.01,661.58 502.50,661.51 503.00,661.41 503.50,661.30 504.00,661.20 504.50,661.10 505.00,661.00 505.50,660.89 506.00,660.78 506.50,660.67 507.00,660.54 507.50,660.41 508.00,660.26 508.50,660.10 509.00,659.93 509.48,659.65 509.96,659.37 510.43,659.07 510.91,658.74 511.39,658.40 511.87,658.03 512.34,657.63 512.82,657.20 513.30,656.75 513.77,656.14 514.24,655.52 514.71,654.87 515.19,654.15 515.66,653.34 516.13,652.41 516.60,651.34 517.06,650.12 517.51,648.77 517.97,647.32 518.43,645.76 518.89,644.10 519.34,642.35 519.80,640.53 520.27,638.56 520.74,636.43 521.21,634.18 521.69,631.88 522.16,629.59 522.63,627.37 523.10,625.26 523.56,623.27 524.01,621.34 524.47,619.46 524.93,617.62 525.39,615.80 525.84,614.01 526.30,612.23 526.77,610.40 527.24,608.54 527.71,606.68 528.19,604.87 528.66,603.18 529.13,601.64 529.60,600.30 530.08,598.46 530.55,597.09 531.02,596.06 531.50,595.21 531.95,594.19 532.40,593.94 532.90,594.22 533.40,595.05 533.80,595.52 534.20,596.04 534.60,596.85 535.00,598.23 535.47,599.35 535.94,600.67 536.41,602.16 536.89,603.78 537.36,605.49 537.83,607.26 538.30,609.05 538.76,610.88 539.21,612.82 539.67,614.83 540.13,616.89 540.59,618.99 541.04,621.10 541.50,623.20 541.97,625.36 542.44,627.63 542.91,629.94 543.39,632.22 543.86,634.42 544.33,636.47 544.80,638.30 545.26,639.90 545.71,641.33 546.17,642.61 546.63,643.79 547.09,644.90 547.54,645.97 548.00,647.05 548.48,647.88 548.96,648.69 549.43,649.47 549.91,650.23 550.39,650.95 550.87,651.65 551.34,652.32 551.82,652.96 552.30,653.57 552.79,654.14 553.28,654.68 553.77,655.19 554.26,655.67 554.74,656.12 555.23,656.55 555.72,656.95 556.21,657.34 556.70,657.70 557.20,657.94 557.70,658.16 558.20,658.37 558.70,658.56 559.20,658.74 559.70,658.92 560.20,659.08 560.70,659.24 561.20,659.38 561.70,659.53 562.20,659.66 562.70,659.80 563.20,659.93 563.68,660.02 564.16,660.10 564.63,660.18 565.11,660.26 565.59,660.33 566.07,660.40 566.54,660.46 567.02,660.52 567.50,660.58 567.98,660.64 568.46,660.69 568.93,660.74 569.41,660.79 569.89,660.84 570.37,660.89 570.84,660.94 571.32,660.99 571.80,661.04 572.30,661.08 572.79,661.12 573.29,661.16 573.78,661.20 574.28,661.24 574.77,661.28 575.27,661.32 575.76,661.36 576.26,661.40 576.75,661.43 577.25,661.47 577.75,661.50 578.24,661.53 578.74,661.56 579.23,661.58 579.73,661.61 580.22,661.63 580.72,661.64 581.21,661.66 581.71,661.67 582.20,661.67 582.70,661.67 583.19,661.67 583.68,661.65 584.16,661.62 584.65,661.59 585.14,661.55 585.62,661.50 586.11,661.45 586.60,661.40 587.09,661.34 587.58,661.29 588.06,661.23 588.55,661.18 589.04,661.14 589.52,661.10 590.01,661.06 590.50,661.04"/>
<rect x="474.50" y="587.58" width="116.40" height="79.50" fill="none" stroke="#000" stroke-width="1.0"/>
<path d="M474.50,667.08h2.4M590.90,667.08h-2.4M474.50,651.18h2.4M590.90,651.18h-2.4M474.50,635.28h2.4M590.90,635.28h-2.4M474.50,619.38h2.4M590.90,619.38h-2.4M474.50,603.48h2.4M590.90,603.48h-2.4M474.50,587.58h2.4M590.90,587.58h-2.4M474.50,665.49h1.2M590.90,665.49h-1.2M474.50,663.90h1.2M590.90,663.90h-1.2M474.50,662.31h1.2M590.90,662.31h-1.2M474.50,660.72h1.2M590.90,660.72h-1.2M474.50,659.13h1.2M590.90,659.13h-1.2M474.50,657.54h1.2M590.90,657.54h-1.2M474.50,655.95h1.2M590.90,655.95h-1.2M474.50,654.36h1.2M590.90,654.36h-1.2M474.50,652.77h1.2M590.90,652.77h-1.2M474.50,649.59h1.2M590.90,649.59h-1.2M474.50,648.00h1.2M590.90,648.00h-1.2M474.50,646.41h1.2M590.90,646.41h-1.2M474.50,644.82h1.2M590.90,644.82h-1.2M474.50,643.23h1.2M590.90,643.23h-1.2M474.50,641.64h1.2M590.90,641.64h-1.2M474.50,640.05h1.2M590.90,640.05h-1.2M474.50,638.46h1.2M590.90,638.46h-1.2M474.50,636.87h1.2M590.90,636.87h-1.2M474.50,633.69h1.2M590.90,633.69h-1.2M474.50,632.10h1.2M590.90,632.10h-1.2M474.50,630.51h1.2M590.90,630.51h-1.2M474.50,628.92h1.2M590.90,628.92h-1.2M474.50,627.33h1.2M590.90,627.33h-1.2M474.50,625.74h1.2M590.90,625.74h-1.2M474.50,624.15h1.2M590.90,624.15h-1.2M474.50,622.56h1.2M590.90,622.56h-1.2M474.50,620.97h1.2M590.90,620.97h-1.2M474.50,617.79h1.2M590.90,617.79h-1.2M474.50,616.20h1.2M590.90,616.20h-1.2M474.50,614.61h1.2M590.90,614.61h-1.2M474.50,613.02h1.2M590.90,613.02h-1.2M474.50,611.43h1.2M590.90,611.43h-1.2M474.50,609.84h1.2M590.90,609.84h-1.2M474.50,608.25h1.2M590.90,608.25h-1.2M474.50,606.66h1.2M590.90,606.66h-1.2M474.50,605.07h1.2M590.90,605.07h-1.2M474.50,601.89h1.2M590.90,601.89h-1.2M474.50,600.30h1.2M590.90,600.30h-1.2M474.50,598.71h1.2M590.90,598.71h-1.2M474.50,597.12h1.2M590.90,597.12h-1.2M474.50,595.53h1.2M590.90,595.53h-1.2M474.50,593.94h1.2M590.90,593.94h-1.2M474.50,592.35h1.2M590.90,592.35h-1.2M474.50,590.76h1.2M590.90,590.76h-1.2M474.50,589.17h1.2M590.90,589.17h-1.2M474.50,667.08v-1.8M474.50,587.58v1.8M477.41,667.08v-0.9M477.41,587.58v0.9M480.32,667.08v-0.9M480.32,587.58v0.9M483.23,667.08v-0.9M483.23,587.58v0.9M486.14,667.08v-0.9M486.14,587.58v0.9M489.05,667.08v-0.9M489.05,587.58v0.9M491.96,667.08v-0.9M491.96,587.58v0.9M494.87,667.08v-0.9M494.87,587.58v0.9M497.78,667.08v-0.9M497.78,587.58v0.9M500.69,667.08v-0.9M500.69,587.58v0.9M503.60,667.08v-1.8M503.60,587.58v1.8M506.51,667.08v-0.9M506.51,587.58v0.9M509.42,667.08v-0.9M509.42,587.58v0.9M512.33,667.08v-0.9M512.33,587.58v0.9M515.24,667.08v-0.9M515.24,587.58v0.9M518.15,667.08v-0.9M518.15,587.58v0.9M521.06,667.08v-0.9M521.06,587.58v0.9M523.97,667.08v-0.9M523.97,587.58v0.9M526.88,667.08v-0.9M526.88,587.58v0.9M529.79,667.08v-0.9M529.79,587.58v0.9M532.70,667.08v-1.8M532.70,587.58v1.8M535.61,667.08v-0.9M535.61,587.58v0.9M538.52,667.08v-0.9M538.52,587.58v0.9M541.43,667.08v-0.9M541.43,587.58v0.9M544.34,667.08v-0.9M544.34,587.58v0.9M547.25,667.08v-0.9M547.25,587.58v0.9M550.16,667.08v-0.9M550.16,587.58v0.9M553.07,667.08v-0.9M553.07,587.58v0.9M555.98,667.08v-0.9M555.98,587.58v0.9M558.89,667.08v-0.9M558.89,587.58v0.9M561.80,667.08v-1.8M561.80,587.58v1.8M564.71,667.08v-0.9M564.71,587.58v0.9M567.62,667.08v-0.9M567.62,587.58v0.9M570.53,667.08v-0.9M570.53,587.58v0.9M573.44,667.08v-0.9M573.44,587.58v0.9M576.35,667.08v-0.9M576.35,587.58v0.9M579.26,667.08v-0.9M579.26,587.58v0.9M582.17,667.08v-0.9M582.17,587.58v0.9M585.08,667.08v-0.9M585.08,587.58v0.9M587.99,667.08v-0.9M587.99,587.58v0.9M590.90,667.08v-1.8M590.90,587.58v1.8" stroke="#000" stroke-width="0.9" fill="none"/>
<text x="471.65" y="667.28" text-anchor="end" class="t">0</text>
<text x="471.65" y="655.06" text-anchor="end" class="t">10</text>
<text x="471.65" y="639.16" text-anchor="end" class="t">20</text>
<text x="471.65" y="623.26" text-anchor="end" class="t">30</text>
<text x="471.65" y="607.36" text-anchor="end" class="t">40</text>
<text x="471.65" y="594.38" text-anchor="end" class="t">50</text>
<text x="474.50" y="680.54" text-anchor="middle" class="t">−200</text>
<text x="503.60" y="680.54" text-anchor="middle" class="t">−100</text>
<text x="532.70" y="680.54" text-anchor="middle" class="t">0</text>
<text x="561.80" y="680.54" text-anchor="middle" class="t">100</text>
<text x="590.90" y="680.54" text-anchor="middle" class="t">200</text>
<text x="480.30" y="597.68" class="n">BP Tau</text>
<text x="588.60" y="597.68" text-anchor="end" class="n">He II</text>
<clipPath id="c70"><rect x="24.00" y="685.01" width="116.00" height="79.50"/></clipPath>
<line x1="36.10" y1="685.01" x2="36.10" y2="764.51" stroke="#000" stroke-width="0.9" stroke-dasharray="5.9 5.45" stroke-dashoffset="5.95"/>
<line x1="41.40" y1="685.01" x2="41.40" y2="764.51" stroke="#000" stroke-width="0.9" stroke-dasharray="5.9 5.45" stroke-dashoffset="5.95"/>
<line x1="88.00" y1="685.01" x2="88.00" y2="764.51" stroke="#000" stroke-width="0.9" stroke-dasharray="5.9 5.45" stroke-dashoffset="5.95"/>
<line x1="56.20" y1="685.01" x2="56.20" y2="764.51" stroke="#000" stroke-width="0.9"/>
<line x1="118.60" y1="685.01" x2="118.60" y2="764.51" stroke="#000" stroke-width="0.9"/>
<line x1="124.30" y1="685.01" x2="124.30" y2="764.51" stroke="#000" stroke-width="0.9" stroke-dasharray="1.4 2.55" stroke-dashoffset="1.25"/>
<line x1="126.30" y1="685.01" x2="126.30" y2="764.51" stroke="#000" stroke-width="0.9" stroke-dasharray="1.4 2.55" stroke-dashoffset="1.25"/>
<polyline clip-path="url(#c70)" fill="none" stroke="#000" stroke-width="1.25" stroke-linejoin="round" points="24.00,761.21 24.50,762.11 25.00,760.34 25.50,757.66 26.00,758.52 26.50,758.75 27.00,761.57 27.50,761.01 28.00,759.51 28.50,758.96 29.00,762.18 29.50,759.26 30.00,755.60 30.50,757.16 31.00,755.66 31.50,753.68 32.00,756.84 32.50,753.24 33.00,751.27 33.50,749.64 34.00,748.28 34.50,748.75 35.00,750.39 35.50,749.63 36.00,749.13 36.50,748.15 37.00,745.59 37.50,741.19 38.00,740.27 38.50,733.99 38.97,730.76 39.43,730.26 39.90,728.78 40.35,732.06 40.80,734.80 41.25,742.17 41.70,743.54 42.13,744.96 42.57,743.95 43.00,744.63 43.50,745.88 44.00,744.95 44.50,746.58 45.00,744.71 45.50,747.09 46.00,746.82 46.50,743.51 47.00,739.82 47.40,734.61 47.80,735.47 48.20,729.71 48.65,730.95 49.10,727.57 49.55,725.84 50.00,726.68 50.47,723.76 50.93,723.63 51.40,723.94 51.77,720.34 52.13,717.94 52.50,715.16 52.87,711.39 53.23,710.01 53.60,702.09 54.05,700.33 54.50,699.56 55.00,699.22 55.50,700.94 56.00,698.65 56.50,699.45 56.90,704.45 57.30,710.35 57.60,715.41 57.90,719.29 58.27,719.79 58.63,724.17 59.00,721.01 59.37,724.87 59.73,725.62 60.10,726.94 60.47,730.59 60.83,730.41 61.20,732.70 61.55,734.83 61.90,735.88 62.25,738.65 62.60,741.32 62.95,745.71 63.30,749.66 63.67,750.18 64.03,752.55 64.40,755.00 64.84,755.36 65.28,753.56 65.72,755.27 66.16,755.80 66.60,753.59 67.07,757.08 67.53,758.51 68.00,758.14 68.50,762.37 69.00,757.84 69.50,760.71 70.00,762.11 70.50,761.57 71.00,760.67 71.50,760.54 72.00,761.40 72.50,761.75 73.00,761.82 73.50,761.45 74.00,760.04 74.50,760.83 75.00,760.05 75.50,761.43 76.00,761.66 76.50,761.56 77.00,761.62 77.50,761.12 78.00,763.26 78.50,763.27 79.00,764.32 79.50,761.02 80.00,760.00 80.50,763.50 81.00,761.58 81.50,764.22 82.00,762.14 82.50,762.04 83.00,762.74 83.50,761.17 84.00,762.64 84.50,760.96 85.00,757.84 85.50,757.77 86.00,760.24 86.40,758.14 86.80,752.91 87.20,754.06 87.63,758.80 88.07,757.62 88.50,764.45 89.00,762.19 89.50,760.56 90.00,761.02 90.50,762.99 91.00,762.73 91.50,760.94 92.00,759.00 92.50,759.40 93.00,757.59 93.47,758.59 93.93,756.87 94.40,757.18 94.87,754.29 95.33,754.79 95.80,754.88 96.24,754.90 96.68,756.24 97.12,757.30 97.56,756.06 98.00,758.40 98.50,758.80 99.00,756.98 99.50,755.13 100.00,754.48 100.50,754.43 101.00,755.25 101.50,754.69 102.00,754.62 102.50,752.77 103.00,751.88 103.50,752.32 104.00,753.18 104.50,755.24 105.00,754.22 105.50,753.94 106.00,754.71 106.50,754.52 107.00,754.35 107.50,754.83 108.00,752.11 108.50,751.79 109.00,751.71 109.50,750.66 110.00,750.28 110.50,750.14 111.00,742.78 111.50,742.37 112.00,742.15 112.50,741.24 113.00,741.65 113.42,741.77 113.83,742.68 114.25,743.17 114.72,749.92 115.20,751.43 115.60,757.82 116.00,759.23 116.40,761.19 116.80,761.99 117.20,761.07 117.60,759.27 118.00,759.90 118.50,759.07 119.00,759.80 119.50,759.28 120.00,759.28 120.50,759.46 121.00,757.20 121.50,756.72 122.00,757.60 122.50,757.36 123.00,756.72 123.50,759.73 124.00,758.88 124.50,759.13 125.00,756.91 125.50,759.04 126.00,758.82 126.50,758.95 127.00,759.60 127.50,761.85 128.00,761.61 128.50,759.86 129.00,757.70 129.50,760.38 130.00,758.09 130.50,759.03 131.00,758.23 131.50,759.36 132.00,760.35 132.50,760.06 133.00,758.87 133.50,758.57 134.00,758.05 134.50,758.83 135.00,760.81 135.50,760.56 136.00,759.36 136.50,759.61 137.00,757.07 137.50,761.83 138.00,759.93 138.50,760.41 139.00,759.66 139.50,759.47 140.00,760.48"/>
<rect x="24.00" y="685.01" width="116.00" height="79.50" fill="none" stroke="#000" stroke-width="1.0"/>
<path d="M24.00,764.51h2.4M140.00,764.51h-2.4M24.00,744.63h2.4M140.00,744.63h-2.4M24.00,724.76h2.4M140.00,724.76h-2.4M24.00,704.88h2.4M140.00,704.88h-2.4M24.00,685.01h2.4M140.00,685.01h-2.4M24.00,759.54h1.2M140.00,759.54h-1.2M24.00,754.57h1.2M140.00,754.57h-1.2M24.00,749.60h1.2M140.00,749.60h-1.2M24.00,739.67h1.2M140.00,739.67h-1.2M24.00,734.70h1.2M140.00,734.70h-1.2M24.00,729.73h1.2M140.00,729.73h-1.2M24.00,719.79h1.2M140.00,719.79h-1.2M24.00,714.82h1.2M140.00,714.82h-1.2M24.00,709.85h1.2M140.00,709.85h-1.2M24.00,699.92h1.2M140.00,699.92h-1.2M24.00,694.95h1.2M140.00,694.95h-1.2M24.00,689.98h1.2M140.00,689.98h-1.2M24.00,764.51v-1.8M24.00,685.01v1.8M30.44,764.51v-0.9M30.44,685.01v0.9M36.89,764.51v-0.9M36.89,685.01v0.9M43.33,764.51v-0.9M43.33,685.01v0.9M49.78,764.51v-0.9M49.78,685.01v0.9M56.22,764.51v-1.8M56.22,685.01v1.8M62.67,764.51v-0.9M62.67,685.01v0.9M69.11,764.51v-0.9M69.11,685.01v0.9M75.56,764.51v-0.9M75.56,685.01v0.9M82.00,764.51v-0.9M82.00,685.01v0.9M88.44,764.51v-1.8M88.44,685.01v1.8M94.89,764.51v-0.9M94.89,685.01v0.9M101.33,764.51v-0.9M101.33,685.01v0.9M107.78,764.51v-0.9M107.78,685.01v0.9M114.22,764.51v-0.9M114.22,685.01v0.9M120.67,764.51v-1.8M120.67,685.01v1.8M127.11,764.51v-0.9M127.11,685.01v0.9M133.56,764.51v-0.9M133.56,685.01v0.9M140.00,764.51v-0.9M140.00,685.01v0.9" stroke="#000" stroke-width="0.9" fill="none"/>
<text x="21.15" y="764.71" text-anchor="end" class="t">0.0</text>
<text x="21.15" y="748.51" text-anchor="end" class="t">0.2</text>
<text x="21.15" y="728.64" text-anchor="end" class="t">0.4</text>
<text x="21.15" y="708.76" text-anchor="end" class="t">0.6</text>
<text x="21.15" y="691.81" text-anchor="end" class="t">0.8</text>
<text x="24.00" y="777.97" text-anchor="middle" class="t">−500</text>
<text x="56.22" y="777.97" text-anchor="middle" class="t">0</text>
<text x="88.44" y="777.97" text-anchor="middle" class="t">500</text>
<text x="120.67" y="777.97" text-anchor="middle" class="t">1000</text>
<text x="119.20" y="695.11" class="n">N V</text>
<clipPath id="c71"><rect x="174.50" y="685.01" width="116.00" height="79.50"/></clipPath>
<line x1="191.00" y1="685.01" x2="191.00" y2="764.51" stroke="#000" stroke-width="0.9" stroke-dasharray="1.4 2.55" stroke-dashoffset="1.25"/>
<line x1="251.40" y1="685.01" x2="251.40" y2="764.51" stroke="#000" stroke-width="0.9" stroke-dasharray="1.4 2.55" stroke-dashoffset="1.25"/>
<line x1="199.80" y1="685.01" x2="199.80" y2="764.51" stroke="#000" stroke-width="0.9"/>
<line x1="263.00" y1="685.01" x2="263.00" y2="764.51" stroke="#000" stroke-width="0.9"/>
<line x1="201.50" y1="685.01" x2="201.50" y2="764.51" stroke="#000" stroke-width="0.9" stroke-dasharray="5.9 5.45" stroke-dashoffset="5.95"/>
<line x1="235.60" y1="685.01" x2="235.60" y2="764.51" stroke="#000" stroke-width="0.9" stroke-dasharray="5.9 5.45" stroke-dashoffset="5.95"/>
<line x1="261.50" y1="685.01" x2="261.50" y2="764.51" stroke="#000" stroke-width="0.9" stroke-dasharray="5.9 5.45" stroke-dashoffset="5.95"/>
<polyline clip-path="url(#c71)" fill="none" stroke="#000" stroke-width="1.25" stroke-linejoin="round" points="174.50,762.84 175.00,763.12 175.50,762.23 176.00,763.27 176.50,762.94 177.00,762.42 177.50,762.66 178.00,762.86 178.50,763.40 179.00,763.59 179.50,762.64 180.00,762.24 180.50,763.35 181.00,762.51 181.50,762.74 182.00,763.22 182.50,762.69 183.00,762.47 183.50,762.44 184.00,762.99 184.50,762.76 185.00,763.17 185.48,762.88 185.96,763.84 186.44,763.10 186.92,762.64 187.40,762.65 187.88,762.70 188.37,763.00 188.85,762.19 189.33,762.52 189.81,762.99 190.29,762.41 190.77,762.73 191.25,763.31 191.75,762.26 192.25,761.08 192.75,762.16 193.25,760.89 193.75,760.59 194.25,759.76 194.75,758.94 195.25,758.32 195.75,756.44 196.25,754.68 196.75,751.91 197.25,749.21 197.67,743.66 198.08,738.62 198.50,732.76 199.00,722.41 199.50,713.23 200.00,705.28 200.50,701.01 200.88,705.15 201.25,713.33 201.62,722.91 202.00,732.83 202.38,738.42 202.75,739.82 203.12,745.53 203.50,750.57 204.00,754.20 204.50,757.87 204.94,757.48 205.38,758.66 205.81,759.96 206.25,761.07 206.72,760.63 207.19,761.24 207.66,761.14 208.12,761.32 208.59,762.04 209.06,761.71 209.53,762.20 210.00,762.10 210.50,762.59 211.00,762.52 211.50,762.36 212.00,762.22 212.50,762.71 213.00,762.21 213.50,761.89 214.00,762.69 214.50,762.22 215.00,762.93 215.50,761.33 216.00,760.62 216.50,760.63 217.00,762.78 217.50,762.39 218.00,762.52 218.50,762.44 219.00,762.86 219.50,762.34 220.00,762.51 220.50,762.31 221.00,763.08 221.50,761.80 222.00,762.92 222.50,762.96 223.00,762.47 223.50,762.69 224.00,762.28 224.50,762.09 225.00,762.75 225.48,763.00 225.96,762.44 226.44,763.42 226.92,762.79 227.40,762.85 227.88,762.97 228.37,762.89 228.85,763.25 229.33,762.98 229.81,762.90 230.29,762.42 230.77,762.27 231.25,762.91 231.75,762.69 232.25,761.22 232.75,760.66 233.25,758.60 233.67,754.91 234.08,750.76 234.50,744.94 234.92,736.37 235.33,726.41 235.75,722.37 236.25,731.89 236.75,745.10 237.25,752.15 237.75,756.87 238.17,758.74 238.58,758.36 239.00,760.37 239.50,759.70 240.00,761.59 240.50,760.40 241.00,760.74 241.50,760.28 242.00,760.12 242.50,760.95 242.97,761.09 243.44,760.64 243.91,760.79 244.38,760.10 244.84,759.46 245.31,760.46 245.78,759.33 246.25,759.24 246.75,758.74 247.25,758.00 247.75,758.51 248.25,758.15 248.75,758.69 249.25,758.29 249.75,757.71 250.25,757.34 250.75,756.88 251.17,756.69 251.58,756.65 252.00,756.27 252.44,757.68 252.88,757.44 253.31,759.19 253.75,758.19 254.25,758.22 254.75,758.04 255.25,757.14 255.75,755.38 256.25,753.94 256.69,752.18 257.12,750.59 257.56,748.28 258.00,744.57 258.50,739.71 259.00,734.88 259.50,728.73 259.92,722.85 260.33,717.64 260.75,712.43 261.25,705.40 261.75,700.10 262.25,707.05 262.75,716.49 263.25,725.18 263.75,732.21 264.17,737.34 264.58,742.79 265.00,747.33 265.50,749.93 266.00,753.40 266.50,756.32 266.95,757.99 267.40,758.83 267.85,759.56 268.30,759.05 268.75,760.65 269.22,761.27 269.69,760.59 270.16,761.51 270.62,762.23 271.09,761.98 271.56,761.56 272.03,762.26 272.50,761.80 273.00,761.82 273.50,761.88 274.00,763.21 274.50,762.84 275.00,762.56 275.50,761.99 276.00,762.55 276.50,762.60 277.00,762.65 277.50,762.30 278.00,763.68 278.50,762.59 279.00,762.55 279.50,761.55 280.00,762.82 280.50,762.89 281.00,762.92 281.50,762.63 282.00,762.01 282.50,762.63 283.00,762.37 283.50,762.11 284.00,762.02 284.50,762.71 285.00,762.18 285.50,762.71 286.00,762.39 286.50,763.52 287.00,762.28 287.50,762.22 288.00,761.85 288.50,763.23 289.00,762.52 289.50,762.72 290.00,762.80 290.50,763.42"/>
<rect x="174.50" y="685.01" width="116.00" height="79.50" fill="none" stroke="#000" stroke-width="1.0"/>
<path d="M174.50,764.51h2.4M290.50,764.51h-2.4M174.50,744.63h2.4M290.50,744.63h-2.4M174.50,724.76h2.4M290.50,724.76h-2.4M174.50,704.88h2.4M290.50,704.88h-2.4M174.50,685.01h2.4M290.50,685.01h-2.4M174.50,760.53h1.2M290.50,760.53h-1.2M174.50,756.56h1.2M290.50,756.56h-1.2M174.50,752.59h1.2M290.50,752.59h-1.2M174.50,748.61h1.2M290.50,748.61h-1.2M174.50,740.66h1.2M290.50,740.66h-1.2M174.50,736.68h1.2M290.50,736.68h-1.2M174.50,732.71h1.2M290.50,732.71h-1.2M174.50,728.74h1.2M290.50,728.74h-1.2M174.50,720.78h1.2M290.50,720.78h-1.2M174.50,716.81h1.2M290.50,716.81h-1.2M174.50,712.84h1.2M290.50,712.84h-1.2M174.50,708.86h1.2M290.50,708.86h-1.2M174.50,700.91h1.2M290.50,700.91h-1.2M174.50,696.93h1.2M290.50,696.93h-1.2M174.50,692.96h1.2M290.50,692.96h-1.2M174.50,688.99h1.2M290.50,688.99h-1.2M174.50,764.51v-0.9M174.50,685.01v0.9M177.72,764.51v-0.9M177.72,685.01v0.9M180.94,764.51v-0.9M180.94,685.01v0.9M184.17,764.51v-0.9M184.17,685.01v0.9M187.39,764.51v-0.9M187.39,685.01v0.9M190.61,764.51v-0.9M190.61,685.01v0.9M193.83,764.51v-0.9M193.83,685.01v0.9M197.06,764.51v-0.9M197.06,685.01v0.9M200.28,764.51v-1.8M200.28,685.01v1.8M203.50,764.51v-0.9M203.50,685.01v0.9M206.72,764.51v-0.9M206.72,685.01v0.9M209.94,764.51v-0.9M209.94,685.01v0.9M213.17,764.51v-0.9M213.17,685.01v0.9M216.39,764.51v-0.9M216.39,685.01v0.9M219.61,764.51v-0.9M219.61,685.01v0.9M222.83,764.51v-0.9M222.83,685.01v0.9M226.06,764.51v-0.9M226.06,685.01v0.9M229.28,764.51v-0.9M229.28,685.01v0.9M232.50,764.51v-1.8M232.50,685.01v1.8M235.72,764.51v-0.9M235.72,685.01v0.9M238.94,764.51v-0.9M238.94,685.01v0.9M242.17,764.51v-0.9M242.17,685.01v0.9M245.39,764.51v-0.9M245.39,685.01v0.9M248.61,764.51v-0.9M248.61,685.01v0.9M251.83,764.51v-0.9M251.83,685.01v0.9M255.06,764.51v-0.9M255.06,685.01v0.9M258.28,764.51v-0.9M258.28,685.01v0.9M261.50,764.51v-0.9M261.50,685.01v0.9M264.72,764.51v-1.8M264.72,685.01v1.8M267.94,764.51v-0.9M267.94,685.01v0.9M271.17,764.51v-0.9M271.17,685.01v0.9M274.39,764.51v-0.9M274.39,685.01v0.9M277.61,764.51v-0.9M277.61,685.01v0.9M280.83,764.51v-0.9M280.83,685.01v0.9M284.06,764.51v-0.9M284.06,685.01v0.9M287.28,764.51v-0.9M287.28,685.01v0.9M290.50,764.51v-0.9M290.50,685.01v0.9" stroke="#000" stroke-width="0.9" fill="none"/>
<text x="171.65" y="764.71" text-anchor="end" class="t">0.0</text>
<text x="171.65" y="748.51" text-anchor="end" class="t">0.5</text>
<text x="171.65" y="728.64" text-anchor="end" class="t">1.0</text>
<text x="171.65" y="708.76" text-anchor="end" class="t">1.5</text>
<text x="171.65" y="691.81" text-anchor="end" class="t">2.0</text>
<text x="200.28" y="777.97" text-anchor="middle" class="t">0</text>
<text x="232.50" y="777.97" text-anchor="middle" class="t">1000</text>
<text x="264.72" y="777.97" text-anchor="middle" class="t">2000</text>
<text x="286.90" y="695.11" text-anchor="end" class="n">Si IV</text>
<clipPath id="c72"><rect x="324.50" y="685.01" width="116.00" height="79.50"/></clipPath>
<line x1="360.70" y1="685.01" x2="360.70" y2="764.51" stroke="#000" stroke-width="0.9"/>
<line x1="396.90" y1="685.01" x2="396.90" y2="764.51" stroke="#000" stroke-width="0.9"/>
<line x1="348.50" y1="685.01" x2="348.50" y2="764.51" stroke="#000" stroke-width="0.9" stroke-dasharray="5.9 5.45" stroke-dashoffset="5.95"/>
<polyline clip-path="url(#c72)" fill="none" stroke="#000" stroke-width="1.25" stroke-linejoin="round" points="324.50,763.55 325.00,763.42 325.50,763.56 326.00,763.37 326.50,763.76 327.00,763.87 327.50,763.72 328.00,763.16 328.50,762.77 329.00,763.40 329.50,763.44 330.00,762.68 330.50,762.89 331.00,763.52 331.50,762.80 332.00,763.43 332.50,762.97 333.00,761.71 333.50,761.67 334.00,762.45 334.50,763.13 335.00,761.90 335.48,762.81 335.95,762.51 336.43,762.31 336.90,762.42 337.38,762.21 337.85,762.20 338.32,762.40 338.80,761.89 339.25,762.29 339.70,762.50 340.15,761.67 340.60,761.38 341.05,761.60 341.50,761.50 341.93,760.35 342.37,760.44 342.80,759.64 343.23,758.34 343.67,759.16 344.10,757.09 344.53,755.72 344.97,753.98 345.40,751.32 345.87,748.24 346.33,743.91 346.80,742.08 347.23,739.43 347.65,738.82 348.10,739.71 348.55,741.36 349.00,742.76 349.43,742.30 349.87,743.49 350.30,744.79 350.70,742.37 351.10,740.32 351.50,738.50 352.00,736.62 352.50,734.54 352.93,734.25 353.37,733.67 353.80,732.17 354.25,728.59 354.70,724.46 355.15,725.41 355.60,726.76 356.05,725.17 356.50,724.59 356.95,722.48 357.40,719.35 357.83,714.50 358.27,709.50 358.70,705.87 359.07,702.81 359.43,700.57 359.80,699.61 360.30,698.50 360.80,697.83 361.30,698.83 361.80,701.30 362.30,707.55 362.80,712.03 363.20,713.65 363.60,714.60 364.00,714.21 364.40,715.28 364.83,715.79 365.27,716.33 365.70,718.66 366.17,721.26 366.63,724.20 367.10,729.84 367.53,731.52 367.97,736.00 368.40,739.45 368.77,742.05 369.13,742.84 369.50,744.94 370.00,746.33 370.50,746.40 371.00,747.72 371.42,749.28 371.84,749.72 372.26,749.40 372.68,750.73 373.10,752.20 373.53,752.78 373.96,753.29 374.39,754.64 374.82,756.24 375.25,757.12 375.71,756.57 376.18,757.29 376.64,756.67 377.11,757.48 377.57,758.49 378.04,758.38 378.50,758.35 378.96,759.08 379.43,758.24 379.89,758.83 380.36,759.04 380.82,757.42 381.29,757.69 381.75,758.70 382.21,757.51 382.68,758.49 383.14,758.50 383.61,757.27 384.07,756.34 384.54,755.22 385.00,755.32 385.46,756.23 385.93,755.31 386.39,754.97 386.86,755.32 387.32,754.12 387.79,754.40 388.25,753.98 388.71,753.87 389.18,752.83 389.64,752.13 390.11,752.05 390.57,750.67 391.04,749.39 391.50,748.87 391.94,747.77 392.38,745.69 392.82,744.78 393.26,742.08 393.70,740.30 394.05,737.90 394.40,733.43 394.75,728.65 395.14,726.29 395.52,721.64 395.91,718.50 396.30,715.99 396.73,713.93 397.17,713.63 397.60,714.39 398.10,714.55 398.60,715.62 399.10,717.60 399.53,718.25 399.96,719.18 400.39,719.27 400.82,721.30 401.25,723.34 401.68,725.79 402.11,728.72 402.54,730.80 402.97,734.06 403.40,737.65 403.84,738.13 404.28,739.06 404.72,742.82 405.16,744.75 405.60,745.74 406.03,746.91 406.46,748.69 406.89,750.85 407.32,751.24 407.75,752.33 408.21,752.85 408.68,753.08 409.14,755.00 409.61,755.48 410.07,757.00 410.54,757.61 411.00,757.75 411.48,759.48 411.96,759.36 412.43,759.74 412.91,759.47 413.39,759.42 413.87,760.62 414.34,760.26 414.82,760.57 415.30,762.22 415.79,761.58 416.28,762.06 416.77,763.47 417.26,762.71 417.74,761.81 418.23,762.81 418.72,762.23 419.21,762.05 419.70,762.42 420.18,762.03 420.66,762.46 421.13,761.85 421.61,762.49 422.09,762.87 422.57,762.15 423.04,762.27 423.52,763.23 424.00,763.22 424.48,763.33 424.96,762.24 425.43,762.86 425.91,762.57 426.39,762.52 426.87,763.19 427.34,763.04 427.82,762.60 428.30,763.06 428.78,762.91 429.26,763.54 429.74,763.26 430.21,763.31 430.69,763.63 431.17,762.51 431.65,763.18 432.13,762.62 432.61,763.45 433.09,763.70 433.56,763.05 434.04,762.43 434.52,763.95 435.00,763.40 435.50,763.30 436.00,762.99 436.50,762.41 437.00,762.60 437.50,763.47 438.00,763.21 438.50,761.71 439.00,762.82 439.50,763.44 440.00,762.61 440.50,762.58"/>
<rect x="324.50" y="685.01" width="116.00" height="79.50" fill="none" stroke="#000" stroke-width="1.0"/>
<path d="M324.50,764.51h2.4M440.50,764.51h-2.4M324.50,751.26h2.4M440.50,751.26h-2.4M324.50,738.01h2.4M440.50,738.01h-2.4M324.50,724.76h2.4M440.50,724.76h-2.4M324.50,711.51h2.4M440.50,711.51h-2.4M324.50,698.26h2.4M440.50,698.26h-2.4M324.50,685.01h2.4M440.50,685.01h-2.4M324.50,763.18h1.2M440.50,763.18h-1.2M324.50,761.86h1.2M440.50,761.86h-1.2M324.50,760.53h1.2M440.50,760.53h-1.2M324.50,759.21h1.2M440.50,759.21h-1.2M324.50,757.88h1.2M440.50,757.88h-1.2M324.50,756.56h1.2M440.50,756.56h-1.2M324.50,755.24h1.2M440.50,755.24h-1.2M324.50,753.91h1.2M440.50,753.91h-1.2M324.50,752.59h1.2M440.50,752.59h-1.2M324.50,749.93h1.2M440.50,749.93h-1.2M324.50,748.61h1.2M440.50,748.61h-1.2M324.50,747.28h1.2M440.50,747.28h-1.2M324.50,745.96h1.2M440.50,745.96h-1.2M324.50,744.63h1.2M440.50,744.63h-1.2M324.50,743.31h1.2M440.50,743.31h-1.2M324.50,741.99h1.2M440.50,741.99h-1.2M324.50,740.66h1.2M440.50,740.66h-1.2M324.50,739.34h1.2M440.50,739.34h-1.2M324.50,736.68h1.2M440.50,736.68h-1.2M324.50,735.36h1.2M440.50,735.36h-1.2M324.50,734.03h1.2M440.50,734.03h-1.2M324.50,732.71h1.2M440.50,732.71h-1.2M324.50,731.38h1.2M440.50,731.38h-1.2M324.50,730.06h1.2M440.50,730.06h-1.2M324.50,728.74h1.2M440.50,728.74h-1.2M324.50,727.41h1.2M440.50,727.41h-1.2M324.50,726.09h1.2M440.50,726.09h-1.2M324.50,723.43h1.2M440.50,723.43h-1.2M324.50,722.11h1.2M440.50,722.11h-1.2M324.50,720.78h1.2M440.50,720.78h-1.2M324.50,719.46h1.2M440.50,719.46h-1.2M324.50,718.13h1.2M440.50,718.13h-1.2M324.50,716.81h1.2M440.50,716.81h-1.2M324.50,715.49h1.2M440.50,715.49h-1.2M324.50,714.16h1.2M440.50,714.16h-1.2M324.50,712.84h1.2M440.50,712.84h-1.2M324.50,710.18h1.2M440.50,710.18h-1.2M324.50,708.86h1.2M440.50,708.86h-1.2M324.50,707.53h1.2M440.50,707.53h-1.2M324.50,706.21h1.2M440.50,706.21h-1.2M324.50,704.88h1.2M440.50,704.88h-1.2M324.50,703.56h1.2M440.50,703.56h-1.2M324.50,702.24h1.2M440.50,702.24h-1.2M324.50,700.91h1.2M440.50,700.91h-1.2M324.50,699.59h1.2M440.50,699.59h-1.2M324.50,696.93h1.2M440.50,696.93h-1.2M324.50,695.61h1.2M440.50,695.61h-1.2M324.50,694.28h1.2M440.50,694.28h-1.2M324.50,692.96h1.2M440.50,692.96h-1.2M324.50,691.63h1.2M440.50,691.63h-1.2M324.50,690.31h1.2M440.50,690.31h-1.2M324.50,688.99h1.2M440.50,688.99h-1.2M324.50,687.66h1.2M440.50,687.66h-1.2M324.50,686.34h1.2M440.50,686.34h-1.2M324.50,764.51v-1.8M324.50,685.01v1.8M331.75,764.51v-0.9M331.75,685.01v0.9M339.00,764.51v-0.9M339.00,685.01v0.9M346.25,764.51v-0.9M346.25,685.01v0.9M353.50,764.51v-0.9M353.50,685.01v0.9M360.75,764.51v-1.8M360.75,685.01v1.8M368.00,764.51v-0.9M368.00,685.01v0.9M375.25,764.51v-0.9M375.25,685.01v0.9M382.50,764.51v-0.9M382.50,685.01v0.9M389.75,764.51v-0.9M389.75,685.01v0.9M397.00,764.51v-1.8M397.00,685.01v1.8M404.25,764.51v-0.9M404.25,685.01v0.9M411.50,764.51v-0.9M411.50,685.01v0.9M418.75,764.51v-0.9M418.75,685.01v0.9M426.00,764.51v-0.9M426.00,685.01v0.9M433.25,764.51v-1.8M433.25,685.01v1.8M440.50,764.51v-0.9M440.50,685.01v0.9" stroke="#000" stroke-width="0.9" fill="none"/>
<text x="321.65" y="764.71" text-anchor="end" class="t">0</text>
<text x="321.65" y="755.14" text-anchor="end" class="t">1</text>
<text x="321.65" y="741.89" text-anchor="end" class="t">2</text>
<text x="321.65" y="728.64" text-anchor="end" class="t">3</text>
<text x="321.65" y="715.39" text-anchor="end" class="t">4</text>
<text x="321.65" y="702.14" text-anchor="end" class="t">5</text>
<text x="321.65" y="691.81" text-anchor="end" class="t">6</text>
<text x="324.50" y="777.97" text-anchor="middle" class="t">−500</text>
<text x="360.75" y="777.97" text-anchor="middle" class="t">0</text>
<text x="397.00" y="777.97" text-anchor="middle" class="t">500</text>
<text x="433.25" y="777.97" text-anchor="middle" class="t">1000</text>
<text x="434.30" y="695.11" text-anchor="end" class="n">C IV</text>
<clipPath id="c73"><rect x="474.50" y="685.01" width="116.40" height="79.50"/></clipPath>
<line x1="532.80" y1="685.01" x2="532.80" y2="764.51" stroke="#000" stroke-width="0.9"/>
<line x1="525.10" y1="685.01" x2="525.10" y2="764.51" stroke="#000" stroke-width="0.9" stroke-dasharray="1.4 2.55" stroke-dashoffset="1.25"/>
<polyline clip-path="url(#c73)" fill="none" stroke="#000" stroke-width="1.25" stroke-linejoin="round" points="474.50,756.56 474.94,756.50 475.38,756.41 475.81,756.30 476.25,756.16 476.69,756.01 477.12,755.84 477.56,755.63 478.00,755.37 478.50,754.88 479.00,754.31 479.50,753.78 480.00,753.34 480.50,752.94 481.00,752.59 481.50,751.94 482.00,751.79 482.50,752.88 483.00,754.57 483.50,756.66 484.00,758.55 484.50,759.54 485.00,759.74 485.50,759.15 486.00,758.16 486.50,757.36 487.00,756.96 487.50,756.74 488.00,756.56 488.50,756.44 489.00,756.37 489.50,756.16 489.94,755.83 490.38,755.39 490.81,754.94 491.25,754.57 491.69,754.32 492.12,754.13 492.56,753.96 493.00,753.78 493.50,753.57 494.00,753.36 494.50,753.15 495.00,752.98 495.50,752.87 496.00,752.81 496.50,752.73 497.00,752.59 497.44,752.33 497.88,752.01 498.31,751.68 498.75,751.39 499.17,750.94 499.58,750.52 500.00,750.60 500.42,751.66 500.83,753.20 501.25,754.17 501.67,754.12 502.08,753.48 502.50,752.59 503.00,751.26 503.50,749.67 504.00,748.61 504.50,748.49 505.00,749.40 505.50,750.92 506.00,752.92 506.50,754.57 507.00,755.62 507.50,756.31 508.00,756.56 508.50,756.19 509.00,755.38 509.50,754.57 510.00,753.88 510.50,753.19 511.00,752.59 511.50,752.22 512.00,751.94 512.50,751.39 513.00,750.29 513.50,748.92 514.00,747.81 514.50,747.23 515.00,746.90 515.50,746.62 516.00,746.49 516.50,746.40 517.00,745.83 517.50,744.38 518.00,742.46 518.50,740.66 519.00,739.25 519.50,737.97 520.00,736.68 520.50,735.36 521.00,734.03 521.50,732.71 522.00,731.38 522.50,730.06 523.00,728.74 523.42,727.29 523.83,725.85 524.25,724.76 524.75,723.99 525.25,723.97 525.75,724.91 526.25,725.95 526.75,725.95 527.25,725.95 527.75,722.87 528.25,718.80 528.75,714.62 529.25,710.85 529.67,709.15 530.08,707.90 530.50,706.87 531.00,705.88 531.50,704.88 532.00,703.07 532.50,700.91 533.00,699.28 533.50,697.55 534.00,696.14 534.42,695.17 534.83,694.51 535.25,694.15 535.75,694.03 536.25,694.95 536.75,698.48 537.25,702.90 537.75,707.12 538.25,710.85 538.75,713.33 539.25,714.82 539.67,714.82 540.08,714.82 540.50,714.82 541.00,716.56 541.50,718.80 542.00,720.78 542.50,722.77 542.92,724.17 543.33,725.57 543.75,726.75 544.17,727.56 544.58,728.15 545.00,728.74 545.50,729.60 546.00,730.72 546.50,732.46 547.00,734.70 547.50,737.85 548.00,740.66 548.42,741.43 548.83,741.66 549.25,741.85 549.67,742.25 550.08,742.60 550.50,742.65 550.92,742.15 551.33,741.34 551.75,740.66 552.17,740.17 552.58,739.82 553.00,739.87 553.42,740.67 553.83,741.88 554.25,742.65 554.67,742.41 555.08,741.73 555.50,741.46 556.00,742.04 556.50,743.03 557.00,743.84 557.50,744.43 558.00,744.75 558.50,744.63 559.00,743.35 559.50,741.46 560.00,739.87 560.50,738.32 561.00,737.88 561.42,738.80 561.83,740.39 562.25,741.85 562.75,742.94 563.25,743.90 563.75,744.63 564.19,744.96 564.62,745.13 565.06,745.25 565.50,745.43 566.00,745.92 566.50,746.45 567.00,746.62 567.50,746.20 568.00,745.42 568.50,744.63 569.00,743.85 569.50,743.07 570.00,742.65 570.50,742.91 571.00,743.53 571.50,743.84 572.00,743.44 572.50,742.74 573.00,742.25 573.50,742.29 574.00,742.56 574.50,742.65 575.00,742.35 575.50,741.88 576.00,741.46 576.50,741.10 577.00,740.79 577.50,740.66 578.00,740.90 578.50,741.31 579.00,741.46 579.50,740.94 580.00,740.16 580.50,739.87 581.00,740.42 581.50,741.47 582.00,742.65 582.50,743.93 583.00,745.34 583.50,746.62 584.00,747.62 584.50,748.49 585.00,749.40 585.50,750.48 586.00,751.60 586.50,752.59 587.00,753.37 587.50,754.01 588.00,754.57 588.42,755.12 588.83,755.57 589.25,755.76 589.67,755.50 590.08,754.97 590.50,754.57"/>
<rect x="474.50" y="685.01" width="116.40" height="79.50" fill="none" stroke="#000" stroke-width="1.0"/>
<path d="M474.50,764.51h2.4M590.90,764.51h-2.4M474.50,744.63h2.4M590.90,744.63h-2.4M474.50,724.76h2.4M590.90,724.76h-2.4M474.50,704.88h2.4M590.90,704.88h-2.4M474.50,685.01h2.4M590.90,685.01h-2.4M474.50,760.53h1.2M590.90,760.53h-1.2M474.50,756.56h1.2M590.90,756.56h-1.2M474.50,752.59h1.2M590.90,752.59h-1.2M474.50,748.61h1.2M590.90,748.61h-1.2M474.50,740.66h1.2M590.90,740.66h-1.2M474.50,736.68h1.2M590.90,736.68h-1.2M474.50,732.71h1.2M590.90,732.71h-1.2M474.50,728.74h1.2M590.90,728.74h-1.2M474.50,720.78h1.2M590.90,720.78h-1.2M474.50,716.81h1.2M590.90,716.81h-1.2M474.50,712.84h1.2M590.90,712.84h-1.2M474.50,708.86h1.2M590.90,708.86h-1.2M474.50,700.91h1.2M590.90,700.91h-1.2M474.50,696.93h1.2M590.90,696.93h-1.2M474.50,692.96h1.2M590.90,692.96h-1.2M474.50,688.99h1.2M590.90,688.99h-1.2M474.50,764.51v-1.8M474.50,685.01v1.8M477.41,764.51v-0.9M477.41,685.01v0.9M480.32,764.51v-0.9M480.32,685.01v0.9M483.23,764.51v-0.9M483.23,685.01v0.9M486.14,764.51v-0.9M486.14,685.01v0.9M489.05,764.51v-0.9M489.05,685.01v0.9M491.96,764.51v-0.9M491.96,685.01v0.9M494.87,764.51v-0.9M494.87,685.01v0.9M497.78,764.51v-0.9M497.78,685.01v0.9M500.69,764.51v-0.9M500.69,685.01v0.9M503.60,764.51v-1.8M503.60,685.01v1.8M506.51,764.51v-0.9M506.51,685.01v0.9M509.42,764.51v-0.9M509.42,685.01v0.9M512.33,764.51v-0.9M512.33,685.01v0.9M515.24,764.51v-0.9M515.24,685.01v0.9M518.15,764.51v-0.9M518.15,685.01v0.9M521.06,764.51v-0.9M521.06,685.01v0.9M523.97,764.51v-0.9M523.97,685.01v0.9M526.88,764.51v-0.9M526.88,685.01v0.9M529.79,764.51v-0.9M529.79,685.01v0.9M532.70,764.51v-1.8M532.70,685.01v1.8M535.61,764.51v-0.9M535.61,685.01v0.9M538.52,764.51v-0.9M538.52,685.01v0.9M541.43,764.51v-0.9M541.43,685.01v0.9M544.34,764.51v-0.9M544.34,685.01v0.9M547.25,764.51v-0.9M547.25,685.01v0.9M550.16,764.51v-0.9M550.16,685.01v0.9M553.07,764.51v-0.9M553.07,685.01v0.9M555.98,764.51v-0.9M555.98,685.01v0.9M558.89,764.51v-0.9M558.89,685.01v0.9M561.80,764.51v-1.8M561.80,685.01v1.8M564.71,764.51v-0.9M564.71,685.01v0.9M567.62,764.51v-0.9M567.62,685.01v0.9M570.53,764.51v-0.9M570.53,685.01v0.9M573.44,764.51v-0.9M573.44,685.01v0.9M576.35,764.51v-0.9M576.35,685.01v0.9M579.26,764.51v-0.9M579.26,685.01v0.9M582.17,764.51v-0.9M582.17,685.01v0.9M585.08,764.51v-0.9M585.08,685.01v0.9M587.99,764.51v-0.9M587.99,685.01v0.9M590.90,764.51v-1.8M590.90,685.01v1.8" stroke="#000" stroke-width="0.9" fill="none"/>
<text x="471.65" y="764.71" text-anchor="end" class="t">0.0</text>
<text x="471.65" y="748.51" text-anchor="end" class="t">0.5</text>
<text x="471.65" y="728.64" text-anchor="end" class="t">1.0</text>
<text x="471.65" y="708.76" text-anchor="end" class="t">1.5</text>
<text x="471.65" y="691.81" text-anchor="end" class="t">2.0</text>
<text x="474.50" y="777.97" text-anchor="middle" class="t">−200</text>
<text x="503.60" y="777.97" text-anchor="middle" class="t">−100</text>
<text x="532.70" y="777.97" text-anchor="middle" class="t">0</text>
<text x="561.80" y="777.97" text-anchor="middle" class="t">100</text>
<text x="590.90" y="777.97" text-anchor="middle" class="t">200</text>
<text x="480.30" y="695.11" class="n">DE Tau</text>
<text x="588.60" y="695.11" text-anchor="end" class="n">He II</text>
<text x="301.3" y="790.6" text-anchor="middle" class="a">(a)</text>
</g>
</svg>
</body></html>
